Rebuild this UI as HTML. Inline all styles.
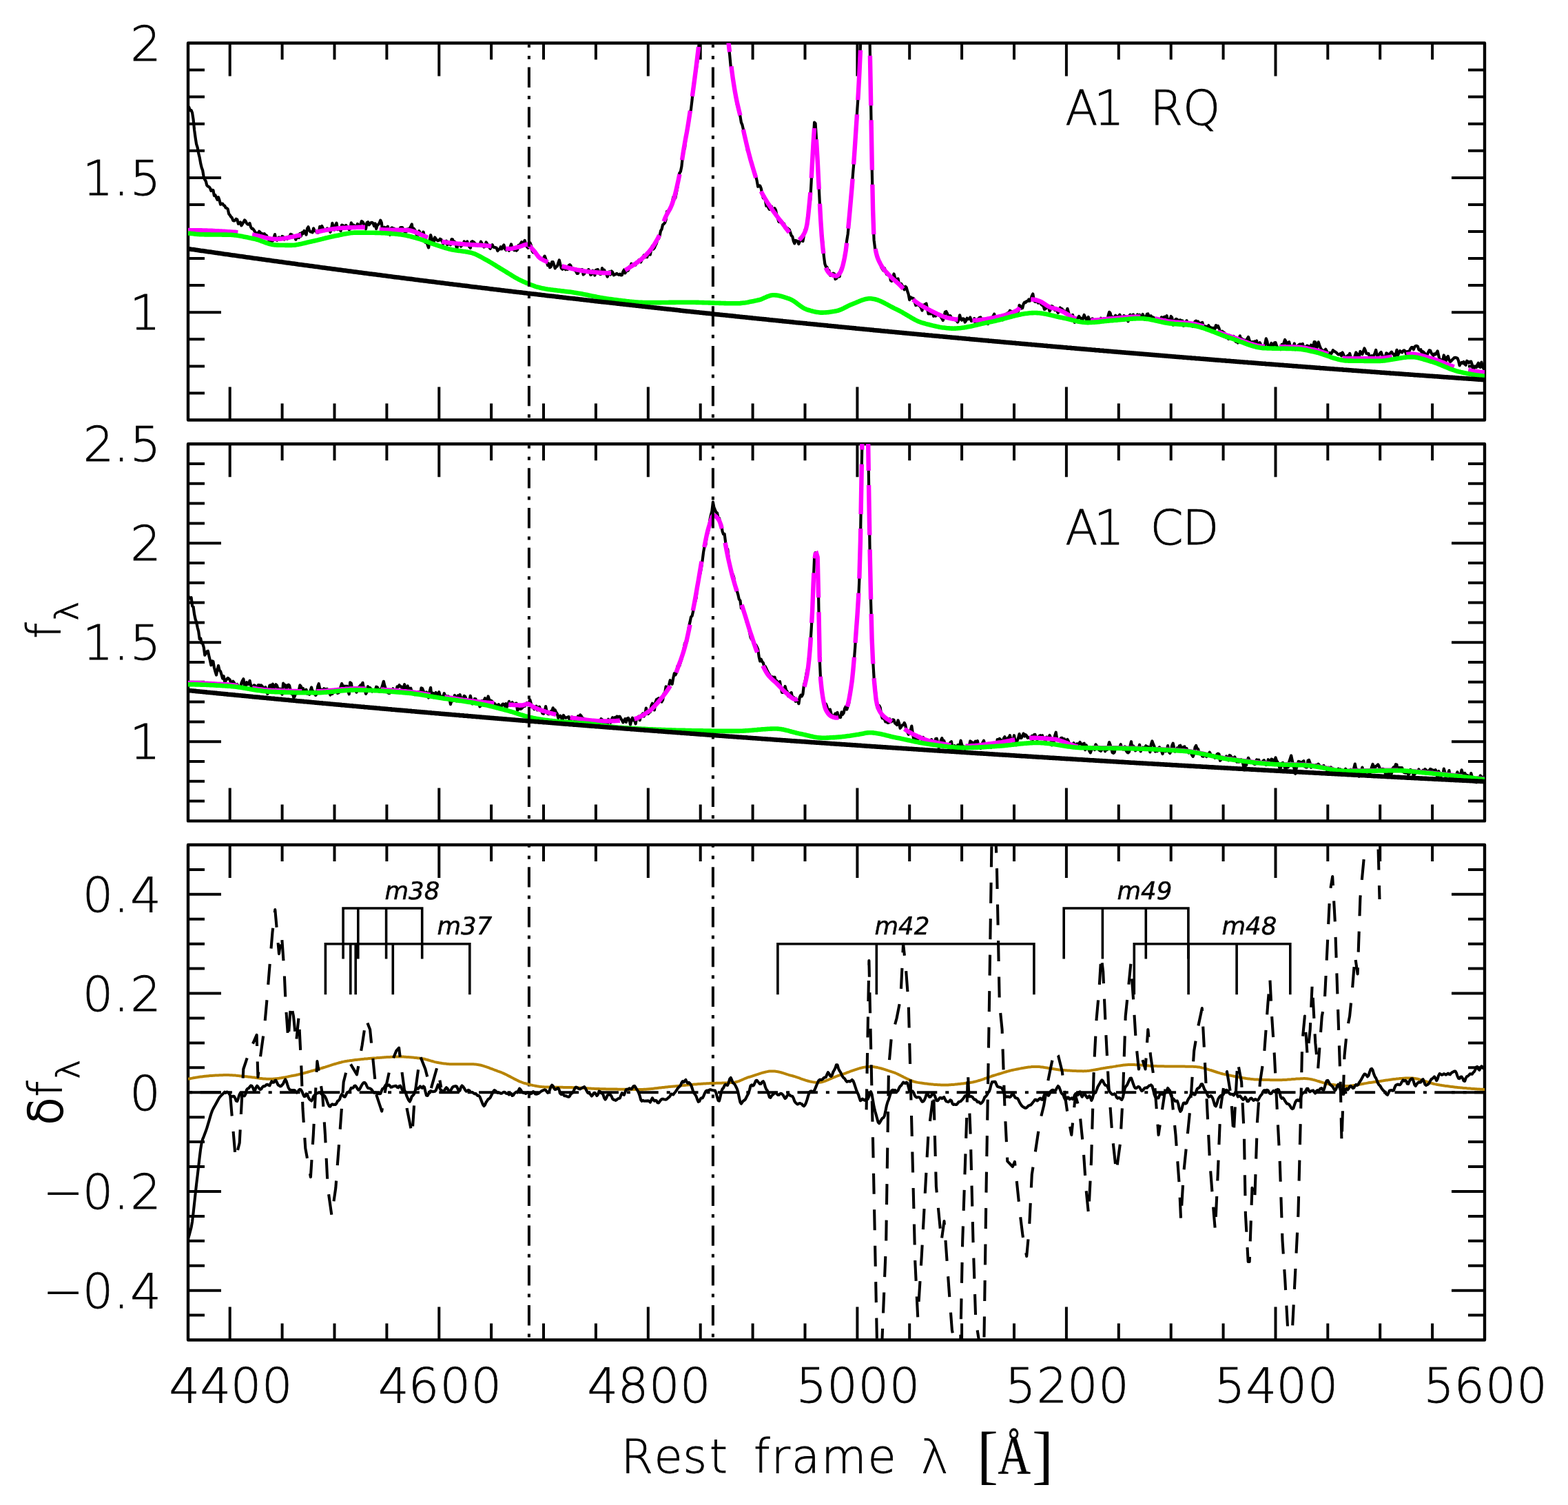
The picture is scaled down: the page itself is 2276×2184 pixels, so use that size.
<!DOCTYPE html>
<html><head><meta charset="utf-8"><title>Spectra</title><style>html,body{margin:0;padding:0;background:#fff;}svg{display:block;}</style></head><body>
<svg width="2276" height="2184" viewBox="0 0 2276 2184">
<rect width="2276" height="2184" fill="#fff"/>
<defs>
<clipPath id="c1"><rect x="273.0" y="62.5" width="1882.0" height="547.0"/></clipPath>
<clipPath id="c2"><rect x="273.0" y="644.2" width="1882.0" height="547.2"/></clipPath>
<clipPath id="c3"><rect x="273.0" y="1226.0" width="1882.0" height="718.5"/></clipPath>
</defs>
<rect x="273.0" y="62.5" width="1882.0" height="547.0" fill="none" stroke="#000" stroke-width="4.4" stroke-linejoin="round"/>
<path d="M333.7,62.5V110.5M333.7,609.5V561.5M409.6,62.5V86.5M409.6,609.5V585.5M485.5,62.5V86.5M485.5,609.5V585.5M561.4,62.5V86.5M561.4,609.5V585.5M637.3,62.5V110.5M637.3,609.5V561.5M713.1,62.5V86.5M713.1,609.5V585.5M789.0,62.5V86.5M789.0,609.5V585.5M864.9,62.5V86.5M864.9,609.5V585.5M940.8,62.5V110.5M940.8,609.5V561.5M1016.7,62.5V86.5M1016.7,609.5V585.5M1092.6,62.5V86.5M1092.6,609.5V585.5M1168.5,62.5V86.5M1168.5,609.5V585.5M1244.4,62.5V110.5M1244.4,609.5V561.5M1320.2,62.5V86.5M1320.2,609.5V585.5M1396.1,62.5V86.5M1396.1,609.5V585.5M1472.0,62.5V86.5M1472.0,609.5V585.5M1547.9,62.5V110.5M1547.9,609.5V561.5M1623.8,62.5V86.5M1623.8,609.5V585.5M1699.7,62.5V86.5M1699.7,609.5V585.5M1775.6,62.5V86.5M1775.6,609.5V585.5M1851.5,62.5V110.5M1851.5,609.5V561.5M1927.3,62.5V86.5M1927.3,609.5V585.5M2003.2,62.5V86.5M2003.2,609.5V585.5M2079.1,62.5V86.5M2079.1,609.5V585.5M273.0,570.4H297.0M2155.0,570.4H2131.0M273.0,531.4H297.0M2155.0,531.4H2131.0M273.0,492.3H297.0M2155.0,492.3H2131.0M273.0,453.2H321.0M2155.0,453.2H2107.0M273.0,414.1H297.0M2155.0,414.1H2131.0M273.0,375.1H297.0M2155.0,375.1H2131.0M273.0,336.0H297.0M2155.0,336.0H2131.0M273.0,296.9H297.0M2155.0,296.9H2131.0M273.0,257.9H321.0M2155.0,257.9H2107.0M273.0,218.8H297.0M2155.0,218.8H2131.0M273.0,179.7H297.0M2155.0,179.7H2131.0M273.0,140.6H297.0M2155.0,140.6H2131.0M273.0,101.6H297.0M2155.0,101.6H2131.0" stroke="#000" stroke-width="4" fill="none"/>
<rect x="273.0" y="644.2" width="1882.0" height="547.2" fill="none" stroke="#000" stroke-width="4.4" stroke-linejoin="round"/>
<path d="M333.7,644.2V692.2M333.7,1191.4V1143.4M409.6,644.2V668.2M409.6,1191.4V1167.4M485.5,644.2V668.2M485.5,1191.4V1167.4M561.4,644.2V668.2M561.4,1191.4V1167.4M637.3,644.2V692.2M637.3,1191.4V1143.4M713.1,644.2V668.2M713.1,1191.4V1167.4M789.0,644.2V668.2M789.0,1191.4V1167.4M864.9,644.2V668.2M864.9,1191.4V1167.4M940.8,644.2V692.2M940.8,1191.4V1143.4M1016.7,644.2V668.2M1016.7,1191.4V1167.4M1092.6,644.2V668.2M1092.6,1191.4V1167.4M1168.5,644.2V668.2M1168.5,1191.4V1167.4M1244.4,644.2V692.2M1244.4,1191.4V1143.4M1320.2,644.2V668.2M1320.2,1191.4V1167.4M1396.1,644.2V668.2M1396.1,1191.4V1167.4M1472.0,644.2V668.2M1472.0,1191.4V1167.4M1547.9,644.2V692.2M1547.9,1191.4V1143.4M1623.8,644.2V668.2M1623.8,1191.4V1167.4M1699.7,644.2V668.2M1699.7,1191.4V1167.4M1775.6,644.2V668.2M1775.6,1191.4V1167.4M1851.5,644.2V692.2M1851.5,1191.4V1143.4M1927.3,644.2V668.2M1927.3,1191.4V1167.4M2003.2,644.2V668.2M2003.2,1191.4V1167.4M2079.1,644.2V668.2M2079.1,1191.4V1167.4M273.0,1162.6H297.0M2155.0,1162.6H2131.0M273.0,1133.8H297.0M2155.0,1133.8H2131.0M273.0,1105.0H297.0M2155.0,1105.0H2131.0M273.0,1076.2H321.0M2155.0,1076.2H2107.0M273.0,1047.4H297.0M2155.0,1047.4H2131.0M273.0,1018.6H297.0M2155.0,1018.6H2131.0M273.0,989.8H297.0M2155.0,989.8H2131.0M273.0,961.0H297.0M2155.0,961.0H2131.0M273.0,932.2H321.0M2155.0,932.2H2107.0M273.0,903.4H297.0M2155.0,903.4H2131.0M273.0,874.6H297.0M2155.0,874.6H2131.0M273.0,845.8H297.0M2155.0,845.8H2131.0M273.0,817.0H297.0M2155.0,817.0H2131.0M273.0,788.2H321.0M2155.0,788.2H2107.0M273.0,759.4H297.0M2155.0,759.4H2131.0M273.0,730.6H297.0M2155.0,730.6H2131.0M273.0,701.8H297.0M2155.0,701.8H2131.0M273.0,673.0H297.0M2155.0,673.0H2131.0" stroke="#000" stroke-width="4" fill="none"/>
<rect x="273.0" y="1226.0" width="1882.0" height="718.5" fill="none" stroke="#000" stroke-width="4.4" stroke-linejoin="round"/>
<path d="M333.7,1226.0V1274.0M333.7,1944.5V1896.5M409.6,1226.0V1250.0M409.6,1944.5V1920.5M485.5,1226.0V1250.0M485.5,1944.5V1920.5M561.4,1226.0V1250.0M561.4,1944.5V1920.5M637.3,1226.0V1274.0M637.3,1944.5V1896.5M713.1,1226.0V1250.0M713.1,1944.5V1920.5M789.0,1226.0V1250.0M789.0,1944.5V1920.5M864.9,1226.0V1250.0M864.9,1944.5V1920.5M940.8,1226.0V1274.0M940.8,1944.5V1896.5M1016.7,1226.0V1250.0M1016.7,1944.5V1920.5M1092.6,1226.0V1250.0M1092.6,1944.5V1920.5M1168.5,1226.0V1250.0M1168.5,1944.5V1920.5M1244.4,1226.0V1274.0M1244.4,1944.5V1896.5M1320.2,1226.0V1250.0M1320.2,1944.5V1920.5M1396.1,1226.0V1250.0M1396.1,1944.5V1920.5M1472.0,1226.0V1250.0M1472.0,1944.5V1920.5M1547.9,1226.0V1274.0M1547.9,1944.5V1896.5M1623.8,1226.0V1250.0M1623.8,1944.5V1920.5M1699.7,1226.0V1250.0M1699.7,1944.5V1920.5M1775.6,1226.0V1250.0M1775.6,1944.5V1920.5M1851.5,1226.0V1274.0M1851.5,1944.5V1896.5M1927.3,1226.0V1250.0M1927.3,1944.5V1920.5M2003.2,1226.0V1250.0M2003.2,1944.5V1920.5M2079.1,1226.0V1250.0M2079.1,1944.5V1920.5M273.0,1908.6H297.0M2155.0,1908.6H2131.0M273.0,1872.7H321.0M2155.0,1872.7H2107.0M273.0,1836.7H297.0M2155.0,1836.7H2131.0M273.0,1800.8H297.0M2155.0,1800.8H2131.0M273.0,1764.9H297.0M2155.0,1764.9H2131.0M273.0,1729.0H321.0M2155.0,1729.0H2107.0M273.0,1693.0H297.0M2155.0,1693.0H2131.0M273.0,1657.1H297.0M2155.0,1657.1H2131.0M273.0,1621.2H297.0M2155.0,1621.2H2131.0M273.0,1585.2H321.0M2155.0,1585.2H2107.0M273.0,1549.3H297.0M2155.0,1549.3H2131.0M273.0,1513.4H297.0M2155.0,1513.4H2131.0M273.0,1477.5H297.0M2155.0,1477.5H2131.0M273.0,1441.5H321.0M2155.0,1441.5H2107.0M273.0,1405.6H297.0M2155.0,1405.6H2131.0M273.0,1369.7H297.0M2155.0,1369.7H2131.0M273.0,1333.8H297.0M2155.0,1333.8H2131.0M273.0,1297.8H321.0M2155.0,1297.8H2107.0M273.0,1261.9H297.0M2155.0,1261.9H2131.0" stroke="#000" stroke-width="4" fill="none"/>
<g clip-path="url(#c1)">
<path d="M273.0,154.1 L274.5,156.1 L276.0,160.2 L277.6,160.0 L279.1,163.7 L280.6,173.3 L282.1,188.5 L283.6,199.6 L285.1,209.2 L286.7,214.2 L288.2,222.5 L289.7,228.5 L291.2,237.0 L292.7,243.3 L294.2,247.3 L295.8,257.1 L297.3,260.7 L298.8,263.0 L300.3,268.9 L301.8,270.5 L303.4,271.1 L304.9,273.1 L306.4,276.9 L307.9,275.7 L309.4,276.0 L310.9,283.9 L312.5,283.2 L314.0,286.8 L315.5,289.8 L317.0,286.2 L318.5,290.4 L320.1,296.7 L321.6,295.7 L323.1,295.5 L324.6,298.0 L326.1,298.5 L327.6,301.5 L329.2,302.1 L330.7,303.6 L332.2,310.3 L333.7,312.1 L335.2,314.6 L336.7,315.9 L338.3,320.0 L339.8,320.5 L341.3,319.7 L342.8,317.7 L344.3,318.6 L345.9,324.8 L347.4,324.4 L348.9,322.4 L350.4,327.3 L351.9,325.0 L353.4,322.4 L355.0,319.4 L356.5,320.8 L358.0,324.1 L359.5,325.6 L361.0,325.6 L362.5,324.1 L364.1,329.6 L365.6,331.9 L367.1,331.9 L368.6,334.0 L370.1,336.3 L371.7,339.2 L373.2,338.3 L374.7,338.5 L376.2,335.8 L377.7,337.1 L379.2,339.3 L380.8,339.2 L382.3,341.0 L383.8,339.2 L385.3,341.1 L386.8,341.7 L388.3,345.2 L389.9,347.1 L391.4,352.7 L392.9,354.3 L394.4,349.8 L395.9,349.5 L397.5,345.1 L399.0,340.1 L400.5,347.9 L402.0,348.8 L403.5,345.7 L405.0,344.5 L406.6,346.1 L408.1,345.8 L409.6,342.9 L411.1,343.6 L412.6,347.5 L414.1,345.3 L415.7,344.7 L417.2,346.6 L418.7,343.8 L420.2,344.5 L421.7,339.8 L423.3,340.5 L424.8,341.5 L426.3,343.0 L427.8,343.1 L429.3,347.7 L430.8,344.8 L432.4,340.8 L433.9,345.0 L435.4,338.9 L436.9,342.7 L438.4,337.3 L440.0,338.9 L441.5,334.9 L443.0,336.9 L444.5,340.6 L446.0,331.6 L447.5,329.3 L449.1,334.5 L450.6,336.3 L452.1,336.5 L453.6,337.3 L455.1,331.3 L456.6,334.9 L458.2,335.0 L459.7,337.1 L461.2,337.6 L462.7,337.3 L464.2,328.8 L465.8,330.5 L467.3,328.0 L468.8,331.3 L470.3,334.6 L471.8,333.8 L473.3,333.5 L474.9,331.5 L476.4,332.2 L477.9,333.1 L479.4,336.7 L480.9,332.6 L482.4,323.9 L484.0,331.3 L485.5,333.6 L487.0,326.9 L488.5,323.7 L490.0,333.2 L491.6,331.2 L493.1,332.8 L494.6,335.2 L496.1,326.6 L497.6,327.0 L499.1,328.1 L500.7,330.2 L502.2,326.9 L503.7,329.4 L505.2,329.6 L506.7,333.3 L508.2,332.1 L509.8,323.3 L511.3,327.5 L512.8,326.3 L514.3,327.2 L515.8,329.3 L517.4,328.7 L518.9,324.9 L520.4,327.5 L521.9,327.6 L523.4,325.5 L524.9,320.9 L526.5,322.1 L528.0,324.9 L529.5,330.1 L531.0,332.2 L532.5,323.3 L534.1,322.1 L535.6,326.3 L537.1,324.6 L538.6,323.1 L540.1,322.8 L541.6,324.1 L543.2,328.1 L544.7,324.4 L546.2,332.0 L547.7,326.6 L549.2,325.8 L550.7,323.7 L552.3,319.6 L553.8,323.1 L555.3,335.2 L556.8,337.7 L558.3,329.7 L559.9,333.8 L561.4,330.6 L562.9,328.6 L564.4,338.7 L565.9,340.8 L567.4,331.6 L569.0,330.3 L570.5,331.5 L572.0,331.5 L573.5,335.7 L575.0,338.0 L576.5,333.9 L578.1,336.6 L579.6,338.0 L581.1,330.3 L582.6,330.0 L584.1,330.1 L585.7,335.3 L587.2,335.9 L588.7,337.0 L590.2,335.9 L591.7,332.4 L593.2,334.4 L594.8,330.9 L596.3,328.5 L597.8,325.4 L599.3,336.2 L600.8,331.8 L602.4,334.2 L603.9,337.1 L605.4,342.8 L606.9,339.6 L608.4,335.2 L609.9,338.0 L611.5,339.4 L613.0,340.1 L614.5,336.6 L616.0,342.9 L617.5,352.0 L619.0,350.1 L620.6,355.4 L622.1,359.4 L623.6,348.9 L625.1,341.1 L626.6,345.9 L628.2,352.0 L629.7,350.9 L631.2,344.5 L632.7,346.7 L634.2,348.5 L635.7,349.3 L637.3,348.8 L638.8,346.7 L640.3,347.6 L641.8,350.3 L643.3,353.9 L644.8,351.0 L646.4,352.4 L647.9,349.7 L649.4,355.2 L650.9,353.6 L652.4,353.5 L654.0,355.3 L655.5,347.2 L657.0,347.3 L658.5,352.7 L660.0,350.8 L661.5,353.6 L663.1,361.1 L664.6,354.9 L666.1,353.7 L667.6,354.5 L669.1,357.5 L670.6,355.9 L672.2,354.1 L673.7,350.5 L675.2,352.5 L676.7,353.2 L678.2,350.4 L679.8,355.7 L681.3,358.0 L682.8,359.8 L684.3,350.9 L685.8,350.2 L687.3,351.1 L688.9,352.5 L690.4,354.4 L691.9,355.0 L693.4,356.4 L694.9,356.5 L696.5,354.6 L698.0,350.7 L699.5,353.1 L701.0,356.3 L702.5,358.5 L704.0,357.5 L705.6,351.5 L707.1,353.7 L708.6,356.4 L710.1,358.8 L711.6,360.8 L713.1,357.7 L714.7,355.2 L716.2,358.5 L717.7,359.2 L719.2,359.1 L720.7,359.7 L722.3,364.0 L723.8,361.8 L725.3,361.7 L726.8,358.3 L728.3,361.3 L729.8,357.9 L731.4,355.5 L732.9,360.9 L734.4,362.8 L735.9,360.8 L737.4,361.6 L738.9,363.7 L740.5,358.7 L742.0,354.4 L743.5,360.0 L745.0,361.9 L746.5,363.2 L748.1,360.4 L749.6,363.7 L751.1,362.2 L752.6,355.9 L754.1,358.9 L755.6,353.6 L757.2,351.2 L758.7,354.0 L760.2,352.4 L761.7,348.9 L763.2,354.5 L764.7,357.8 L766.3,359.8 L767.8,355.9 L769.3,352.1 L770.8,355.8 L772.3,363.8 L773.9,366.4 L775.4,366.3 L776.9,365.9 L778.4,368.5 L779.9,369.6 L781.4,371.4 L783.0,374.6 L784.5,375.3 L786.0,375.4 L787.5,376.5 L789.0,374.6 L790.6,371.6 L792.1,375.6 L793.6,380.3 L795.1,385.2 L796.6,382.4 L798.1,388.2 L799.7,387.1 L801.2,380.2 L802.7,380.1 L804.2,384.5 L805.7,389.4 L807.2,387.1 L808.8,386.4 L810.3,381.6 L811.8,377.5 L813.3,383.8 L814.8,389.2 L816.4,390.7 L817.9,388.1 L819.4,388.7 L820.9,391.3 L822.4,389.4 L823.9,391.0 L825.5,385.3 L827.0,384.1 L828.5,385.6 L830.0,390.1 L831.5,389.1 L833.0,390.9 L834.6,392.5 L836.1,393.6 L837.6,397.0 L839.1,396.8 L840.6,391.0 L842.2,392.3 L843.7,391.4 L845.2,391.1 L846.7,398.5 L848.2,397.1 L849.7,393.5 L851.3,392.8 L852.8,394.1 L854.3,391.1 L855.8,393.9 L857.3,398.9 L858.8,397.9 L860.4,392.7 L861.9,394.4 L863.4,399.6 L864.9,392.0 L866.4,391.4 L868.0,391.1 L869.5,396.0 L871.0,397.8 L872.5,397.6 L874.0,389.0 L875.5,393.3 L877.1,391.7 L878.6,396.8 L880.1,397.4 L881.6,401.6 L883.1,397.9 L884.6,394.4 L886.2,398.5 L887.7,393.5 L889.2,395.0 L890.7,399.4 L892.2,398.7 L893.8,397.8 L895.3,396.8 L896.8,398.2 L898.3,398.9 L899.8,397.8 L901.3,399.4 L902.9,399.2 L904.4,394.2 L905.9,391.5 L907.4,396.3 L908.9,392.9 L910.5,393.1 L912.0,392.3 L913.5,386.8 L915.0,387.2 L916.5,382.7 L918.0,386.4 L919.6,384.0 L921.1,384.5 L922.6,384.6 L924.1,380.3 L925.6,379.9 L927.1,377.5 L928.7,378.5 L930.2,380.3 L931.7,376.6 L933.2,373.3 L934.7,370.4 L936.3,373.4 L937.8,371.9 L939.3,373.1 L940.8,366.7 L942.3,369.1 L943.8,369.5 L945.4,361.8 L946.9,356.8 L948.4,361.5 L949.9,359.6 L951.4,356.0 L952.9,353.2 L954.5,346.9 L956.0,346.4 L957.5,342.6 L959.0,335.2 L960.5,332.7 L962.1,326.1 L963.6,325.0 L965.1,323.2 L966.6,319.1 L968.1,306.8 L969.6,307.6 L971.2,305.0 L972.7,302.5 L974.2,298.9 L975.7,294.0 L977.2,286.1 L978.8,289.2 L980.3,287.1 L981.8,279.8 L983.3,272.2 L984.8,258.9 L986.3,251.2 L987.9,248.9 L989.4,241.5 L990.9,227.6 L992.4,215.2 L993.9,215.7 L995.4,201.3 L997.0,193.7 L998.5,181.1 L1000.0,176.0 L1001.5,166.1 L1003.0,158.5 L1004.6,145.1 L1006.1,126.7 L1007.6,116.2 L1009.1,109.4 L1010.6,101.0 L1012.1,91.1 L1013.7,73.8 L1015.2,56.8 L1016.7,38.5 L1018.2,18.9 L1019.7,0.1 L1021.2,-22.7 L1022.8,-42.2 L1024.3,-60.2 L1025.8,-72.1 L1027.3,-76.3 L1028.8,-83.2 L1030.4,-93.4 L1031.9,-99.7 L1033.4,-105.3 L1034.9,-110.4 L1036.4,-110.5 L1037.9,-112.5 L1039.5,-106.6 L1041.0,-99.1 L1042.5,-87.8 L1044.0,-74.6 L1045.5,-62.5 L1047.0,-52.8 L1048.6,-39.8 L1050.1,-25.4 L1051.6,-5.9 L1053.1,16.7 L1054.6,33.3 L1056.2,53.6 L1057.7,67.1 L1059.2,80.2 L1060.7,96.5 L1062.2,103.1 L1063.7,112.7 L1065.3,124.1 L1066.8,134.4 L1068.3,143.1 L1069.8,151.7 L1071.3,156.7 L1072.8,162.9 L1074.4,168.5 L1075.9,177.6 L1077.4,181.1 L1078.9,187.6 L1080.4,195.7 L1082.0,203.0 L1083.5,208.4 L1085.0,219.1 L1086.5,220.3 L1088.0,225.1 L1089.5,230.7 L1091.1,236.5 L1092.6,244.6 L1094.1,248.5 L1095.6,250.5 L1097.1,255.5 L1098.7,262.4 L1100.2,270.8 L1101.7,269.2 L1103.2,269.5 L1104.7,273.3 L1106.2,280.3 L1107.8,287.4 L1109.3,284.6 L1110.8,290.5 L1112.3,299.0 L1113.8,295.5 L1115.3,301.3 L1116.9,303.9 L1118.4,302.5 L1119.9,299.6 L1121.4,304.9 L1122.9,305.2 L1124.5,302.3 L1126.0,305.0 L1127.5,312.6 L1129.0,317.1 L1130.5,322.0 L1132.0,322.1 L1133.6,320.2 L1135.1,321.6 L1136.6,323.9 L1138.1,324.8 L1139.6,331.1 L1141.1,331.7 L1142.7,330.8 L1144.2,332.3 L1145.7,333.3 L1147.2,337.5 L1148.7,341.7 L1150.3,343.4 L1151.8,350.0 L1153.3,353.3 L1154.8,348.9 L1156.3,349.6 L1157.8,350.1 L1159.4,354.1 L1160.9,350.3 L1162.4,348.7 L1163.9,349.0 L1165.4,350.0 L1167.0,341.6 L1168.5,333.4 L1170.0,330.7 L1171.5,326.6 L1173.0,313.7 L1174.5,299.0 L1176.1,290.6 L1177.6,264.6 L1179.1,231.7 L1180.6,203.2 L1182.1,177.7 L1183.6,179.3 L1185.2,204.9 L1186.7,231.5 L1188.2,261.1 L1189.7,292.1 L1191.2,318.6 L1192.8,338.4 L1194.3,352.3 L1195.8,371.3 L1197.3,382.8 L1198.8,387.1 L1200.3,387.5 L1201.9,392.3 L1203.4,392.4 L1204.9,399.7 L1206.4,400.0 L1207.9,399.3 L1209.4,396.6 L1211.0,397.4 L1212.5,405.0 L1214.0,404.2 L1215.5,400.2 L1217.0,401.7 L1218.6,401.3 L1220.1,392.2 L1221.6,388.7 L1223.1,384.9 L1224.6,380.6 L1226.1,370.4 L1227.7,362.9 L1229.2,348.8 L1230.7,339.5 L1232.2,324.2 L1233.7,305.3 L1235.2,289.3 L1236.8,267.7 L1238.3,249.2 L1239.8,231.5 L1241.3,207.6 L1242.8,184.0 L1244.4,157.6 L1245.9,136.1 L1247.4,107.1 L1248.9,68.2 L1250.4,17.4 L1251.9,-52.3 L1253.5,-118.5 L1255.0,-166.7 L1256.5,-172.0 L1258.0,-133.4 L1259.5,-73.3 L1261.1,-7.3 L1262.6,61.7 L1264.1,150.2 L1265.6,239.0 L1267.1,309.8 L1268.6,348.2 L1270.2,360.9 L1271.7,367.5 L1273.2,371.2 L1274.7,374.5 L1276.2,379.7 L1277.7,381.9 L1279.3,388.0 L1280.8,390.4 L1282.3,392.6 L1283.8,389.1 L1285.3,393.4 L1286.9,397.9 L1288.4,398.7 L1289.9,399.0 L1291.4,399.4 L1292.9,406.9 L1294.4,407.9 L1296.0,404.5 L1297.5,397.5 L1299.0,402.3 L1300.5,407.5 L1302.0,406.1 L1303.5,404.4 L1305.1,412.0 L1306.6,414.5 L1308.1,411.8 L1309.6,414.4 L1311.1,417.0 L1312.7,420.4 L1314.2,415.7 L1315.7,417.2 L1317.2,422.7 L1318.7,427.1 L1320.2,435.1 L1321.8,431.1 L1323.3,432.7 L1324.8,432.6 L1326.3,433.4 L1327.8,438.6 L1329.3,443.2 L1330.9,439.8 L1332.4,442.4 L1333.9,443.2 L1335.4,444.5 L1336.9,446.4 L1338.5,450.5 L1340.0,442.7 L1341.5,443.1 L1343.0,441.4 L1344.5,440.4 L1346.0,448.0 L1347.6,455.4 L1349.1,455.0 L1350.6,455.5 L1352.1,453.8 L1353.6,453.8 L1355.2,458.8 L1356.7,455.2 L1358.2,458.6 L1359.7,455.4 L1361.2,456.2 L1362.7,457.6 L1364.3,458.1 L1365.8,460.1 L1367.3,462.2 L1368.8,464.9 L1370.3,459.6 L1371.8,452.9 L1373.4,452.0 L1374.9,454.8 L1376.4,458.6 L1377.9,462.1 L1379.4,458.1 L1381.0,461.4 L1382.5,463.1 L1384.0,463.8 L1385.5,463.4 L1387.0,464.7 L1388.5,465.0 L1390.1,467.5 L1391.6,464.1 L1393.1,457.3 L1394.6,462.8 L1396.1,464.6 L1397.6,462.3 L1399.2,462.7 L1400.7,467.6 L1402.2,465.4 L1403.7,461.8 L1405.2,463.1 L1406.8,463.0 L1408.3,460.5 L1409.8,465.8 L1411.3,465.6 L1412.8,465.4 L1414.3,462.2 L1415.9,470.3 L1417.4,468.7 L1418.9,466.3 L1420.4,462.3 L1421.9,460.9 L1423.4,460.5 L1425.0,467.2 L1426.5,462.9 L1428.0,464.4 L1429.5,465.2 L1431.0,462.6 L1432.6,466.9 L1434.1,470.1 L1435.6,466.2 L1437.1,467.5 L1438.6,464.6 L1440.1,460.5 L1441.7,458.6 L1443.2,455.7 L1444.7,461.1 L1446.2,465.7 L1447.7,464.2 L1449.2,464.0 L1450.8,463.4 L1452.3,459.0 L1453.8,461.8 L1455.3,464.4 L1456.8,457.3 L1458.4,457.0 L1459.9,455.9 L1461.4,455.5 L1462.9,454.0 L1464.4,454.0 L1465.9,450.8 L1467.5,451.8 L1469.0,452.0 L1470.5,452.7 L1472.0,456.8 L1473.5,453.6 L1475.1,451.7 L1476.6,450.7 L1478.1,451.7 L1479.6,442.9 L1481.1,444.2 L1482.6,447.6 L1484.2,447.0 L1485.7,441.0 L1487.2,438.7 L1488.7,439.1 L1490.2,437.0 L1491.7,437.2 L1493.3,434.5 L1494.8,436.7 L1496.3,434.4 L1497.8,429.4 L1499.3,426.5 L1500.9,436.2 L1502.4,437.9 L1503.9,437.8 L1505.4,435.0 L1506.9,439.7 L1508.4,439.2 L1510.0,438.6 L1511.5,441.9 L1513.0,443.1 L1514.5,443.8 L1516.0,449.0 L1517.5,448.4 L1519.1,445.3 L1520.6,444.0 L1522.1,446.7 L1523.6,451.6 L1525.1,448.4 L1526.7,444.1 L1528.2,444.8 L1529.7,447.9 L1531.2,450.1 L1532.7,447.3 L1534.2,451.0 L1535.8,454.0 L1537.3,452.2 L1538.8,446.5 L1540.3,448.5 L1541.8,448.4 L1543.4,452.5 L1544.9,451.2 L1546.4,455.4 L1547.9,454.1 L1549.4,447.8 L1550.9,453.1 L1552.5,459.0 L1554.0,459.3 L1555.5,457.9 L1557.0,456.9 L1558.5,463.1 L1560.0,467.8 L1561.6,464.4 L1563.1,462.7 L1564.6,461.6 L1566.1,458.9 L1567.6,461.1 L1569.2,462.1 L1570.7,466.5 L1572.2,461.1 L1573.7,457.0 L1575.2,460.6 L1576.7,463.4 L1578.3,462.9 L1579.8,460.0 L1581.3,466.6 L1582.8,465.6 L1584.3,463.0 L1585.8,462.4 L1587.4,465.3 L1588.9,464.2 L1590.4,465.0 L1591.9,464.3 L1593.4,465.4 L1595.0,467.8 L1596.5,464.2 L1598.0,461.8 L1599.5,466.1 L1601.0,464.5 L1602.5,462.2 L1604.1,465.8 L1605.6,464.0 L1607.1,465.1 L1608.6,458.1 L1610.1,452.8 L1611.6,454.4 L1613.2,460.7 L1614.7,459.8 L1616.2,460.9 L1617.7,460.3 L1619.2,457.8 L1620.8,463.7 L1622.3,459.2 L1623.8,459.6 L1625.3,456.7 L1626.8,459.9 L1628.3,462.6 L1629.9,459.8 L1631.4,458.0 L1632.9,459.4 L1634.4,459.1 L1635.9,463.0 L1637.5,466.4 L1639.0,458.2 L1640.5,456.7 L1642.0,458.5 L1643.5,458.3 L1645.0,456.4 L1646.6,460.4 L1648.1,461.9 L1649.6,459.3 L1651.1,456.5 L1652.6,461.5 L1654.1,456.8 L1655.7,460.8 L1657.2,461.9 L1658.7,456.0 L1660.2,459.4 L1661.7,463.6 L1663.3,460.7 L1664.8,455.9 L1666.3,455.5 L1667.8,460.0 L1669.3,458.6 L1670.8,458.4 L1672.4,461.9 L1673.9,460.4 L1675.4,461.6 L1676.9,463.7 L1678.4,463.9 L1679.9,462.5 L1681.5,462.9 L1683.0,465.0 L1684.5,464.2 L1686.0,460.3 L1687.5,461.7 L1689.1,460.3 L1690.6,459.6 L1692.1,460.2 L1693.6,458.1 L1695.1,465.5 L1696.6,463.8 L1698.2,464.6 L1699.7,459.0 L1701.2,460.8 L1702.7,471.6 L1704.2,470.2 L1705.7,464.4 L1707.3,462.9 L1708.8,463.6 L1710.3,465.9 L1711.8,464.8 L1713.3,464.4 L1714.9,465.8 L1716.4,465.5 L1717.9,472.8 L1719.4,467.7 L1720.9,469.2 L1722.4,465.3 L1724.0,468.1 L1725.5,470.2 L1727.0,468.0 L1728.5,471.2 L1730.0,472.8 L1731.6,473.9 L1733.1,469.4 L1734.6,466.5 L1736.1,465.6 L1737.6,468.3 L1739.1,466.6 L1740.7,469.4 L1742.2,470.4 L1743.7,468.5 L1745.2,468.0 L1746.7,472.3 L1748.2,473.5 L1749.8,473.5 L1751.3,474.0 L1752.8,475.9 L1754.3,472.3 L1755.8,475.1 L1757.4,475.1 L1758.9,478.1 L1760.4,475.9 L1761.9,476.1 L1763.4,477.3 L1764.9,472.1 L1766.5,474.9 L1768.0,473.0 L1769.5,476.3 L1771.0,482.3 L1772.5,482.7 L1774.0,480.8 L1775.6,481.9 L1777.1,483.0 L1778.6,485.8 L1780.1,490.1 L1781.6,488.4 L1783.2,491.9 L1784.7,486.7 L1786.2,488.6 L1787.7,489.4 L1789.2,488.0 L1790.7,487.9 L1792.3,493.6 L1793.8,495.9 L1795.3,495.3 L1796.8,497.6 L1798.3,493.5 L1799.8,487.3 L1801.4,492.8 L1802.9,491.6 L1804.4,495.9 L1805.9,493.3 L1807.4,494.3 L1809.0,494.0 L1810.5,491.4 L1812.0,489.0 L1813.5,493.5 L1815.0,496.3 L1816.5,499.0 L1818.1,496.1 L1819.6,497.1 L1821.1,495.4 L1822.6,496.3 L1824.1,494.6 L1825.7,503.9 L1827.2,500.9 L1828.7,497.1 L1830.2,500.6 L1831.7,502.7 L1833.2,502.4 L1834.8,504.3 L1836.3,498.7 L1837.8,491.4 L1839.3,495.4 L1840.8,503.3 L1842.3,504.0 L1843.9,501.3 L1845.4,498.0 L1846.9,502.5 L1848.4,502.2 L1849.9,497.3 L1851.5,497.1 L1853.0,501.5 L1854.5,505.1 L1856.0,506.4 L1857.5,505.3 L1859.0,507.1 L1860.6,500.0 L1862.1,501.1 L1863.6,497.5 L1865.1,492.9 L1866.6,495.8 L1868.1,502.0 L1869.7,497.2 L1871.2,496.3 L1872.7,502.1 L1874.2,503.6 L1875.7,502.3 L1877.3,504.0 L1878.8,498.5 L1880.3,507.3 L1881.8,505.6 L1883.3,502.0 L1884.8,500.9 L1886.4,499.7 L1887.9,499.5 L1889.4,500.1 L1890.9,499.0 L1892.4,506.7 L1893.9,503.4 L1895.5,503.6 L1897.0,501.7 L1898.5,501.9 L1900.0,505.4 L1901.5,504.7 L1903.1,500.6 L1904.6,502.0 L1906.1,503.7 L1907.6,496.1 L1909.1,496.3 L1910.6,506.8 L1912.2,502.9 L1913.7,496.4 L1915.2,500.9 L1916.7,504.7 L1918.2,507.3 L1919.8,508.8 L1921.3,508.8 L1922.8,509.1 L1924.3,506.7 L1925.8,509.8 L1927.3,511.9 L1928.9,513.9 L1930.4,512.0 L1931.9,513.7 L1933.4,511.6 L1934.9,508.2 L1936.4,509.7 L1938.0,510.4 L1939.5,511.4 L1941.0,513.0 L1942.5,514.3 L1944.0,514.5 L1945.6,513.0 L1947.1,516.4 L1948.6,511.5 L1950.1,514.5 L1951.6,517.9 L1953.1,517.9 L1954.7,517.8 L1956.2,516.0 L1957.7,516.6 L1959.2,513.0 L1960.7,518.7 L1962.2,523.6 L1963.8,520.9 L1965.3,522.2 L1966.8,516.1 L1968.3,511.5 L1969.8,513.4 L1971.4,519.4 L1972.9,517.2 L1974.4,510.0 L1975.9,512.7 L1977.4,514.0 L1978.9,509.8 L1980.5,505.5 L1982.0,508.9 L1983.5,513.2 L1985.0,513.3 L1986.5,513.2 L1988.0,517.2 L1989.6,518.6 L1991.1,516.3 L1992.6,517.8 L1994.1,515.6 L1995.6,512.7 L1997.2,508.0 L1998.7,515.6 L2000.2,515.8 L2001.7,514.8 L2003.2,512.4 L2004.7,511.1 L2006.3,515.6 L2007.8,518.2 L2009.3,520.3 L2010.8,517.3 L2012.3,512.4 L2013.9,513.3 L2015.4,516.2 L2016.9,514.4 L2018.4,512.0 L2019.9,510.7 L2021.4,513.2 L2023.0,513.9 L2024.5,517.6 L2026.0,514.3 L2027.5,507.8 L2029.0,515.7 L2030.5,512.1 L2032.1,509.2 L2033.6,510.6 L2035.1,511.5 L2036.6,509.2 L2038.1,508.3 L2039.7,509.7 L2041.2,513.8 L2042.7,510.1 L2044.2,510.6 L2045.7,509.4 L2047.2,506.3 L2048.8,504.2 L2050.3,504.1 L2051.8,507.2 L2053.3,503.7 L2054.8,502.0 L2056.3,501.9 L2057.9,502.6 L2059.4,507.5 L2060.9,508.3 L2062.4,507.3 L2063.9,512.5 L2065.5,510.2 L2067.0,511.6 L2068.5,513.2 L2070.0,517.1 L2071.5,515.2 L2073.0,511.5 L2074.6,508.4 L2076.1,508.5 L2077.6,512.3 L2079.1,514.3 L2080.6,515.9 L2082.1,513.5 L2083.7,514.4 L2085.2,511.8 L2086.7,509.5 L2088.2,515.9 L2089.7,521.9 L2091.3,522.1 L2092.8,523.8 L2094.3,522.1 L2095.8,515.5 L2097.3,518.9 L2098.8,524.0 L2100.4,518.7 L2101.9,517.0 L2103.4,522.3 L2104.9,524.9 L2106.4,524.1 L2107.9,522.1 L2109.5,520.6 L2111.0,519.0 L2112.5,518.9 L2114.0,519.3 L2115.5,519.7 L2117.1,523.7 L2118.6,530.4 L2120.1,527.6 L2121.6,526.0 L2123.1,527.1 L2124.6,524.9 L2126.2,528.6 L2127.7,529.7 L2129.2,523.7 L2130.7,524.8 L2132.2,526.5 L2133.8,524.8 L2135.3,524.7 L2136.8,529.2 L2138.3,537.3 L2139.8,534.0 L2141.3,532.5 L2142.9,533.2 L2144.4,529.4 L2145.9,526.8 L2147.4,531.9 L2148.9,532.9 L2150.4,525.6 L2152.0,531.6 L2153.5,534.9 L2155.0,530.9" stroke="#000" stroke-width="4.2" fill="none" stroke-linejoin="round"/>
<path d="M273.0,334.0 L274.5,334.0 L276.0,334.1 L277.6,334.1 L279.1,334.1 L280.6,334.1 L282.1,334.1 L283.6,334.1 L285.1,334.1 L286.7,334.2 L288.2,334.2 L289.7,334.2 L291.2,334.3 L292.7,334.3 L294.2,334.4 L295.8,334.4 L297.3,334.4 L298.8,334.5 L300.3,334.5 L301.8,334.6 L303.4,334.7 L304.9,334.7 L306.4,334.8 L307.9,334.8 L309.4,334.9 L310.9,335.0 L312.5,335.1 L314.0,335.1 L315.5,335.2 L317.0,335.3 L318.5,335.4 L320.1,335.5 L321.6,335.5 L323.1,335.6 L324.6,335.7 L326.1,335.8 L327.6,335.9 L329.2,336.0 L330.7,336.1 L332.2,336.2 L333.7,336.3 L335.2,336.4 L336.7,336.5 L338.3,336.6 L339.8,336.7 L341.3,336.8 L342.8,336.9 L344.3,337.1 L345.9,337.2 L347.4,337.3 L348.9,337.5 L350.4,337.7 L351.9,337.9 L353.4,338.1 L355.0,338.4 L356.5,338.7 L358.0,339.0 L359.5,339.2 L361.0,339.5 L362.5,339.8 L364.1,340.1 L365.6,340.4 L367.1,340.7 L368.6,341.0 L370.1,341.3 L371.7,341.6 L373.2,341.9 L374.7,342.3 L376.2,342.7 L377.7,343.0 L379.2,343.4 L380.8,343.8 L382.3,344.2 L383.8,344.5 L385.3,344.9 L386.8,345.2 L388.3,345.6 L389.9,345.8 L391.4,346.1 L392.9,346.4 L394.4,346.6 L395.9,346.7 L397.5,346.8 L399.0,346.9 L400.5,346.9 L402.0,346.9 L403.5,346.9 L405.0,346.8 L406.6,346.7 L408.1,346.5 L409.6,346.3 L411.1,346.1 L412.6,345.9 L414.1,345.7 L415.7,345.4 L417.2,345.1 L418.7,344.8 L420.2,344.5 L421.7,344.2 L423.3,343.9 L424.8,343.6 L426.3,343.2 L427.8,342.9 L429.3,342.6 L430.8,342.2 L432.4,341.9 L433.9,341.6 L435.4,341.3 L436.9,341.0 L438.4,340.7 L440.0,340.4 L441.5,340.1 L443.0,339.8 L444.5,339.5 L446.0,339.2 L447.5,338.8 L449.1,338.5 L450.6,338.2 L452.1,337.9 L453.6,337.6 L455.1,337.2 L456.6,337.0 L458.2,336.7 L459.7,336.4 L461.2,336.1 L462.7,335.9 L464.2,335.6 L465.8,335.3 L467.3,335.0 L468.8,334.7 L470.3,334.5 L471.8,334.2 L473.3,333.9 L474.9,333.6 L476.4,333.4 L477.9,333.1 L479.4,332.9 L480.9,332.6 L482.4,332.4 L484.0,332.2 L485.5,332.0 L487.0,331.8 L488.5,331.6 L490.0,331.4 L491.6,331.3 L493.1,331.1 L494.6,331.0 L496.1,330.9 L497.6,330.8 L499.1,330.7 L500.7,330.7 L502.2,330.6 L503.7,330.5 L505.2,330.4 L506.7,330.3 L508.2,330.3 L509.8,330.2 L511.3,330.1 L512.8,330.1 L514.3,330.0 L515.8,330.0 L517.4,329.9 L518.9,329.9 L520.4,329.8 L521.9,329.8 L523.4,329.8 L524.9,329.8 L526.5,329.8 L528.0,329.7 L529.5,329.8 L531.0,329.9 L532.5,330.0 L534.1,330.2 L535.6,330.4 L537.1,330.7 L538.6,330.9 L540.1,331.2 L541.6,331.5 L543.2,331.8 L544.7,332.1 L546.2,332.4 L547.7,332.6 L549.2,332.9 L550.7,333.0 L552.3,333.2 L553.8,333.3 L555.3,333.3 L556.8,333.4 L558.3,333.4 L559.9,333.4 L561.4,333.5 L562.9,333.5 L564.4,333.5 L565.9,333.6 L567.4,333.6 L569.0,333.6 L570.5,333.6 L572.0,333.6 L573.5,333.7 L575.0,333.7 L576.5,333.7 L578.1,333.7 L579.6,333.7 L581.1,333.8 L582.6,333.8 L584.1,333.8 L585.7,333.9 L587.2,333.9 L588.7,333.9 L590.2,334.0 L591.7,334.0 L593.2,334.2 L594.8,334.4 L596.3,334.7 L597.8,335.0 L599.3,335.5 L600.8,336.0 L602.4,336.6 L603.9,337.2 L605.4,337.8 L606.9,338.5 L608.4,339.2 L609.9,339.9 L611.5,340.6 L613.0,341.3 L614.5,342.0 L616.0,342.7 L617.5,343.3 L619.0,343.9 L620.6,344.5 L622.1,345.0 L623.6,345.5 L625.1,345.9 L626.6,346.4 L628.2,346.9 L629.7,347.4 L631.2,347.9 L632.7,348.3 L634.2,348.8 L635.7,349.2 L637.3,349.6 L638.8,350.0 L640.3,350.4 L641.8,350.7 L643.3,351.0 L644.8,351.2 L646.4,351.5 L647.9,351.7 L649.4,351.9 L650.9,352.1 L652.4,352.3 L654.0,352.5 L655.5,352.7 L657.0,352.8 L658.5,353.0 L660.0,353.1 L661.5,353.3 L663.1,353.4 L664.6,353.6 L666.1,353.7 L667.6,353.8 L669.1,354.0 L670.6,354.1 L672.2,354.2 L673.7,354.4 L675.2,354.5 L676.7,354.6 L678.2,354.7 L679.8,354.8 L681.3,354.9 L682.8,355.0 L684.3,355.1 L685.8,355.2 L687.3,355.3 L688.9,355.4 L690.4,355.5 L691.9,355.5 L693.4,355.6 L694.9,355.7 L696.5,355.8 L698.0,355.9 L699.5,356.0 L701.0,356.1 L702.5,356.2 L704.0,356.3 L705.6,356.4 L707.1,356.6 L708.6,356.7 L710.1,356.9 L711.6,357.1 L713.1,357.3 L714.7,357.5 L716.2,357.8 L717.7,358.0 L719.2,358.3 L720.7,358.6 L722.3,358.9 L723.8,359.2 L725.3,359.5 L726.8,359.8 L728.3,360.0 L729.8,360.3 L731.4,360.5 L732.9,360.6 L734.4,360.8 L735.9,360.9 L737.4,361.0 L738.9,361.0 L740.5,361.0 L742.0,360.8 L743.5,360.6 L745.0,360.3 L746.5,360.0 L748.1,359.6 L749.6,359.2 L751.1,358.7 L752.6,358.3 L754.1,357.9 L755.6,357.5 L757.2,357.0 L758.7,356.4 L760.2,355.8 L761.7,355.3 L763.2,354.9 L764.7,354.8 L766.3,355.1 L767.8,356.1 L769.3,357.5 L770.8,359.2 L772.3,360.9 L773.9,362.6 L775.4,364.3 L776.9,366.2 L778.4,368.3 L779.9,370.4 L781.4,372.3 L783.0,373.9 L784.5,375.1 L786.0,376.0 L787.5,376.8 L789.0,377.6 L790.6,378.3 L792.1,379.0 L793.6,379.6 L795.1,380.2 L796.6,380.8 L798.1,381.3 L799.7,381.8 L801.2,382.3 L802.7,382.8 L804.2,383.2 L805.7,383.6 L807.2,384.0 L808.8,384.4 L810.3,384.8 L811.8,385.2 L813.3,385.6 L814.8,386.0 L816.4,386.4 L817.9,386.8 L819.4,387.2 L820.9,387.6 L822.4,388.0 L823.9,388.4 L825.5,388.8 L827.0,389.1 L828.5,389.5 L830.0,389.9 L831.5,390.2 L833.0,390.6 L834.6,390.9 L836.1,391.2 L837.6,391.6 L839.1,391.9 L840.6,392.2 L842.2,392.5 L843.7,392.7 L845.2,393.0 L846.7,393.2 L848.2,393.5 L849.7,393.7 L851.3,393.9 L852.8,394.1 L854.3,394.2 L855.8,394.4 L857.3,394.5 L858.8,394.7 L860.4,394.8 L861.9,395.0 L863.4,395.1 L864.9,395.2 L866.4,395.4 L868.0,395.5 L869.5,395.6 L871.0,395.7 L872.5,395.8 L874.0,395.9 L875.5,396.0 L877.1,396.0 L878.6,396.1 L880.1,396.1 L881.6,396.2 L883.1,396.2 L884.6,396.2 L886.2,396.1 L887.7,396.1 L889.2,396.1 L890.7,396.0 L892.2,396.0 L893.8,395.9 L895.3,395.9 L896.8,395.8 L898.3,395.6 L899.8,395.4 L901.3,394.9 L902.9,394.4 L904.4,393.7 L905.9,393.0 L907.4,392.1 L908.9,391.3 L910.5,390.3 L912.0,389.3 L913.5,388.4 L915.0,387.4 L916.5,386.4 L918.0,385.4 L919.6,384.5 L921.1,383.5 L922.6,382.5 L924.1,381.4 L925.6,380.3 L927.1,379.2 L928.7,378.0 L930.2,376.8 L931.7,375.5 L933.2,374.1 L934.7,372.7 L936.3,371.3 L937.8,369.8 L939.3,368.2 L940.8,366.5 L942.3,364.8 L943.8,363.0 L945.4,361.0 L946.9,359.0 L948.4,356.8 L949.9,354.4 L951.4,352.0 L952.9,349.3 L954.5,346.5 L956.0,343.6 L957.5,340.2 L959.0,335.9 L960.5,331.1 L962.1,326.1 L963.6,321.4 L965.1,317.2 L966.6,313.9 L968.1,310.9 L969.6,308.2 L971.2,305.5 L972.7,302.7 L974.2,299.5 L975.7,295.8 L977.2,291.3 L978.8,286.3 L980.3,280.6 L981.8,274.4 L983.3,267.8 L984.8,260.8 L986.3,253.6 L987.9,245.4 L989.4,236.2 L990.9,226.5 L992.4,217.1 L993.9,208.3 L995.4,199.9 L997.0,191.5 L998.5,182.7 L1000.0,173.2 L1001.5,163.2 L1003.0,152.8 L1004.6,142.0 L1006.1,130.9 L1007.6,119.5 L1009.1,108.1 L1010.6,96.4 L1012.1,84.2 L1013.7,71.0 L1015.2,56.3 L1016.7,38.2 L1018.2,17.7 L1019.7,-3.5 L1021.2,-23.8 L1022.8,-41.4 L1024.3,-54.7 L1025.8,-65.4 L1027.3,-75.8 L1028.8,-85.7 L1030.4,-94.7 L1031.9,-102.3 L1033.4,-108.2 L1034.9,-112.0 L1036.4,-113.3 L1037.9,-111.4 L1039.5,-106.3 L1041.0,-98.5 L1042.5,-88.8 L1044.0,-77.8 L1045.5,-66.2 L1047.0,-54.7 L1048.6,-41.5 L1050.1,-25.2 L1051.6,-6.8 L1053.1,12.5 L1054.6,31.4 L1056.2,48.9 L1057.7,63.9 L1059.2,77.2 L1060.7,89.9 L1062.2,101.9 L1063.7,113.1 L1065.3,123.4 L1066.8,132.7 L1068.3,140.8 L1069.8,148.1 L1071.3,154.7 L1072.8,161.0 L1074.4,167.4 L1075.9,174.1 L1077.4,181.0 L1078.9,188.1 L1080.4,195.1 L1082.0,201.9 L1083.5,208.5 L1085.0,214.7 L1086.5,220.7 L1088.0,226.5 L1089.5,232.1 L1091.1,237.5 L1092.6,242.6 L1094.1,247.7 L1095.6,252.7 L1097.1,257.5 L1098.7,262.2 L1100.2,266.6 L1101.7,270.7 L1103.2,274.3 L1104.7,277.6 L1106.2,280.6 L1107.8,283.5 L1109.3,286.2 L1110.8,288.7 L1112.3,291.2 L1113.8,293.6 L1115.3,295.9 L1116.9,298.2 L1118.4,300.5 L1119.9,302.8 L1121.4,305.0 L1122.9,307.1 L1124.5,309.2 L1126.0,311.3 L1127.5,313.3 L1129.0,315.3 L1130.5,317.3 L1132.0,319.3 L1133.6,321.3 L1135.1,323.3 L1136.6,325.3 L1138.1,327.4 L1139.6,329.4 L1141.1,331.5 L1142.7,333.5 L1144.2,335.5 L1145.7,337.5 L1147.2,339.4 L1148.7,341.3 L1150.3,343.5 L1151.8,345.8 L1153.3,347.9 L1154.8,349.4 L1156.3,350.1 L1157.8,349.7 L1159.4,348.7 L1160.9,347.3 L1162.4,345.8 L1163.9,344.1 L1165.4,342.0 L1167.0,339.5 L1168.5,336.2 L1170.0,332.1 L1171.5,325.1 L1173.0,313.8 L1174.5,299.2 L1176.1,282.4 L1177.6,262.5 L1179.1,233.8 L1180.6,207.1 L1182.1,184.4 L1183.6,184.4 L1185.2,207.1 L1186.7,233.3 L1188.2,263.4 L1189.7,291.0 L1191.2,318.8 L1192.8,342.8 L1194.3,359.0 L1195.8,372.3 L1197.3,382.7 L1198.8,388.7 L1200.3,391.9 L1201.9,394.3 L1203.4,396.3 L1204.9,397.6 L1206.4,398.5 L1207.9,399.1 L1209.4,399.7 L1211.0,400.1 L1212.5,400.4 L1214.0,400.5 L1215.5,400.0 L1217.0,398.7 L1218.6,396.8 L1220.1,394.6 L1221.6,391.4 L1223.1,386.5 L1224.6,380.3 L1226.1,373.1 L1227.7,363.7 L1229.2,351.4 L1230.7,336.8 L1232.2,321.0 L1233.7,304.7 L1235.2,287.8 L1236.8,269.5 L1238.3,249.8 L1239.8,228.9 L1241.3,206.8 L1242.8,183.6 L1244.4,159.7 L1245.9,134.5 L1247.4,106.2 L1248.9,73.5 L1250.4,26.9 L1251.9,-44.2 L1253.5,-116.5 L1255.0,-164.7 L1256.5,-167.2 L1258.0,-133.3 L1259.5,-76.4 L1261.1,-7.4 L1262.6,62.5 L1264.1,146.7 L1265.6,232.1 L1267.1,304.6 L1268.6,348.5 L1270.2,358.9 L1271.7,366.6 L1273.2,372.2 L1274.7,376.3 L1276.2,379.5 L1277.7,382.5 L1279.3,385.3 L1280.8,387.8 L1282.3,389.9 L1283.8,391.9 L1285.3,393.6 L1286.9,395.3 L1288.4,396.9 L1289.9,398.5 L1291.4,400.1 L1292.9,401.7 L1294.4,403.1 L1296.0,404.5 L1297.5,405.9 L1299.0,407.2 L1300.5,408.5 L1302.0,409.9 L1303.5,411.2 L1305.1,412.7 L1306.6,414.1 L1308.1,415.7 L1309.6,417.4 L1311.1,419.1 L1312.7,420.9 L1314.2,422.7 L1315.7,424.5 L1317.2,426.3 L1318.7,428.1 L1320.2,429.8 L1321.8,431.4 L1323.3,433.0 L1324.8,434.4 L1326.3,435.6 L1327.8,436.8 L1329.3,437.9 L1330.9,439.0 L1332.4,440.1 L1333.9,441.1 L1335.4,442.1 L1336.9,443.0 L1338.5,444.0 L1340.0,444.9 L1341.5,445.7 L1343.0,446.6 L1344.5,447.4 L1346.0,448.2 L1347.6,449.0 L1349.1,449.8 L1350.6,450.6 L1352.1,451.3 L1353.6,452.1 L1355.2,452.8 L1356.7,453.6 L1358.2,454.3 L1359.7,455.1 L1361.2,455.8 L1362.7,456.5 L1364.3,457.2 L1365.8,457.9 L1367.3,458.5 L1368.8,459.1 L1370.3,459.7 L1371.8,460.2 L1373.4,460.6 L1374.9,461.0 L1376.4,461.4 L1377.9,461.7 L1379.4,462.0 L1381.0,462.3 L1382.5,462.6 L1384.0,462.9 L1385.5,463.1 L1387.0,463.3 L1388.5,463.5 L1390.1,463.7 L1391.6,463.9 L1393.1,464.0 L1394.6,464.2 L1396.1,464.3 L1397.6,464.4 L1399.2,464.5 L1400.7,464.6 L1402.2,464.7 L1403.7,464.7 L1405.2,464.8 L1406.8,464.9 L1408.3,464.9 L1409.8,464.9 L1411.3,464.9 L1412.8,464.9 L1414.3,464.9 L1415.9,464.8 L1417.4,464.7 L1418.9,464.6 L1420.4,464.5 L1421.9,464.3 L1423.4,464.2 L1425.0,464.0 L1426.5,463.8 L1428.0,463.5 L1429.5,463.3 L1431.0,463.1 L1432.6,462.8 L1434.1,462.5 L1435.6,462.3 L1437.1,462.0 L1438.6,461.7 L1440.1,461.4 L1441.7,461.1 L1443.2,460.8 L1444.7,460.5 L1446.2,460.2 L1447.7,459.9 L1449.2,459.5 L1450.8,459.2 L1452.3,458.9 L1453.8,458.6 L1455.3,458.2 L1456.8,457.8 L1458.4,457.4 L1459.9,457.0 L1461.4,456.6 L1462.9,456.1 L1464.4,455.6 L1465.9,455.0 L1467.5,454.5 L1469.0,453.8 L1470.5,453.2 L1472.0,452.5 L1473.5,451.7 L1475.1,450.9 L1476.6,450.1 L1478.1,448.8 L1479.6,447.0 L1481.1,444.8 L1482.6,442.6 L1484.2,440.4 L1485.7,438.7 L1487.2,437.6 L1488.7,436.9 L1490.2,436.2 L1491.7,435.7 L1493.3,435.2 L1494.8,434.8 L1496.3,434.5 L1497.8,434.5 L1499.3,434.5 L1500.9,434.7 L1502.4,435.0 L1503.9,435.4 L1505.4,435.9 L1506.9,436.3 L1508.4,436.8 L1510.0,437.4 L1511.5,438.1 L1513.0,439.0 L1514.5,439.9 L1516.0,440.9 L1517.5,441.9 L1519.1,443.0 L1520.6,443.9 L1522.1,444.8 L1523.6,445.6 L1525.1,446.2 L1526.7,446.7 L1528.2,447.1 L1529.7,447.5 L1531.2,447.8 L1532.7,448.1 L1534.2,448.7 L1535.8,449.3 L1537.3,449.9 L1538.8,450.6 L1540.3,451.2 L1541.8,451.9 L1543.4,452.6 L1544.9,453.3 L1546.4,454.2 L1547.9,455.1 L1549.4,456.1 L1550.9,457.0 L1552.5,458.0 L1554.0,458.9 L1555.5,459.7 L1557.0,460.5 L1558.5,461.2 L1560.0,461.7 L1561.6,462.2 L1563.1,462.6 L1564.6,463.0 L1566.1,463.3 L1567.6,463.7 L1569.2,464.1 L1570.7,464.4 L1572.2,464.6 L1573.7,464.8 L1575.2,464.9 L1576.7,465.0 L1578.3,465.0 L1579.8,465.0 L1581.3,465.0 L1582.8,464.9 L1584.3,464.9 L1585.8,464.8 L1587.4,464.7 L1588.9,464.6 L1590.4,464.5 L1591.9,464.4 L1593.4,464.2 L1595.0,464.1 L1596.5,463.9 L1598.0,463.8 L1599.5,463.6 L1601.0,463.5 L1602.5,463.3 L1604.1,463.1 L1605.6,463.0 L1607.1,462.8 L1608.6,462.7 L1610.1,462.5 L1611.6,462.4 L1613.2,462.2 L1614.7,462.1 L1616.2,462.0 L1617.7,461.9 L1619.2,461.8 L1620.8,461.6 L1622.3,461.5 L1623.8,461.4 L1625.3,461.2 L1626.8,461.1 L1628.3,461.0 L1629.9,460.8 L1631.4,460.7 L1632.9,460.6 L1634.4,460.4 L1635.9,460.3 L1637.5,460.2 L1639.0,460.1 L1640.5,459.9 L1642.0,459.8 L1643.5,459.7 L1645.0,459.7 L1646.6,459.6 L1648.1,459.5 L1649.6,459.5 L1651.1,459.4 L1652.6,459.4 L1654.1,459.4 L1655.7,459.4 L1657.2,459.4 L1658.7,459.4 L1660.2,459.5 L1661.7,459.7 L1663.3,459.8 L1664.8,460.0 L1666.3,460.3 L1667.8,460.5 L1669.3,460.8 L1670.8,461.1 L1672.4,461.4 L1673.9,461.7 L1675.4,462.0 L1676.9,462.4 L1678.4,462.7 L1679.9,463.1 L1681.5,463.4 L1683.0,463.8 L1684.5,464.1 L1686.0,464.5 L1687.5,464.8 L1689.1,465.1 L1690.6,465.4 L1692.1,465.7 L1693.6,466.0 L1695.1,466.3 L1696.6,466.5 L1698.2,466.7 L1699.7,466.9 L1701.2,467.0 L1702.7,467.2 L1704.2,467.3 L1705.7,467.5 L1707.3,467.6 L1708.8,467.7 L1710.3,467.8 L1711.8,467.9 L1713.3,468.0 L1714.9,468.1 L1716.4,468.2 L1717.9,468.3 L1719.4,468.4 L1720.9,468.5 L1722.4,468.7 L1724.0,468.8 L1725.5,469.0 L1727.0,469.1 L1728.5,469.3 L1730.0,469.5 L1731.6,469.8 L1733.1,470.0 L1734.6,470.3 L1736.1,470.6 L1737.6,471.0 L1739.1,471.4 L1740.7,471.8 L1742.2,472.2 L1743.7,472.7 L1745.2,473.1 L1746.7,473.6 L1748.2,474.1 L1749.8,474.6 L1751.3,475.2 L1752.8,475.7 L1754.3,476.3 L1755.8,476.8 L1757.4,477.4 L1758.9,478.0 L1760.4,478.6 L1761.9,479.2 L1763.4,479.8 L1764.9,480.4 L1766.5,481.0 L1768.0,481.6 L1769.5,482.2 L1771.0,482.8 L1772.5,483.3 L1774.0,483.9 L1775.6,484.5 L1777.1,485.1 L1778.6,485.6 L1780.1,486.2 L1781.6,486.7 L1783.2,487.2 L1784.7,487.7 L1786.2,488.2 L1787.7,488.7 L1789.2,489.2 L1790.7,489.7 L1792.3,490.3 L1793.8,490.8 L1795.3,491.4 L1796.8,491.9 L1798.3,492.5 L1799.8,493.1 L1801.4,493.7 L1802.9,494.3 L1804.4,494.8 L1805.9,495.4 L1807.4,496.0 L1809.0,496.6 L1810.5,497.1 L1812.0,497.7 L1813.5,498.2 L1815.0,498.7 L1816.5,499.2 L1818.1,499.6 L1819.6,500.1 L1821.1,500.5 L1822.6,500.9 L1824.1,501.3 L1825.7,501.6 L1827.2,501.9 L1828.7,502.2 L1830.2,502.4 L1831.7,502.6 L1833.2,502.7 L1834.8,502.8 L1836.3,502.9 L1837.8,502.9 L1839.3,503.0 L1840.8,503.0 L1842.3,503.1 L1843.9,503.1 L1845.4,503.2 L1846.9,503.2 L1848.4,503.2 L1849.9,503.3 L1851.5,503.3 L1853.0,503.3 L1854.5,503.3 L1856.0,503.3 L1857.5,503.3 L1859.0,503.3 L1860.6,503.3 L1862.1,503.3 L1863.6,503.3 L1865.1,503.4 L1866.6,503.4 L1868.1,503.4 L1869.7,503.4 L1871.2,503.4 L1872.7,503.4 L1874.2,503.4 L1875.7,503.5 L1877.3,503.5 L1878.8,503.5 L1880.3,503.6 L1881.8,503.6 L1883.3,503.7 L1884.8,503.8 L1886.4,503.9 L1887.9,504.0 L1889.4,504.2 L1890.9,504.4 L1892.4,504.7 L1893.9,504.9 L1895.5,505.2 L1897.0,505.5 L1898.5,505.8 L1900.0,506.1 L1901.5,506.5 L1903.1,506.8 L1904.6,507.1 L1906.1,507.4 L1907.6,507.7 L1909.1,508.0 L1910.6,508.4 L1912.2,508.8 L1913.7,509.2 L1915.2,509.6 L1916.7,510.0 L1918.2,510.5 L1919.8,511.0 L1921.3,511.5 L1922.8,512.0 L1924.3,512.5 L1925.8,513.0 L1927.3,513.5 L1928.9,514.1 L1930.4,514.6 L1931.9,515.1 L1933.4,515.6 L1934.9,516.1 L1936.4,516.5 L1938.0,517.0 L1939.5,517.4 L1941.0,517.8 L1942.5,518.2 L1944.0,518.6 L1945.6,518.9 L1947.1,519.2 L1948.6,519.5 L1950.1,519.7 L1951.6,519.9 L1953.1,520.0 L1954.7,520.1 L1956.2,520.1 L1957.7,520.1 L1959.2,520.1 L1960.7,520.1 L1962.2,520.2 L1963.8,520.2 L1965.3,520.2 L1966.8,520.2 L1968.3,520.2 L1969.8,520.2 L1971.4,520.2 L1972.9,520.2 L1974.4,520.2 L1975.9,520.2 L1977.4,520.2 L1978.9,520.2 L1980.5,520.2 L1982.0,520.2 L1983.5,520.2 L1985.0,520.2 L1986.5,520.2 L1988.0,520.2 L1989.6,520.1 L1991.1,520.1 L1992.6,520.1 L1994.1,520.1 L1995.6,520.1 L1997.2,520.1 L1998.7,520.1 L2000.2,520.1 L2001.7,520.0 L2003.2,520.0 L2004.7,519.9 L2006.3,519.7 L2007.8,519.6 L2009.3,519.4 L2010.8,519.2 L2012.3,519.0 L2013.9,518.8 L2015.4,518.5 L2016.9,518.3 L2018.4,518.0 L2019.9,517.7 L2021.4,517.5 L2023.0,517.2 L2024.5,516.9 L2026.0,516.6 L2027.5,516.3 L2029.0,516.0 L2030.5,515.7 L2032.1,515.5 L2033.6,515.2 L2035.1,515.0 L2036.6,514.7 L2038.1,514.5 L2039.7,514.3 L2041.2,514.2 L2042.7,514.0 L2044.2,513.9 L2045.7,513.8 L2047.2,513.7 L2048.8,513.7 L2050.3,513.7 L2051.8,513.8 L2053.3,513.9 L2054.8,514.1 L2056.3,514.3 L2057.9,514.6 L2059.4,514.9 L2060.9,515.3 L2062.4,515.7 L2063.9,516.1 L2065.5,516.5 L2067.0,516.9 L2068.5,517.4 L2070.0,517.8 L2071.5,518.3 L2073.0,518.7 L2074.6,519.2 L2076.1,519.6 L2077.6,520.0 L2079.1,520.5 L2080.6,520.9 L2082.1,521.4 L2083.7,521.9 L2085.2,522.5 L2086.7,523.0 L2088.2,523.6 L2089.7,524.2 L2091.3,524.8 L2092.8,525.4 L2094.3,526.0 L2095.8,526.7 L2097.3,527.3 L2098.8,527.9 L2100.4,528.5 L2101.9,529.1 L2103.4,529.7 L2104.9,530.3 L2106.4,530.9 L2107.9,531.4 L2109.5,531.9 L2111.0,532.4 L2112.5,532.9 L2114.0,533.3 L2115.5,533.7 L2117.1,534.1 L2118.6,534.4 L2120.1,534.8 L2121.6,535.1 L2123.1,535.4 L2124.6,535.8 L2126.2,536.1 L2127.7,536.4 L2129.2,536.7 L2130.7,537.0 L2132.2,537.3 L2133.8,537.5 L2135.3,537.8 L2136.8,538.1 L2138.3,538.3 L2139.8,538.6 L2141.3,538.8 L2142.9,539.0 L2144.4,539.2 L2145.9,539.4 L2147.4,539.6 L2148.9,539.8 L2150.4,540.0 L2152.0,540.1 L2153.5,540.2 L2155.0,540.3" stroke="#ff00ff" stroke-width="6.4" fill="none" stroke-dasharray="72.5 21"/>
<path d="M273.0,338.3 L274.5,338.5 L276.0,338.7 L277.6,338.9 L279.1,339.1 L280.6,339.3 L282.1,339.4 L283.6,339.6 L285.1,339.7 L286.7,339.9 L288.2,340.0 L289.7,340.1 L291.2,340.2 L292.7,340.3 L294.2,340.3 L295.8,340.3 L297.3,340.4 L298.8,340.4 L300.3,340.4 L301.8,340.4 L303.4,340.4 L304.9,340.4 L306.4,340.5 L307.9,340.5 L309.4,340.5 L310.9,340.5 L312.5,340.5 L314.0,340.5 L315.5,340.5 L317.0,340.5 L318.5,340.5 L320.1,340.5 L321.6,340.5 L323.1,340.6 L324.6,340.6 L326.1,340.6 L327.6,340.6 L329.2,340.6 L330.7,340.7 L332.2,340.7 L333.7,340.7 L335.2,340.8 L336.7,340.9 L338.3,341.0 L339.8,341.2 L341.3,341.4 L342.8,341.5 L344.3,341.8 L345.9,342.0 L347.4,342.2 L348.9,342.5 L350.4,342.8 L351.9,343.1 L353.4,343.4 L355.0,343.7 L356.5,344.0 L358.0,344.3 L359.5,344.6 L361.0,344.9 L362.5,345.3 L364.1,345.6 L365.6,345.9 L367.1,346.2 L368.6,346.5 L370.1,346.9 L371.7,347.3 L373.2,347.7 L374.7,348.2 L376.2,348.7 L377.7,349.2 L379.2,349.8 L380.8,350.3 L382.3,350.9 L383.8,351.5 L385.3,352.0 L386.8,352.5 L388.3,353.1 L389.9,353.5 L391.4,354.0 L392.9,354.4 L394.4,354.7 L395.9,355.0 L397.5,355.3 L399.0,355.4 L400.5,355.5 L402.0,355.6 L403.5,355.6 L405.0,355.7 L406.6,355.7 L408.1,355.8 L409.6,355.8 L411.1,355.8 L412.6,355.8 L414.1,355.9 L415.7,355.9 L417.2,355.9 L418.7,355.9 L420.2,355.9 L421.7,355.9 L423.3,355.9 L424.8,355.8 L426.3,355.7 L427.8,355.6 L429.3,355.4 L430.8,355.1 L432.4,354.9 L433.9,354.6 L435.4,354.3 L436.9,354.0 L438.4,353.6 L440.0,353.3 L441.5,352.9 L443.0,352.6 L444.5,352.2 L446.0,351.8 L447.5,351.4 L449.1,351.1 L450.6,350.7 L452.1,350.4 L453.6,350.1 L455.1,349.7 L456.6,349.4 L458.2,349.1 L459.7,348.7 L461.2,348.4 L462.7,348.0 L464.2,347.6 L465.8,347.2 L467.3,346.9 L468.8,346.5 L470.3,346.1 L471.8,345.7 L473.3,345.3 L474.9,345.0 L476.4,344.6 L477.9,344.3 L479.4,343.9 L480.9,343.6 L482.4,343.2 L484.0,342.9 L485.5,342.6 L487.0,342.3 L488.5,342.0 L490.0,341.7 L491.6,341.4 L493.1,341.1 L494.6,340.8 L496.1,340.4 L497.6,340.1 L499.1,339.8 L500.7,339.5 L502.2,339.2 L503.7,338.9 L505.2,338.7 L506.7,338.4 L508.2,338.2 L509.8,338.0 L511.3,337.9 L512.8,337.7 L514.3,337.6 L515.8,337.6 L517.4,337.6 L518.9,337.6 L520.4,337.6 L521.9,337.6 L523.4,337.6 L524.9,337.6 L526.5,337.6 L528.0,337.6 L529.5,337.6 L531.0,337.6 L532.5,337.7 L534.1,337.7 L535.6,337.7 L537.1,337.7 L538.6,337.8 L540.1,337.8 L541.6,337.8 L543.2,337.8 L544.7,337.9 L546.2,337.9 L547.7,337.9 L549.2,338.0 L550.7,338.0 L552.3,338.0 L553.8,338.1 L555.3,338.2 L556.8,338.2 L558.3,338.3 L559.9,338.4 L561.4,338.5 L562.9,338.6 L564.4,338.7 L565.9,338.8 L567.4,338.9 L569.0,339.1 L570.5,339.2 L572.0,339.3 L573.5,339.5 L575.0,339.6 L576.5,339.8 L578.1,340.0 L579.6,340.1 L581.1,340.3 L582.6,340.5 L584.1,340.7 L585.7,341.0 L587.2,341.2 L588.7,341.5 L590.2,341.8 L591.7,342.2 L593.2,342.5 L594.8,342.9 L596.3,343.3 L597.8,343.7 L599.3,344.1 L600.8,344.5 L602.4,344.9 L603.9,345.4 L605.4,345.8 L606.9,346.2 L608.4,346.7 L609.9,347.1 L611.5,347.6 L613.0,348.2 L614.5,348.7 L616.0,349.3 L617.5,349.8 L619.0,350.4 L620.6,351.0 L622.1,351.5 L623.6,352.1 L625.1,352.7 L626.6,353.3 L628.2,353.8 L629.7,354.4 L631.2,354.9 L632.7,355.4 L634.2,355.9 L635.7,356.4 L637.3,356.9 L638.8,357.4 L640.3,357.9 L641.8,358.4 L643.3,358.9 L644.8,359.3 L646.4,359.8 L647.9,360.2 L649.4,360.7 L650.9,361.1 L652.4,361.5 L654.0,361.8 L655.5,362.2 L657.0,362.5 L658.5,362.8 L660.0,363.0 L661.5,363.3 L663.1,363.5 L664.6,363.7 L666.1,363.9 L667.6,364.1 L669.1,364.3 L670.6,364.5 L672.2,364.7 L673.7,364.9 L675.2,365.1 L676.7,365.4 L678.2,365.6 L679.8,365.9 L681.3,366.2 L682.8,366.5 L684.3,366.9 L685.8,367.3 L687.3,367.8 L688.9,368.4 L690.4,369.0 L691.9,369.7 L693.4,370.4 L694.9,371.2 L696.5,372.0 L698.0,372.8 L699.5,373.7 L701.0,374.5 L702.5,375.4 L704.0,376.2 L705.6,377.0 L707.1,377.8 L708.6,378.7 L710.1,379.6 L711.6,380.5 L713.1,381.4 L714.7,382.3 L716.2,383.2 L717.7,384.2 L719.2,385.1 L720.7,386.1 L722.3,387.0 L723.8,387.9 L725.3,388.9 L726.8,389.8 L728.3,390.7 L729.8,391.6 L731.4,392.5 L732.9,393.5 L734.4,394.4 L735.9,395.4 L737.4,396.3 L738.9,397.3 L740.5,398.2 L742.0,399.1 L743.5,400.1 L745.0,401.0 L746.5,401.9 L748.1,402.8 L749.6,403.6 L751.1,404.5 L752.6,405.3 L754.1,406.1 L755.6,406.8 L757.2,407.5 L758.7,408.2 L760.2,408.9 L761.7,409.5 L763.2,410.2 L764.7,410.9 L766.3,411.5 L767.8,412.1 L769.3,412.8 L770.8,413.4 L772.3,413.9 L773.9,414.5 L775.4,415.0 L776.9,415.6 L778.4,416.1 L779.9,416.5 L781.4,416.9 L783.0,417.3 L784.5,417.7 L786.0,418.1 L787.5,418.4 L789.0,418.6 L790.6,418.9 L792.1,419.2 L793.6,419.4 L795.1,419.7 L796.6,419.9 L798.1,420.1 L799.7,420.4 L801.2,420.6 L802.7,420.8 L804.2,421.0 L805.7,421.1 L807.2,421.3 L808.8,421.5 L810.3,421.7 L811.8,421.8 L813.3,422.0 L814.8,422.2 L816.4,422.4 L817.9,422.5 L819.4,422.7 L820.9,422.9 L822.4,423.1 L823.9,423.2 L825.5,423.4 L827.0,423.6 L828.5,423.8 L830.0,424.0 L831.5,424.2 L833.0,424.5 L834.6,424.7 L836.1,424.9 L837.6,425.2 L839.1,425.5 L840.6,425.7 L842.2,426.0 L843.7,426.3 L845.2,426.6 L846.7,426.9 L848.2,427.2 L849.7,427.5 L851.3,427.8 L852.8,428.1 L854.3,428.4 L855.8,428.7 L857.3,429.1 L858.8,429.4 L860.4,429.7 L861.9,430.0 L863.4,430.3 L864.9,430.6 L866.4,430.9 L868.0,431.2 L869.5,431.5 L871.0,431.8 L872.5,432.0 L874.0,432.3 L875.5,432.6 L877.1,432.8 L878.6,433.0 L880.1,433.3 L881.6,433.5 L883.1,433.7 L884.6,433.9 L886.2,434.1 L887.7,434.3 L889.2,434.5 L890.7,434.7 L892.2,434.9 L893.8,435.1 L895.3,435.3 L896.8,435.5 L898.3,435.7 L899.8,435.9 L901.3,436.0 L902.9,436.2 L904.4,436.4 L905.9,436.6 L907.4,436.8 L908.9,437.0 L910.5,437.2 L912.0,437.3 L913.5,437.5 L915.0,437.7 L916.5,437.8 L918.0,438.0 L919.6,438.1 L921.1,438.2 L922.6,438.4 L924.1,438.5 L925.6,438.6 L927.1,438.7 L928.7,438.8 L930.2,438.9 L931.7,438.9 L933.2,439.0 L934.7,439.1 L936.3,439.1 L937.8,439.1 L939.3,439.1 L940.8,439.1 L942.3,439.1 L943.8,439.1 L945.4,439.1 L946.9,439.1 L948.4,439.1 L949.9,439.1 L951.4,439.1 L952.9,439.1 L954.5,439.1 L956.0,439.1 L957.5,439.1 L959.0,439.1 L960.5,439.0 L962.1,439.0 L963.6,439.0 L965.1,439.0 L966.6,439.0 L968.1,439.0 L969.6,439.0 L971.2,438.9 L972.7,438.9 L974.2,438.9 L975.7,438.9 L977.2,438.9 L978.8,438.9 L980.3,438.9 L981.8,438.8 L983.3,438.8 L984.8,438.8 L986.3,438.8 L987.9,438.8 L989.4,438.8 L990.9,438.8 L992.4,438.8 L993.9,438.8 L995.4,438.8 L997.0,438.8 L998.5,438.8 L1000.0,438.8 L1001.5,438.8 L1003.0,438.8 L1004.6,438.8 L1006.1,438.8 L1007.6,438.8 L1009.1,438.8 L1010.6,438.9 L1012.1,438.9 L1013.7,438.9 L1015.2,439.0 L1016.7,439.0 L1018.2,439.0 L1019.7,439.1 L1021.2,439.1 L1022.8,439.2 L1024.3,439.2 L1025.8,439.3 L1027.3,439.3 L1028.8,439.4 L1030.4,439.4 L1031.9,439.5 L1033.4,439.5 L1034.9,439.6 L1036.4,439.6 L1037.9,439.7 L1039.5,439.7 L1041.0,439.8 L1042.5,439.8 L1044.0,439.9 L1045.5,439.9 L1047.0,440.0 L1048.6,440.0 L1050.1,440.0 L1051.6,440.1 L1053.1,440.1 L1054.6,440.2 L1056.2,440.2 L1057.7,440.2 L1059.2,440.2 L1060.7,440.3 L1062.2,440.3 L1063.7,440.3 L1065.3,440.3 L1066.8,440.3 L1068.3,440.3 L1069.8,440.3 L1071.3,440.3 L1072.8,440.2 L1074.4,440.1 L1075.9,439.9 L1077.4,439.8 L1078.9,439.6 L1080.4,439.4 L1082.0,439.2 L1083.5,438.9 L1085.0,438.7 L1086.5,438.4 L1088.0,438.1 L1089.5,437.8 L1091.1,437.5 L1092.6,437.2 L1094.1,436.9 L1095.6,436.6 L1097.1,436.3 L1098.7,435.9 L1100.2,435.6 L1101.7,435.3 L1103.2,434.8 L1104.7,434.3 L1106.2,433.7 L1107.8,433.0 L1109.3,432.3 L1110.8,431.7 L1112.3,431.0 L1113.8,430.4 L1115.3,429.8 L1116.9,429.3 L1118.4,428.8 L1119.9,428.5 L1121.4,428.3 L1122.9,428.2 L1124.5,428.2 L1126.0,428.4 L1127.5,428.5 L1129.0,428.8 L1130.5,429.1 L1132.0,429.4 L1133.6,429.8 L1135.1,430.2 L1136.6,430.6 L1138.1,431.1 L1139.6,431.6 L1141.1,432.1 L1142.7,432.6 L1144.2,433.2 L1145.7,433.7 L1147.2,434.3 L1148.7,435.0 L1150.3,435.8 L1151.8,436.8 L1153.3,437.8 L1154.8,438.8 L1156.3,439.9 L1157.8,441.1 L1159.4,442.2 L1160.9,443.3 L1162.4,444.4 L1163.9,445.5 L1165.4,446.4 L1167.0,447.3 L1168.5,448.1 L1170.0,448.8 L1171.5,449.3 L1173.0,449.8 L1174.5,450.2 L1176.1,450.7 L1177.6,451.1 L1179.1,451.5 L1180.6,451.9 L1182.1,452.2 L1183.6,452.6 L1185.2,452.9 L1186.7,453.1 L1188.2,453.3 L1189.7,453.5 L1191.2,453.6 L1192.8,453.6 L1194.3,453.6 L1195.8,453.5 L1197.3,453.5 L1198.8,453.4 L1200.3,453.2 L1201.9,453.1 L1203.4,452.9 L1204.9,452.7 L1206.4,452.5 L1207.9,452.3 L1209.4,452.0 L1211.0,451.8 L1212.5,451.5 L1214.0,451.3 L1215.5,450.9 L1217.0,450.5 L1218.6,450.0 L1220.1,449.4 L1221.6,448.8 L1223.1,448.1 L1224.6,447.3 L1226.1,446.5 L1227.7,445.8 L1229.2,445.0 L1230.7,444.2 L1232.2,443.4 L1233.7,442.7 L1235.2,442.1 L1236.8,441.5 L1238.3,440.9 L1239.8,440.3 L1241.3,439.7 L1242.8,439.0 L1244.4,438.4 L1245.9,437.8 L1247.4,437.1 L1248.9,436.5 L1250.4,435.9 L1251.9,435.4 L1253.5,434.9 L1255.0,434.4 L1256.5,434.0 L1258.0,433.7 L1259.5,433.5 L1261.1,433.3 L1262.6,433.3 L1264.1,433.3 L1265.6,433.5 L1267.1,433.7 L1268.6,433.9 L1270.2,434.3 L1271.7,434.7 L1273.2,435.2 L1274.7,435.7 L1276.2,436.3 L1277.7,436.9 L1279.3,437.6 L1280.8,438.3 L1282.3,439.1 L1283.8,439.8 L1285.3,440.6 L1286.9,441.4 L1288.4,442.2 L1289.9,443.0 L1291.4,443.9 L1292.9,444.7 L1294.4,445.5 L1296.0,446.3 L1297.5,447.1 L1299.0,447.9 L1300.5,448.6 L1302.0,449.3 L1303.5,450.0 L1305.1,450.8 L1306.6,451.6 L1308.1,452.4 L1309.6,453.2 L1311.1,454.1 L1312.7,455.0 L1314.2,455.9 L1315.7,456.8 L1317.2,457.7 L1318.7,458.6 L1320.2,459.5 L1321.8,460.4 L1323.3,461.3 L1324.8,462.2 L1326.3,463.0 L1327.8,463.8 L1329.3,464.6 L1330.9,465.4 L1332.4,466.1 L1333.9,466.7 L1335.4,467.3 L1336.9,467.9 L1338.5,468.4 L1340.0,468.8 L1341.5,469.2 L1343.0,469.7 L1344.5,470.1 L1346.0,470.5 L1347.6,470.8 L1349.1,471.2 L1350.6,471.6 L1352.1,472.0 L1353.6,472.4 L1355.2,472.7 L1356.7,473.1 L1358.2,473.4 L1359.7,473.8 L1361.2,474.1 L1362.7,474.4 L1364.3,474.7 L1365.8,474.9 L1367.3,475.2 L1368.8,475.4 L1370.3,475.6 L1371.8,475.8 L1373.4,476.0 L1374.9,476.2 L1376.4,476.3 L1377.9,476.4 L1379.4,476.5 L1381.0,476.6 L1382.5,476.6 L1384.0,476.7 L1385.5,476.6 L1387.0,476.6 L1388.5,476.5 L1390.1,476.4 L1391.6,476.3 L1393.1,476.2 L1394.6,476.0 L1396.1,475.8 L1397.6,475.6 L1399.2,475.4 L1400.7,475.1 L1402.2,474.9 L1403.7,474.6 L1405.2,474.3 L1406.8,474.0 L1408.3,473.7 L1409.8,473.4 L1411.3,473.1 L1412.8,472.7 L1414.3,472.4 L1415.9,472.0 L1417.4,471.7 L1418.9,471.3 L1420.4,471.0 L1421.9,470.6 L1423.4,470.2 L1425.0,469.9 L1426.5,469.5 L1428.0,469.2 L1429.5,468.9 L1431.0,468.5 L1432.6,468.2 L1434.1,467.9 L1435.6,467.6 L1437.1,467.3 L1438.6,467.0 L1440.1,466.7 L1441.7,466.4 L1443.2,466.0 L1444.7,465.7 L1446.2,465.3 L1447.7,464.9 L1449.2,464.6 L1450.8,464.2 L1452.3,463.8 L1453.8,463.4 L1455.3,463.0 L1456.8,462.6 L1458.4,462.1 L1459.9,461.7 L1461.4,461.3 L1462.9,460.9 L1464.4,460.5 L1465.9,460.1 L1467.5,459.7 L1469.0,459.3 L1470.5,458.9 L1472.0,458.5 L1473.5,458.1 L1475.1,457.8 L1476.6,457.4 L1478.1,457.1 L1479.6,456.7 L1481.1,456.4 L1482.6,456.1 L1484.2,455.8 L1485.7,455.6 L1487.2,455.3 L1488.7,455.1 L1490.2,454.9 L1491.7,454.7 L1493.3,454.5 L1494.8,454.3 L1496.3,454.2 L1497.8,454.1 L1499.3,454.1 L1500.9,454.0 L1502.4,454.0 L1503.9,454.0 L1505.4,454.1 L1506.9,454.2 L1508.4,454.3 L1510.0,454.5 L1511.5,454.6 L1513.0,454.9 L1514.5,455.1 L1516.0,455.4 L1517.5,455.6 L1519.1,455.9 L1520.6,456.3 L1522.1,456.6 L1523.6,456.9 L1525.1,457.3 L1526.7,457.6 L1528.2,458.0 L1529.7,458.4 L1531.2,458.7 L1532.7,459.1 L1534.2,459.5 L1535.8,459.8 L1537.3,460.2 L1538.8,460.5 L1540.3,460.8 L1541.8,461.1 L1543.4,461.4 L1544.9,461.7 L1546.4,462.0 L1547.9,462.4 L1549.4,462.7 L1550.9,463.1 L1552.5,463.5 L1554.0,463.8 L1555.5,464.2 L1557.0,464.6 L1558.5,465.0 L1560.0,465.4 L1561.6,465.7 L1563.1,466.1 L1564.6,466.4 L1566.1,466.7 L1567.6,467.0 L1569.2,467.3 L1570.7,467.5 L1572.2,467.7 L1573.7,467.8 L1575.2,468.0 L1576.7,468.0 L1578.3,468.1 L1579.8,468.1 L1581.3,468.0 L1582.8,468.0 L1584.3,467.9 L1585.8,467.8 L1587.4,467.7 L1588.9,467.6 L1590.4,467.5 L1591.9,467.4 L1593.4,467.2 L1595.0,467.1 L1596.5,466.9 L1598.0,466.8 L1599.5,466.6 L1601.0,466.4 L1602.5,466.3 L1604.1,466.1 L1605.6,465.9 L1607.1,465.8 L1608.6,465.6 L1610.1,465.5 L1611.6,465.3 L1613.2,465.2 L1614.7,465.1 L1616.2,464.9 L1617.7,464.8 L1619.2,464.7 L1620.8,464.6 L1622.3,464.4 L1623.8,464.3 L1625.3,464.2 L1626.8,464.0 L1628.3,463.9 L1629.9,463.7 L1631.4,463.6 L1632.9,463.5 L1634.4,463.3 L1635.9,463.2 L1637.5,463.1 L1639.0,462.9 L1640.5,462.8 L1642.0,462.7 L1643.5,462.6 L1645.0,462.5 L1646.6,462.4 L1648.1,462.4 L1649.6,462.3 L1651.1,462.3 L1652.6,462.2 L1654.1,462.2 L1655.7,462.2 L1657.2,462.2 L1658.7,462.3 L1660.2,462.4 L1661.7,462.5 L1663.3,462.7 L1664.8,462.9 L1666.3,463.1 L1667.8,463.3 L1669.3,463.6 L1670.8,463.9 L1672.4,464.2 L1673.9,464.5 L1675.4,464.8 L1676.9,465.2 L1678.4,465.5 L1679.9,465.8 L1681.5,466.2 L1683.0,466.5 L1684.5,466.9 L1686.0,467.2 L1687.5,467.6 L1689.1,467.9 L1690.6,468.2 L1692.1,468.5 L1693.6,468.8 L1695.1,469.0 L1696.6,469.2 L1698.2,469.4 L1699.7,469.6 L1701.2,469.8 L1702.7,469.9 L1704.2,470.1 L1705.7,470.2 L1707.3,470.3 L1708.8,470.4 L1710.3,470.5 L1711.8,470.6 L1713.3,470.7 L1714.9,470.8 L1716.4,470.9 L1717.9,471.0 L1719.4,471.1 L1720.9,471.2 L1722.4,471.3 L1724.0,471.5 L1725.5,471.6 L1727.0,471.8 L1728.5,472.0 L1730.0,472.2 L1731.6,472.4 L1733.1,472.7 L1734.6,473.0 L1736.1,473.3 L1737.6,473.6 L1739.1,474.0 L1740.7,474.4 L1742.2,474.8 L1743.7,475.3 L1745.2,475.7 L1746.7,476.2 L1748.2,476.7 L1749.8,477.2 L1751.3,477.8 L1752.8,478.3 L1754.3,478.9 L1755.8,479.4 L1757.4,480.0 L1758.9,480.6 L1760.4,481.2 L1761.9,481.7 L1763.4,482.3 L1764.9,482.9 L1766.5,483.5 L1768.0,484.1 L1769.5,484.7 L1771.0,485.3 L1772.5,485.9 L1774.0,486.5 L1775.6,487.0 L1777.1,487.6 L1778.6,488.2 L1780.1,488.7 L1781.6,489.2 L1783.2,489.7 L1784.7,490.2 L1786.2,490.7 L1787.7,491.2 L1789.2,491.7 L1790.7,492.2 L1792.3,492.8 L1793.8,493.3 L1795.3,493.9 L1796.8,494.4 L1798.3,495.0 L1799.8,495.6 L1801.4,496.2 L1802.9,496.7 L1804.4,497.3 L1805.9,497.9 L1807.4,498.5 L1809.0,499.0 L1810.5,499.6 L1812.0,500.1 L1813.5,500.6 L1815.0,501.1 L1816.5,501.6 L1818.1,502.1 L1819.6,502.5 L1821.1,502.9 L1822.6,503.3 L1824.1,503.7 L1825.7,504.0 L1827.2,504.3 L1828.7,504.6 L1830.2,504.8 L1831.7,505.0 L1833.2,505.1 L1834.8,505.2 L1836.3,505.2 L1837.8,505.3 L1839.3,505.4 L1840.8,505.4 L1842.3,505.5 L1843.9,505.5 L1845.4,505.5 L1846.9,505.6 L1848.4,505.6 L1849.9,505.6 L1851.5,505.6 L1853.0,505.7 L1854.5,505.7 L1856.0,505.7 L1857.5,505.7 L1859.0,505.8 L1860.6,505.8 L1862.1,505.8 L1863.6,505.8 L1865.1,505.8 L1866.6,505.9 L1868.1,505.9 L1869.7,505.9 L1871.2,506.0 L1872.7,506.0 L1874.2,506.0 L1875.7,506.1 L1877.3,506.1 L1878.8,506.2 L1880.3,506.2 L1881.8,506.3 L1883.3,506.4 L1884.8,506.4 L1886.4,506.6 L1887.9,506.7 L1889.4,506.9 L1890.9,507.2 L1892.4,507.4 L1893.9,507.7 L1895.5,508.0 L1897.0,508.3 L1898.5,508.6 L1900.0,509.0 L1901.5,509.3 L1903.1,509.7 L1904.6,510.0 L1906.1,510.3 L1907.6,510.6 L1909.1,511.0 L1910.6,511.3 L1912.2,511.7 L1913.7,512.2 L1915.2,512.6 L1916.7,513.1 L1918.2,513.5 L1919.8,514.0 L1921.3,514.6 L1922.8,515.1 L1924.3,515.6 L1925.8,516.1 L1927.3,516.7 L1928.9,517.2 L1930.4,517.7 L1931.9,518.3 L1933.4,518.8 L1934.9,519.3 L1936.4,519.8 L1938.0,520.2 L1939.5,520.7 L1941.0,521.1 L1942.5,521.5 L1944.0,521.9 L1945.6,522.2 L1947.1,522.5 L1948.6,522.8 L1950.1,523.0 L1951.6,523.2 L1953.1,523.4 L1954.7,523.5 L1956.2,523.5 L1957.7,523.6 L1959.2,523.6 L1960.7,523.6 L1962.2,523.6 L1963.8,523.7 L1965.3,523.7 L1966.8,523.7 L1968.3,523.7 L1969.8,523.7 L1971.4,523.8 L1972.9,523.8 L1974.4,523.8 L1975.9,523.8 L1977.4,523.8 L1978.9,523.8 L1980.5,523.9 L1982.0,523.9 L1983.5,523.9 L1985.0,523.9 L1986.5,523.9 L1988.0,523.9 L1989.6,523.9 L1991.1,523.9 L1992.6,523.9 L1994.1,523.9 L1995.6,523.9 L1997.2,523.9 L1998.7,523.9 L2000.2,523.9 L2001.7,523.9 L2003.2,523.9 L2004.7,523.8 L2006.3,523.7 L2007.8,523.5 L2009.3,523.4 L2010.8,523.2 L2012.3,523.0 L2013.9,522.8 L2015.4,522.6 L2016.9,522.3 L2018.4,522.1 L2019.9,521.8 L2021.4,521.5 L2023.0,521.3 L2024.5,521.0 L2026.0,520.7 L2027.5,520.5 L2029.0,520.2 L2030.5,519.9 L2032.1,519.7 L2033.6,519.4 L2035.1,519.2 L2036.6,519.0 L2038.1,518.8 L2039.7,518.6 L2041.2,518.5 L2042.7,518.3 L2044.2,518.2 L2045.7,518.1 L2047.2,518.1 L2048.8,518.1 L2050.3,518.1 L2051.8,518.2 L2053.3,518.3 L2054.8,518.6 L2056.3,518.8 L2057.9,519.1 L2059.4,519.4 L2060.9,519.8 L2062.4,520.2 L2063.9,520.6 L2065.5,521.0 L2067.0,521.5 L2068.5,522.0 L2070.0,522.4 L2071.5,522.9 L2073.0,523.4 L2074.6,523.8 L2076.1,524.3 L2077.6,524.7 L2079.1,525.2 L2080.6,525.6 L2082.1,526.1 L2083.7,526.7 L2085.2,527.2 L2086.7,527.8 L2088.2,528.4 L2089.7,529.0 L2091.3,529.6 L2092.8,530.2 L2094.3,530.9 L2095.8,531.5 L2097.3,532.2 L2098.8,532.8 L2100.4,533.4 L2101.9,534.0 L2103.4,534.7 L2104.9,535.3 L2106.4,535.8 L2107.9,536.4 L2109.5,536.9 L2111.0,537.4 L2112.5,537.9 L2114.0,538.4 L2115.5,538.8 L2117.1,539.2 L2118.6,539.5 L2120.1,539.9 L2121.6,540.2 L2123.1,540.6 L2124.6,540.9 L2126.2,541.2 L2127.7,541.6 L2129.2,541.9 L2130.7,542.2 L2132.2,542.5 L2133.8,542.8 L2135.3,543.1 L2136.8,543.4 L2138.3,543.6 L2139.8,543.9 L2141.3,544.1 L2142.9,544.4 L2144.4,544.6 L2145.9,544.8 L2147.4,545.0 L2148.9,545.2 L2150.4,545.4 L2152.0,545.5 L2153.5,545.7 L2155.0,545.8" stroke="#00ff00" stroke-width="6.6" fill="none"/>
<path d="M273.0,361.0 L274.5,361.2 L276.0,361.4 L277.6,361.7 L279.1,361.9 L280.6,362.1 L282.1,362.3 L283.6,362.6 L285.1,362.8 L286.7,363.0 L288.2,363.2 L289.7,363.4 L291.2,363.7 L292.7,363.9 L294.2,364.1 L295.8,364.3 L297.3,364.5 L298.8,364.7 L300.3,365.0 L301.8,365.2 L303.4,365.4 L304.9,365.6 L306.4,365.8 L307.9,366.1 L309.4,366.3 L310.9,366.5 L312.5,366.7 L314.0,366.9 L315.5,367.1 L317.0,367.4 L318.5,367.6 L320.1,367.8 L321.6,368.0 L323.1,368.2 L324.6,368.5 L326.1,368.7 L327.6,368.9 L329.2,369.1 L330.7,369.3 L332.2,369.5 L333.7,369.7 L335.2,370.0 L336.7,370.2 L338.3,370.4 L339.8,370.6 L341.3,370.8 L342.8,371.0 L344.3,371.3 L345.9,371.5 L347.4,371.7 L348.9,371.9 L350.4,372.1 L351.9,372.3 L353.4,372.5 L355.0,372.7 L356.5,373.0 L358.0,373.2 L359.5,373.4 L361.0,373.6 L362.5,373.8 L364.1,374.0 L365.6,374.2 L367.1,374.5 L368.6,374.7 L370.1,374.9 L371.7,375.1 L373.2,375.3 L374.7,375.5 L376.2,375.7 L377.7,375.9 L379.2,376.1 L380.8,376.4 L382.3,376.6 L383.8,376.8 L385.3,377.0 L386.8,377.2 L388.3,377.4 L389.9,377.6 L391.4,377.8 L392.9,378.0 L394.4,378.3 L395.9,378.5 L397.5,378.7 L399.0,378.9 L400.5,379.1 L402.0,379.3 L403.5,379.5 L405.0,379.7 L406.6,379.9 L408.1,380.1 L409.6,380.3 L411.1,380.6 L412.6,380.8 L414.1,381.0 L415.7,381.2 L417.2,381.4 L418.7,381.6 L420.2,381.8 L421.7,382.0 L423.3,382.2 L424.8,382.4 L426.3,382.6 L427.8,382.8 L429.3,383.0 L430.8,383.2 L432.4,383.5 L433.9,383.7 L435.4,383.9 L436.9,384.1 L438.4,384.3 L440.0,384.5 L441.5,384.7 L443.0,384.9 L444.5,385.1 L446.0,385.3 L447.5,385.5 L449.1,385.7 L450.6,385.9 L452.1,386.1 L453.6,386.3 L455.1,386.5 L456.6,386.7 L458.2,386.9 L459.7,387.1 L461.2,387.3 L462.7,387.5 L464.2,387.8 L465.8,388.0 L467.3,388.2 L468.8,388.4 L470.3,388.6 L471.8,388.8 L473.3,389.0 L474.9,389.2 L476.4,389.4 L477.9,389.6 L479.4,389.8 L480.9,390.0 L482.4,390.2 L484.0,390.4 L485.5,390.6 L487.0,390.8 L488.5,391.0 L490.0,391.2 L491.6,391.4 L493.1,391.6 L494.6,391.8 L496.1,392.0 L497.6,392.2 L499.1,392.4 L500.7,392.6 L502.2,392.8 L503.7,393.0 L505.2,393.2 L506.7,393.4 L508.2,393.6 L509.8,393.8 L511.3,394.0 L512.8,394.2 L514.3,394.4 L515.8,394.6 L517.4,394.8 L518.9,395.0 L520.4,395.2 L521.9,395.4 L523.4,395.6 L524.9,395.8 L526.5,396.0 L528.0,396.2 L529.5,396.4 L531.0,396.6 L532.5,396.8 L534.1,397.0 L535.6,397.2 L537.1,397.4 L538.6,397.6 L540.1,397.8 L541.6,398.0 L543.2,398.1 L544.7,398.3 L546.2,398.5 L547.7,398.7 L549.2,398.9 L550.7,399.1 L552.3,399.3 L553.8,399.5 L555.3,399.7 L556.8,399.9 L558.3,400.1 L559.9,400.3 L561.4,400.5 L562.9,400.7 L564.4,400.9 L565.9,401.1 L567.4,401.3 L569.0,401.5 L570.5,401.7 L572.0,401.9 L573.5,402.1 L575.0,402.2 L576.5,402.4 L578.1,402.6 L579.6,402.8 L581.1,403.0 L582.6,403.2 L584.1,403.4 L585.7,403.6 L587.2,403.8 L588.7,404.0 L590.2,404.2 L591.7,404.4 L593.2,404.6 L594.8,404.8 L596.3,404.9 L597.8,405.1 L599.3,405.3 L600.8,405.5 L602.4,405.7 L603.9,405.9 L605.4,406.1 L606.9,406.3 L608.4,406.5 L609.9,406.7 L611.5,406.9 L613.0,407.0 L614.5,407.2 L616.0,407.4 L617.5,407.6 L619.0,407.8 L620.6,408.0 L622.1,408.2 L623.6,408.4 L625.1,408.6 L626.6,408.8 L628.2,408.9 L629.7,409.1 L631.2,409.3 L632.7,409.5 L634.2,409.7 L635.7,409.9 L637.3,410.1 L638.8,410.3 L640.3,410.5 L641.8,410.6 L643.3,410.8 L644.8,411.0 L646.4,411.2 L647.9,411.4 L649.4,411.6 L650.9,411.8 L652.4,412.0 L654.0,412.2 L655.5,412.3 L657.0,412.5 L658.5,412.7 L660.0,412.9 L661.5,413.1 L663.1,413.3 L664.6,413.5 L666.1,413.6 L667.6,413.8 L669.1,414.0 L670.6,414.2 L672.2,414.4 L673.7,414.6 L675.2,414.8 L676.7,414.9 L678.2,415.1 L679.8,415.3 L681.3,415.5 L682.8,415.7 L684.3,415.9 L685.8,416.1 L687.3,416.2 L688.9,416.4 L690.4,416.6 L691.9,416.8 L693.4,417.0 L694.9,417.2 L696.5,417.3 L698.0,417.5 L699.5,417.7 L701.0,417.9 L702.5,418.1 L704.0,418.3 L705.6,418.4 L707.1,418.6 L708.6,418.8 L710.1,419.0 L711.6,419.2 L713.1,419.4 L714.7,419.5 L716.2,419.7 L717.7,419.9 L719.2,420.1 L720.7,420.3 L722.3,420.5 L723.8,420.6 L725.3,420.8 L726.8,421.0 L728.3,421.2 L729.8,421.4 L731.4,421.5 L732.9,421.7 L734.4,421.9 L735.9,422.1 L737.4,422.3 L738.9,422.5 L740.5,422.6 L742.0,422.8 L743.5,423.0 L745.0,423.2 L746.5,423.4 L748.1,423.5 L749.6,423.7 L751.1,423.9 L752.6,424.1 L754.1,424.3 L755.6,424.4 L757.2,424.6 L758.7,424.8 L760.2,425.0 L761.7,425.1 L763.2,425.3 L764.7,425.5 L766.3,425.7 L767.8,425.9 L769.3,426.0 L770.8,426.2 L772.3,426.4 L773.9,426.6 L775.4,426.8 L776.9,426.9 L778.4,427.1 L779.9,427.3 L781.4,427.5 L783.0,427.6 L784.5,427.8 L786.0,428.0 L787.5,428.2 L789.0,428.3 L790.6,428.5 L792.1,428.7 L793.6,428.9 L795.1,429.1 L796.6,429.2 L798.1,429.4 L799.7,429.6 L801.2,429.8 L802.7,429.9 L804.2,430.1 L805.7,430.3 L807.2,430.5 L808.8,430.6 L810.3,430.8 L811.8,431.0 L813.3,431.2 L814.8,431.3 L816.4,431.5 L817.9,431.7 L819.4,431.9 L820.9,432.0 L822.4,432.2 L823.9,432.4 L825.5,432.6 L827.0,432.7 L828.5,432.9 L830.0,433.1 L831.5,433.3 L833.0,433.4 L834.6,433.6 L836.1,433.8 L837.6,433.9 L839.1,434.1 L840.6,434.3 L842.2,434.5 L843.7,434.6 L845.2,434.8 L846.7,435.0 L848.2,435.2 L849.7,435.3 L851.3,435.5 L852.8,435.7 L854.3,435.8 L855.8,436.0 L857.3,436.2 L858.8,436.4 L860.4,436.5 L861.9,436.7 L863.4,436.9 L864.9,437.1 L866.4,437.2 L868.0,437.4 L869.5,437.6 L871.0,437.7 L872.5,437.9 L874.0,438.1 L875.5,438.2 L877.1,438.4 L878.6,438.6 L880.1,438.8 L881.6,438.9 L883.1,439.1 L884.6,439.3 L886.2,439.4 L887.7,439.6 L889.2,439.8 L890.7,439.9 L892.2,440.1 L893.8,440.3 L895.3,440.5 L896.8,440.6 L898.3,440.8 L899.8,441.0 L901.3,441.1 L902.9,441.3 L904.4,441.5 L905.9,441.6 L907.4,441.8 L908.9,442.0 L910.5,442.1 L912.0,442.3 L913.5,442.5 L915.0,442.6 L916.5,442.8 L918.0,443.0 L919.6,443.1 L921.1,443.3 L922.6,443.5 L924.1,443.7 L925.6,443.8 L927.1,444.0 L928.7,444.2 L930.2,444.3 L931.7,444.5 L933.2,444.7 L934.7,444.8 L936.3,445.0 L937.8,445.2 L939.3,445.3 L940.8,445.5 L942.3,445.6 L943.8,445.8 L945.4,446.0 L946.9,446.1 L948.4,446.3 L949.9,446.5 L951.4,446.6 L952.9,446.8 L954.5,447.0 L956.0,447.1 L957.5,447.3 L959.0,447.5 L960.5,447.6 L962.1,447.8 L963.6,448.0 L965.1,448.1 L966.6,448.3 L968.1,448.5 L969.6,448.6 L971.2,448.8 L972.7,448.9 L974.2,449.1 L975.7,449.3 L977.2,449.4 L978.8,449.6 L980.3,449.8 L981.8,449.9 L983.3,450.1 L984.8,450.3 L986.3,450.4 L987.9,450.6 L989.4,450.7 L990.9,450.9 L992.4,451.1 L993.9,451.2 L995.4,451.4 L997.0,451.6 L998.5,451.7 L1000.0,451.9 L1001.5,452.0 L1003.0,452.2 L1004.6,452.4 L1006.1,452.5 L1007.6,452.7 L1009.1,452.9 L1010.6,453.0 L1012.1,453.2 L1013.7,453.3 L1015.2,453.5 L1016.7,453.7 L1018.2,453.8 L1019.7,454.0 L1021.2,454.1 L1022.8,454.3 L1024.3,454.5 L1025.8,454.6 L1027.3,454.8 L1028.8,454.9 L1030.4,455.1 L1031.9,455.3 L1033.4,455.4 L1034.9,455.6 L1036.4,455.7 L1037.9,455.9 L1039.5,456.1 L1041.0,456.2 L1042.5,456.4 L1044.0,456.5 L1045.5,456.7 L1047.0,456.9 L1048.6,457.0 L1050.1,457.2 L1051.6,457.3 L1053.1,457.5 L1054.6,457.6 L1056.2,457.8 L1057.7,458.0 L1059.2,458.1 L1060.7,458.3 L1062.2,458.4 L1063.7,458.6 L1065.3,458.8 L1066.8,458.9 L1068.3,459.1 L1069.8,459.2 L1071.3,459.4 L1072.8,459.5 L1074.4,459.7 L1075.9,459.9 L1077.4,460.0 L1078.9,460.2 L1080.4,460.3 L1082.0,460.5 L1083.5,460.6 L1085.0,460.8 L1086.5,461.0 L1088.0,461.1 L1089.5,461.3 L1091.1,461.4 L1092.6,461.6 L1094.1,461.7 L1095.6,461.9 L1097.1,462.0 L1098.7,462.2 L1100.2,462.4 L1101.7,462.5 L1103.2,462.7 L1104.7,462.8 L1106.2,463.0 L1107.8,463.1 L1109.3,463.3 L1110.8,463.4 L1112.3,463.6 L1113.8,463.8 L1115.3,463.9 L1116.9,464.1 L1118.4,464.2 L1119.9,464.4 L1121.4,464.5 L1122.9,464.7 L1124.5,464.8 L1126.0,465.0 L1127.5,465.1 L1129.0,465.3 L1130.5,465.5 L1132.0,465.6 L1133.6,465.8 L1135.1,465.9 L1136.6,466.1 L1138.1,466.2 L1139.6,466.4 L1141.1,466.5 L1142.7,466.7 L1144.2,466.8 L1145.7,467.0 L1147.2,467.1 L1148.7,467.3 L1150.3,467.4 L1151.8,467.6 L1153.3,467.7 L1154.8,467.9 L1156.3,468.1 L1157.8,468.2 L1159.4,468.4 L1160.9,468.5 L1162.4,468.7 L1163.9,468.8 L1165.4,469.0 L1167.0,469.1 L1168.5,469.3 L1170.0,469.4 L1171.5,469.6 L1173.0,469.7 L1174.5,469.9 L1176.1,470.0 L1177.6,470.2 L1179.1,470.3 L1180.6,470.5 L1182.1,470.6 L1183.6,470.8 L1185.2,470.9 L1186.7,471.1 L1188.2,471.2 L1189.7,471.4 L1191.2,471.5 L1192.8,471.7 L1194.3,471.8 L1195.8,472.0 L1197.3,472.1 L1198.8,472.3 L1200.3,472.4 L1201.9,472.6 L1203.4,472.7 L1204.9,472.9 L1206.4,473.0 L1207.9,473.2 L1209.4,473.3 L1211.0,473.5 L1212.5,473.6 L1214.0,473.8 L1215.5,473.9 L1217.0,474.1 L1218.6,474.2 L1220.1,474.4 L1221.6,474.5 L1223.1,474.7 L1224.6,474.8 L1226.1,475.0 L1227.7,475.1 L1229.2,475.2 L1230.7,475.4 L1232.2,475.5 L1233.7,475.7 L1235.2,475.8 L1236.8,476.0 L1238.3,476.1 L1239.8,476.3 L1241.3,476.4 L1242.8,476.6 L1244.4,476.7 L1245.9,476.9 L1247.4,477.0 L1248.9,477.2 L1250.4,477.3 L1251.9,477.5 L1253.5,477.6 L1255.0,477.7 L1256.5,477.9 L1258.0,478.0 L1259.5,478.2 L1261.1,478.3 L1262.6,478.5 L1264.1,478.6 L1265.6,478.8 L1267.1,478.9 L1268.6,479.1 L1270.2,479.2 L1271.7,479.4 L1273.2,479.5 L1274.7,479.6 L1276.2,479.8 L1277.7,479.9 L1279.3,480.1 L1280.8,480.2 L1282.3,480.4 L1283.8,480.5 L1285.3,480.7 L1286.9,480.8 L1288.4,480.9 L1289.9,481.1 L1291.4,481.2 L1292.9,481.4 L1294.4,481.5 L1296.0,481.7 L1297.5,481.8 L1299.0,482.0 L1300.5,482.1 L1302.0,482.2 L1303.5,482.4 L1305.1,482.5 L1306.6,482.7 L1308.1,482.8 L1309.6,483.0 L1311.1,483.1 L1312.7,483.2 L1314.2,483.4 L1315.7,483.5 L1317.2,483.7 L1318.7,483.8 L1320.2,484.0 L1321.8,484.1 L1323.3,484.2 L1324.8,484.4 L1326.3,484.5 L1327.8,484.7 L1329.3,484.8 L1330.9,485.0 L1332.4,485.1 L1333.9,485.2 L1335.4,485.4 L1336.9,485.5 L1338.5,485.7 L1340.0,485.8 L1341.5,485.9 L1343.0,486.1 L1344.5,486.2 L1346.0,486.4 L1347.6,486.5 L1349.1,486.7 L1350.6,486.8 L1352.1,486.9 L1353.6,487.1 L1355.2,487.2 L1356.7,487.4 L1358.2,487.5 L1359.7,487.6 L1361.2,487.8 L1362.7,487.9 L1364.3,488.1 L1365.8,488.2 L1367.3,488.3 L1368.8,488.5 L1370.3,488.6 L1371.8,488.8 L1373.4,488.9 L1374.9,489.0 L1376.4,489.2 L1377.9,489.3 L1379.4,489.5 L1381.0,489.6 L1382.5,489.7 L1384.0,489.9 L1385.5,490.0 L1387.0,490.1 L1388.5,490.3 L1390.1,490.4 L1391.6,490.6 L1393.1,490.7 L1394.6,490.8 L1396.1,491.0 L1397.6,491.1 L1399.2,491.3 L1400.7,491.4 L1402.2,491.5 L1403.7,491.7 L1405.2,491.8 L1406.8,491.9 L1408.3,492.1 L1409.8,492.2 L1411.3,492.4 L1412.8,492.5 L1414.3,492.6 L1415.9,492.8 L1417.4,492.9 L1418.9,493.0 L1420.4,493.2 L1421.9,493.3 L1423.4,493.5 L1425.0,493.6 L1426.5,493.7 L1428.0,493.9 L1429.5,494.0 L1431.0,494.1 L1432.6,494.3 L1434.1,494.4 L1435.6,494.6 L1437.1,494.7 L1438.6,494.8 L1440.1,495.0 L1441.7,495.1 L1443.2,495.2 L1444.7,495.4 L1446.2,495.5 L1447.7,495.6 L1449.2,495.8 L1450.8,495.9 L1452.3,496.0 L1453.8,496.2 L1455.3,496.3 L1456.8,496.5 L1458.4,496.6 L1459.9,496.7 L1461.4,496.9 L1462.9,497.0 L1464.4,497.1 L1465.9,497.3 L1467.5,497.4 L1469.0,497.5 L1470.5,497.7 L1472.0,497.8 L1473.5,497.9 L1475.1,498.1 L1476.6,498.2 L1478.1,498.3 L1479.6,498.5 L1481.1,498.6 L1482.6,498.7 L1484.2,498.9 L1485.7,499.0 L1487.2,499.1 L1488.7,499.3 L1490.2,499.4 L1491.7,499.5 L1493.3,499.7 L1494.8,499.8 L1496.3,499.9 L1497.8,500.1 L1499.3,500.2 L1500.9,500.3 L1502.4,500.5 L1503.9,500.6 L1505.4,500.7 L1506.9,500.9 L1508.4,501.0 L1510.0,501.1 L1511.5,501.3 L1513.0,501.4 L1514.5,501.5 L1516.0,501.7 L1517.5,501.8 L1519.1,501.9 L1520.6,502.1 L1522.1,502.2 L1523.6,502.3 L1525.1,502.5 L1526.7,502.6 L1528.2,502.7 L1529.7,502.9 L1531.2,503.0 L1532.7,503.1 L1534.2,503.2 L1535.8,503.4 L1537.3,503.5 L1538.8,503.6 L1540.3,503.8 L1541.8,503.9 L1543.4,504.0 L1544.9,504.2 L1546.4,504.3 L1547.9,504.4 L1549.4,504.6 L1550.9,504.7 L1552.5,504.8 L1554.0,504.9 L1555.5,505.1 L1557.0,505.2 L1558.5,505.3 L1560.0,505.5 L1561.6,505.6 L1563.1,505.7 L1564.6,505.9 L1566.1,506.0 L1567.6,506.1 L1569.2,506.2 L1570.7,506.4 L1572.2,506.5 L1573.7,506.6 L1575.2,506.8 L1576.7,506.9 L1578.3,507.0 L1579.8,507.2 L1581.3,507.3 L1582.8,507.4 L1584.3,507.5 L1585.8,507.7 L1587.4,507.8 L1588.9,507.9 L1590.4,508.1 L1591.9,508.2 L1593.4,508.3 L1595.0,508.4 L1596.5,508.6 L1598.0,508.7 L1599.5,508.8 L1601.0,508.9 L1602.5,509.1 L1604.1,509.2 L1605.6,509.3 L1607.1,509.5 L1608.6,509.6 L1610.1,509.7 L1611.6,509.8 L1613.2,510.0 L1614.7,510.1 L1616.2,510.2 L1617.7,510.4 L1619.2,510.5 L1620.8,510.6 L1622.3,510.7 L1623.8,510.9 L1625.3,511.0 L1626.8,511.1 L1628.3,511.2 L1629.9,511.4 L1631.4,511.5 L1632.9,511.6 L1634.4,511.7 L1635.9,511.9 L1637.5,512.0 L1639.0,512.1 L1640.5,512.3 L1642.0,512.4 L1643.5,512.5 L1645.0,512.6 L1646.6,512.8 L1648.1,512.9 L1649.6,513.0 L1651.1,513.1 L1652.6,513.3 L1654.1,513.4 L1655.7,513.5 L1657.2,513.6 L1658.7,513.8 L1660.2,513.9 L1661.7,514.0 L1663.3,514.1 L1664.8,514.3 L1666.3,514.4 L1667.8,514.5 L1669.3,514.6 L1670.8,514.8 L1672.4,514.9 L1673.9,515.0 L1675.4,515.1 L1676.9,515.3 L1678.4,515.4 L1679.9,515.5 L1681.5,515.6 L1683.0,515.8 L1684.5,515.9 L1686.0,516.0 L1687.5,516.1 L1689.1,516.3 L1690.6,516.4 L1692.1,516.5 L1693.6,516.6 L1695.1,516.7 L1696.6,516.9 L1698.2,517.0 L1699.7,517.1 L1701.2,517.2 L1702.7,517.4 L1704.2,517.5 L1705.7,517.6 L1707.3,517.7 L1708.8,517.9 L1710.3,518.0 L1711.8,518.1 L1713.3,518.2 L1714.9,518.3 L1716.4,518.5 L1717.9,518.6 L1719.4,518.7 L1720.9,518.8 L1722.4,519.0 L1724.0,519.1 L1725.5,519.2 L1727.0,519.3 L1728.5,519.4 L1730.0,519.6 L1731.6,519.7 L1733.1,519.8 L1734.6,519.9 L1736.1,520.1 L1737.6,520.2 L1739.1,520.3 L1740.7,520.4 L1742.2,520.5 L1743.7,520.7 L1745.2,520.8 L1746.7,520.9 L1748.2,521.0 L1749.8,521.1 L1751.3,521.3 L1752.8,521.4 L1754.3,521.5 L1755.8,521.6 L1757.4,521.8 L1758.9,521.9 L1760.4,522.0 L1761.9,522.1 L1763.4,522.2 L1764.9,522.4 L1766.5,522.5 L1768.0,522.6 L1769.5,522.7 L1771.0,522.8 L1772.5,523.0 L1774.0,523.1 L1775.6,523.2 L1777.1,523.3 L1778.6,523.4 L1780.1,523.6 L1781.6,523.7 L1783.2,523.8 L1784.7,523.9 L1786.2,524.0 L1787.7,524.2 L1789.2,524.3 L1790.7,524.4 L1792.3,524.5 L1793.8,524.6 L1795.3,524.7 L1796.8,524.9 L1798.3,525.0 L1799.8,525.1 L1801.4,525.2 L1802.9,525.3 L1804.4,525.5 L1805.9,525.6 L1807.4,525.7 L1809.0,525.8 L1810.5,525.9 L1812.0,526.1 L1813.5,526.2 L1815.0,526.3 L1816.5,526.4 L1818.1,526.5 L1819.6,526.6 L1821.1,526.8 L1822.6,526.9 L1824.1,527.0 L1825.7,527.1 L1827.2,527.2 L1828.7,527.4 L1830.2,527.5 L1831.7,527.6 L1833.2,527.7 L1834.8,527.8 L1836.3,527.9 L1837.8,528.1 L1839.3,528.2 L1840.8,528.3 L1842.3,528.4 L1843.9,528.5 L1845.4,528.6 L1846.9,528.8 L1848.4,528.9 L1849.9,529.0 L1851.5,529.1 L1853.0,529.2 L1854.5,529.3 L1856.0,529.5 L1857.5,529.6 L1859.0,529.7 L1860.6,529.8 L1862.1,529.9 L1863.6,530.0 L1865.1,530.2 L1866.6,530.3 L1868.1,530.4 L1869.7,530.5 L1871.2,530.6 L1872.7,530.7 L1874.2,530.8 L1875.7,531.0 L1877.3,531.1 L1878.8,531.2 L1880.3,531.3 L1881.8,531.4 L1883.3,531.5 L1884.8,531.7 L1886.4,531.8 L1887.9,531.9 L1889.4,532.0 L1890.9,532.1 L1892.4,532.2 L1893.9,532.3 L1895.5,532.5 L1897.0,532.6 L1898.5,532.7 L1900.0,532.8 L1901.5,532.9 L1903.1,533.0 L1904.6,533.1 L1906.1,533.3 L1907.6,533.4 L1909.1,533.5 L1910.6,533.6 L1912.2,533.7 L1913.7,533.8 L1915.2,533.9 L1916.7,534.1 L1918.2,534.2 L1919.8,534.3 L1921.3,534.4 L1922.8,534.5 L1924.3,534.6 L1925.8,534.7 L1927.3,534.9 L1928.9,535.0 L1930.4,535.1 L1931.9,535.2 L1933.4,535.3 L1934.9,535.4 L1936.4,535.5 L1938.0,535.7 L1939.5,535.8 L1941.0,535.9 L1942.5,536.0 L1944.0,536.1 L1945.6,536.2 L1947.1,536.3 L1948.6,536.4 L1950.1,536.6 L1951.6,536.7 L1953.1,536.8 L1954.7,536.9 L1956.2,537.0 L1957.7,537.1 L1959.2,537.2 L1960.7,537.3 L1962.2,537.5 L1963.8,537.6 L1965.3,537.7 L1966.8,537.8 L1968.3,537.9 L1969.8,538.0 L1971.4,538.1 L1972.9,538.2 L1974.4,538.3 L1975.9,538.5 L1977.4,538.6 L1978.9,538.7 L1980.5,538.8 L1982.0,538.9 L1983.5,539.0 L1985.0,539.1 L1986.5,539.2 L1988.0,539.3 L1989.6,539.5 L1991.1,539.6 L1992.6,539.7 L1994.1,539.8 L1995.6,539.9 L1997.2,540.0 L1998.7,540.1 L2000.2,540.2 L2001.7,540.3 L2003.2,540.5 L2004.7,540.6 L2006.3,540.7 L2007.8,540.8 L2009.3,540.9 L2010.8,541.0 L2012.3,541.1 L2013.9,541.2 L2015.4,541.3 L2016.9,541.4 L2018.4,541.6 L2019.9,541.7 L2021.4,541.8 L2023.0,541.9 L2024.5,542.0 L2026.0,542.1 L2027.5,542.2 L2029.0,542.3 L2030.5,542.4 L2032.1,542.5 L2033.6,542.6 L2035.1,542.8 L2036.6,542.9 L2038.1,543.0 L2039.7,543.1 L2041.2,543.2 L2042.7,543.3 L2044.2,543.4 L2045.7,543.5 L2047.2,543.6 L2048.8,543.7 L2050.3,543.8 L2051.8,544.0 L2053.3,544.1 L2054.8,544.2 L2056.3,544.3 L2057.9,544.4 L2059.4,544.5 L2060.9,544.6 L2062.4,544.7 L2063.9,544.8 L2065.5,544.9 L2067.0,545.0 L2068.5,545.1 L2070.0,545.2 L2071.5,545.4 L2073.0,545.5 L2074.6,545.6 L2076.1,545.7 L2077.6,545.8 L2079.1,545.9 L2080.6,546.0 L2082.1,546.1 L2083.7,546.2 L2085.2,546.3 L2086.7,546.4 L2088.2,546.5 L2089.7,546.6 L2091.3,546.8 L2092.8,546.9 L2094.3,547.0 L2095.8,547.1 L2097.3,547.2 L2098.8,547.3 L2100.4,547.4 L2101.9,547.5 L2103.4,547.6 L2104.9,547.7 L2106.4,547.8 L2107.9,547.9 L2109.5,548.0 L2111.0,548.1 L2112.5,548.2 L2114.0,548.4 L2115.5,548.5 L2117.1,548.6 L2118.6,548.7 L2120.1,548.8 L2121.6,548.9 L2123.1,549.0 L2124.6,549.1 L2126.2,549.2 L2127.7,549.3 L2129.2,549.4 L2130.7,549.5 L2132.2,549.6 L2133.8,549.7 L2135.3,549.8 L2136.8,549.9 L2138.3,550.0 L2139.8,550.1 L2141.3,550.3 L2142.9,550.4 L2144.4,550.5 L2145.9,550.6 L2147.4,550.7 L2148.9,550.8 L2150.4,550.9 L2152.0,551.0 L2153.5,551.1 L2155.0,551.2" stroke="#000" stroke-width="6.6" fill="none"/>
</g>
<g clip-path="url(#c2)">
<path d="M273.0,864.3 L274.5,868.2 L276.0,868.0 L277.6,867.2 L279.1,879.3 L280.6,880.6 L282.1,891.5 L283.6,898.5 L285.1,902.9 L286.7,910.7 L288.2,916.2 L289.7,927.3 L291.2,926.4 L292.7,933.4 L294.2,934.0 L295.8,939.5 L297.3,950.7 L298.8,948.3 L300.3,945.5 L301.8,944.8 L303.4,952.1 L304.9,958.3 L306.4,965.3 L307.9,959.3 L309.4,959.9 L310.9,968.8 L312.5,974.6 L314.0,979.5 L315.5,971.7 L317.0,966.0 L318.5,972.5 L320.1,974.3 L321.6,979.1 L323.1,984.5 L324.6,981.1 L326.1,988.8 L327.6,988.1 L329.2,985.7 L330.7,983.9 L332.2,985.1 L333.7,986.5 L335.2,991.0 L336.7,992.5 L338.3,988.6 L339.8,990.7 L341.3,993.7 L342.8,993.9 L344.3,993.0 L345.9,997.6 L347.4,998.0 L348.9,997.6 L350.4,991.4 L351.9,987.8 L353.4,985.3 L355.0,996.2 L356.5,995.3 L358.0,990.1 L359.5,993.1 L361.0,993.0 L362.5,987.8 L364.1,994.4 L365.6,999.7 L367.1,999.9 L368.6,994.3 L370.1,994.7 L371.7,1000.8 L373.2,999.9 L374.7,994.2 L376.2,994.1 L377.7,997.6 L379.2,994.5 L380.8,996.0 L382.3,1003.5 L383.8,999.9 L385.3,997.1 L386.8,1001.7 L388.3,1006.9 L389.9,1000.8 L391.4,994.8 L392.9,994.3 L394.4,1003.2 L395.9,992.6 L397.5,1000.2 L399.0,995.8 L400.5,993.3 L402.0,994.9 L403.5,999.5 L405.0,1003.5 L406.6,999.6 L408.1,1004.6 L409.6,1007.6 L411.1,991.7 L412.6,993.7 L414.1,994.0 L415.7,1001.0 L417.2,994.7 L418.7,993.6 L420.2,995.1 L421.7,1002.0 L423.3,1006.9 L424.8,1006.1 L426.3,1012.2 L427.8,1010.6 L429.3,1004.6 L430.8,1006.2 L432.4,1004.1 L433.9,1001.3 L435.4,994.4 L436.9,996.1 L438.4,1000.5 L440.0,998.9 L441.5,1004.7 L443.0,1003.8 L444.5,1000.8 L446.0,1006.7 L447.5,1006.1 L449.1,1007.7 L450.6,1002.0 L452.1,997.4 L453.6,1003.8 L455.1,1003.4 L456.6,1006.9 L458.2,1008.9 L459.7,1007.0 L461.2,996.3 L462.7,992.2 L464.2,999.3 L465.8,1004.0 L467.3,1000.8 L468.8,1002.2 L470.3,999.3 L471.8,1000.0 L473.3,1000.1 L474.9,999.9 L476.4,1003.7 L477.9,1005.2 L479.4,1008.5 L480.9,1005.8 L482.4,1006.9 L484.0,1003.7 L485.5,1004.4 L487.0,1000.8 L488.5,1000.1 L490.0,1005.9 L491.6,1005.3 L493.1,1003.6 L494.6,996.5 L496.1,992.1 L497.6,995.2 L499.1,998.7 L500.7,995.7 L502.2,1002.1 L503.7,995.7 L505.2,1002.6 L506.7,1007.3 L508.2,990.3 L509.8,991.6 L511.3,1000.9 L512.8,999.3 L514.3,999.3 L515.8,999.9 L517.4,1004.7 L518.9,1002.2 L520.4,997.5 L521.9,996.4 L523.4,994.1 L524.9,995.3 L526.5,990.8 L528.0,999.2 L529.5,1000.4 L531.0,1006.9 L532.5,1004.2 L534.1,996.2 L535.6,1000.9 L537.1,998.2 L538.6,1000.0 L540.1,1003.5 L541.6,1002.1 L543.2,1002.1 L544.7,1001.1 L546.2,996.7 L547.7,997.2 L549.2,1002.1 L550.7,1003.5 L552.3,999.9 L553.8,999.2 L555.3,994.1 L556.8,988.8 L558.3,994.9 L559.9,1000.0 L561.4,1002.1 L562.9,1004.9 L564.4,1005.9 L565.9,1005.8 L567.4,1003.8 L569.0,1002.4 L570.5,999.3 L572.0,1002.4 L573.5,1003.7 L575.0,1004.8 L576.5,996.4 L578.1,996.9 L579.6,994.2 L581.1,996.2 L582.6,996.3 L584.1,1001.2 L585.7,997.6 L587.2,993.2 L588.7,1003.7 L590.2,998.1 L591.7,995.4 L593.2,999.4 L594.8,999.0 L596.3,998.7 L597.8,1004.6 L599.3,1003.8 L600.8,1007.6 L602.4,1008.2 L603.9,1007.6 L605.4,1005.7 L606.9,1004.1 L608.4,1004.6 L609.9,1008.4 L611.5,998.4 L613.0,999.0 L614.5,1002.6 L616.0,1007.0 L617.5,1006.7 L619.0,1004.5 L620.6,1006.6 L622.1,1012.5 L623.6,1003.6 L625.1,997.9 L626.6,1011.3 L628.2,1005.9 L629.7,1006.3 L631.2,1007.5 L632.7,1005.0 L634.2,1012.2 L635.7,1008.6 L637.3,1004.2 L638.8,1009.6 L640.3,1011.8 L641.8,1010.7 L643.3,1010.7 L644.8,1006.2 L646.4,1012.2 L647.9,1010.0 L649.4,1014.8 L650.9,1010.5 L652.4,1014.2 L654.0,1022.1 L655.5,1015.9 L657.0,1017.2 L658.5,1014.2 L660.0,1008.9 L661.5,1017.2 L663.1,1017.3 L664.6,1009.3 L666.1,1010.9 L667.6,1008.1 L669.1,1012.7 L670.6,1017.8 L672.2,1014.9 L673.7,1009.8 L675.2,1010.7 L676.7,1014.7 L678.2,1015.7 L679.8,1016.9 L681.3,1016.7 L682.8,1009.7 L684.3,1015.8 L685.8,1021.4 L687.3,1019.1 L688.9,1014.2 L690.4,1014.3 L691.9,1018.0 L693.4,1020.3 L694.9,1019.9 L696.5,1025.4 L698.0,1023.8 L699.5,1016.9 L701.0,1019.1 L702.5,1016.4 L704.0,1013.2 L705.6,1015.2 L707.1,1016.3 L708.6,1010.5 L710.1,1015.1 L711.6,1019.4 L713.1,1016.8 L714.7,1018.3 L716.2,1022.6 L717.7,1020.7 L719.2,1022.6 L720.7,1028.0 L722.3,1023.2 L723.8,1022.2 L725.3,1024.1 L726.8,1027.7 L728.3,1023.8 L729.8,1021.5 L731.4,1021.9 L732.9,1024.9 L734.4,1021.3 L735.9,1025.8 L737.4,1022.5 L738.9,1017.8 L740.5,1023.9 L742.0,1023.7 L743.5,1019.1 L745.0,1023.1 L746.5,1023.7 L748.1,1021.1 L749.6,1020.6 L751.1,1030.9 L752.6,1029.0 L754.1,1028.5 L755.6,1028.8 L757.2,1028.0 L758.7,1026.5 L760.2,1022.9 L761.7,1024.9 L763.2,1021.4 L764.7,1020.1 L766.3,1023.1 L767.8,1019.9 L769.3,1015.5 L770.8,1021.0 L772.3,1026.5 L773.9,1026.9 L775.4,1029.2 L776.9,1025.7 L778.4,1024.6 L779.9,1030.4 L781.4,1029.1 L783.0,1025.7 L784.5,1030.4 L786.0,1031.0 L787.5,1035.2 L789.0,1035.7 L790.6,1032.5 L792.1,1025.1 L793.6,1032.7 L795.1,1035.9 L796.6,1036.3 L798.1,1034.5 L799.7,1032.0 L801.2,1031.7 L802.7,1027.3 L804.2,1031.7 L805.7,1030.3 L807.2,1033.6 L808.8,1035.7 L810.3,1042.1 L811.8,1039.4 L813.3,1038.6 L814.8,1041.2 L816.4,1045.9 L817.9,1038.0 L819.4,1040.3 L820.9,1041.7 L822.4,1041.4 L823.9,1040.8 L825.5,1040.2 L827.0,1045.7 L828.5,1045.1 L830.0,1040.7 L831.5,1040.8 L833.0,1043.3 L834.6,1044.9 L836.1,1045.6 L837.6,1042.1 L839.1,1039.1 L840.6,1044.0 L842.2,1037.4 L843.7,1039.0 L845.2,1043.4 L846.7,1042.3 L848.2,1049.9 L849.7,1052.7 L851.3,1050.7 L852.8,1047.2 L854.3,1046.4 L855.8,1046.7 L857.3,1046.8 L858.8,1052.2 L860.4,1046.5 L861.9,1050.6 L863.4,1049.4 L864.9,1048.6 L866.4,1051.4 L868.0,1052.6 L869.5,1050.7 L871.0,1046.2 L872.5,1043.2 L874.0,1044.2 L875.5,1049.8 L877.1,1050.6 L878.6,1049.7 L880.1,1047.0 L881.6,1051.9 L883.1,1043.7 L884.6,1047.3 L886.2,1048.8 L887.7,1044.3 L889.2,1041.3 L890.7,1042.5 L892.2,1041.3 L893.8,1042.9 L895.3,1039.7 L896.8,1039.8 L898.3,1043.2 L899.8,1039.8 L901.3,1043.1 L902.9,1045.3 L904.4,1048.4 L905.9,1045.9 L907.4,1043.1 L908.9,1047.9 L910.5,1042.7 L912.0,1042.0 L913.5,1044.6 L915.0,1051.6 L916.5,1045.4 L918.0,1041.8 L919.6,1045.3 L921.1,1045.3 L922.6,1050.4 L924.1,1042.1 L925.6,1042.3 L927.1,1039.6 L928.7,1045.2 L930.2,1038.4 L931.7,1037.7 L933.2,1035.4 L934.7,1039.5 L936.3,1036.4 L937.8,1027.5 L939.3,1035.0 L940.8,1035.9 L942.3,1033.9 L943.8,1033.1 L945.4,1023.9 L946.9,1020.8 L948.4,1028.6 L949.9,1030.4 L951.4,1019.1 L952.9,1015.2 L954.5,1014.3 L956.0,1013.3 L957.5,1018.0 L959.0,1016.5 L960.5,1018.5 L962.1,1015.7 L963.6,1006.5 L965.1,1005.8 L966.6,996.4 L968.1,1000.4 L969.6,1001.4 L971.2,993.5 L972.7,987.2 L974.2,989.8 L975.7,992.7 L977.2,984.1 L978.8,977.1 L980.3,979.4 L981.8,976.6 L983.3,967.1 L984.8,965.6 L986.3,966.2 L987.9,960.8 L989.4,956.3 L990.9,948.4 L992.4,942.4 L993.9,934.0 L995.4,931.1 L997.0,931.8 L998.5,919.5 L1000.0,909.3 L1001.5,902.8 L1003.0,895.4 L1004.6,893.7 L1006.1,887.3 L1007.6,874.8 L1009.1,873.3 L1010.6,867.8 L1012.1,849.9 L1013.7,844.2 L1015.2,836.4 L1016.7,830.9 L1018.2,822.5 L1019.7,812.4 L1021.2,800.6 L1022.8,791.9 L1024.3,790.7 L1025.8,776.5 L1027.3,774.1 L1028.8,767.6 L1030.4,754.2 L1031.9,747.4 L1033.4,741.7 L1034.9,728.7 L1036.4,736.3 L1037.9,739.9 L1039.5,743.3 L1041.0,744.5 L1042.5,751.7 L1044.0,752.1 L1045.5,759.4 L1047.0,760.8 L1048.6,771.3 L1050.1,775.2 L1051.6,774.8 L1053.1,786.6 L1054.6,795.1 L1056.2,797.1 L1057.7,810.1 L1059.2,821.3 L1060.7,824.8 L1062.2,834.4 L1063.7,833.5 L1065.3,838.2 L1066.8,849.9 L1068.3,855.9 L1069.8,857.8 L1071.3,862.9 L1072.8,869.6 L1074.4,871.5 L1075.9,882.5 L1077.4,883.4 L1078.9,886.3 L1080.4,890.1 L1082.0,894.1 L1083.5,902.5 L1085.0,902.9 L1086.5,909.5 L1088.0,917.3 L1089.5,924.8 L1091.1,928.0 L1092.6,928.0 L1094.1,935.0 L1095.6,936.0 L1097.1,935.8 L1098.7,938.7 L1100.2,942.4 L1101.7,953.2 L1103.2,959.4 L1104.7,956.6 L1106.2,960.0 L1107.8,961.9 L1109.3,967.3 L1110.8,967.2 L1112.3,970.2 L1113.8,973.5 L1115.3,976.5 L1116.9,979.0 L1118.4,981.4 L1119.9,982.4 L1121.4,982.4 L1122.9,986.6 L1124.5,982.7 L1126.0,987.8 L1127.5,987.9 L1129.0,992.5 L1130.5,993.5 L1132.0,989.1 L1133.6,998.1 L1135.1,1004.9 L1136.6,1004.9 L1138.1,1002.2 L1139.6,996.0 L1141.1,1001.5 L1142.7,1003.6 L1144.2,1010.2 L1145.7,1008.1 L1147.2,1006.0 L1148.7,1005.1 L1150.3,1013.1 L1151.8,1011.7 L1153.3,1013.4 L1154.8,1017.8 L1156.3,1015.4 L1157.8,1016.8 L1159.4,1021.2 L1160.9,1011.4 L1162.4,1008.7 L1163.9,1010.4 L1165.4,1007.3 L1167.0,993.4 L1168.5,989.0 L1170.0,980.6 L1171.5,972.4 L1173.0,968.3 L1174.5,952.8 L1176.1,936.9 L1177.6,914.2 L1179.1,887.1 L1180.6,846.0 L1182.1,809.5 L1183.6,802.2 L1185.2,803.4 L1186.7,808.6 L1188.2,870.6 L1189.7,955.3 L1191.2,988.3 L1192.8,1001.9 L1194.3,1013.3 L1195.8,1020.7 L1197.3,1026.0 L1198.8,1021.5 L1200.3,1025.2 L1201.9,1031.7 L1203.4,1034.2 L1204.9,1029.5 L1206.4,1035.6 L1207.9,1039.2 L1209.4,1038.8 L1211.0,1037.9 L1212.5,1035.5 L1214.0,1037.9 L1215.5,1034.0 L1217.0,1041.3 L1218.6,1039.3 L1220.1,1041.0 L1221.6,1033.3 L1223.1,1036.8 L1224.6,1034.8 L1226.1,1028.2 L1227.7,1025.3 L1229.2,1029.6 L1230.7,1025.4 L1232.2,1020.7 L1233.7,1008.2 L1235.2,998.6 L1236.8,988.9 L1238.3,975.6 L1239.8,957.7 L1241.3,938.0 L1242.8,911.7 L1244.4,888.7 L1245.9,874.6 L1247.4,839.3 L1248.9,785.9 L1250.4,697.3 L1251.9,614.6 L1253.5,529.9 L1255.0,465.3 L1256.5,442.4 L1258.0,500.8 L1259.5,596.6 L1261.1,704.5 L1262.6,798.8 L1264.1,874.5 L1265.6,925.5 L1267.1,958.4 L1268.6,983.4 L1270.2,996.8 L1271.7,1010.6 L1273.2,1026.0 L1274.7,1029.1 L1276.2,1023.9 L1277.7,1027.0 L1279.3,1037.6 L1280.8,1042.5 L1282.3,1042.4 L1283.8,1043.7 L1285.3,1047.4 L1286.9,1044.8 L1288.4,1049.0 L1289.9,1048.9 L1291.4,1043.4 L1292.9,1047.5 L1294.4,1046.9 L1296.0,1044.4 L1297.5,1044.8 L1299.0,1049.3 L1300.5,1050.5 L1302.0,1052.0 L1303.5,1045.3 L1305.1,1049.5 L1306.6,1056.8 L1308.1,1054.7 L1309.6,1052.3 L1311.1,1052.2 L1312.7,1048.9 L1314.2,1052.1 L1315.7,1060.0 L1317.2,1062.2 L1318.7,1065.7 L1320.2,1062.1 L1321.8,1059.6 L1323.3,1053.6 L1324.8,1063.6 L1326.3,1073.4 L1327.8,1070.3 L1329.3,1068.1 L1330.9,1072.8 L1332.4,1072.8 L1333.9,1070.7 L1335.4,1068.8 L1336.9,1071.4 L1338.5,1073.6 L1340.0,1070.0 L1341.5,1073.9 L1343.0,1076.3 L1344.5,1079.5 L1346.0,1077.4 L1347.6,1074.1 L1349.1,1080.1 L1350.6,1076.1 L1352.1,1073.2 L1353.6,1076.3 L1355.2,1076.5 L1356.7,1079.1 L1358.2,1072.0 L1359.7,1071.7 L1361.2,1077.1 L1362.7,1084.9 L1364.3,1082.6 L1365.8,1074.2 L1367.3,1071.2 L1368.8,1075.2 L1370.3,1074.9 L1371.8,1080.8 L1373.4,1081.0 L1374.9,1079.8 L1376.4,1080.1 L1377.9,1084.9 L1379.4,1077.5 L1381.0,1076.3 L1382.5,1085.4 L1384.0,1087.0 L1385.5,1082.1 L1387.0,1085.9 L1388.5,1090.3 L1390.1,1081.0 L1391.6,1081.1 L1393.1,1081.8 L1394.6,1074.7 L1396.1,1080.5 L1397.6,1084.8 L1399.2,1083.5 L1400.7,1086.7 L1402.2,1085.6 L1403.7,1082.0 L1405.2,1084.2 L1406.8,1082.7 L1408.3,1075.5 L1409.8,1076.5 L1411.3,1077.5 L1412.8,1078.5 L1414.3,1077.9 L1415.9,1075.6 L1417.4,1078.3 L1418.9,1075.1 L1420.4,1082.9 L1421.9,1083.8 L1423.4,1086.1 L1425.0,1082.4 L1426.5,1077.3 L1428.0,1074.8 L1429.5,1080.9 L1431.0,1080.5 L1432.6,1081.4 L1434.1,1083.3 L1435.6,1083.9 L1437.1,1081.2 L1438.6,1084.7 L1440.1,1079.5 L1441.7,1078.6 L1443.2,1081.3 L1444.7,1083.3 L1446.2,1081.9 L1447.7,1073.0 L1449.2,1079.0 L1450.8,1071.9 L1452.3,1073.5 L1453.8,1078.3 L1455.3,1079.8 L1456.8,1071.6 L1458.4,1069.3 L1459.9,1077.5 L1461.4,1076.1 L1462.9,1070.9 L1464.4,1070.5 L1465.9,1067.1 L1467.5,1073.7 L1469.0,1073.2 L1470.5,1075.5 L1472.0,1067.2 L1473.5,1075.5 L1475.1,1081.3 L1476.6,1074.8 L1478.1,1070.8 L1479.6,1065.1 L1481.1,1070.9 L1482.6,1071.0 L1484.2,1067.4 L1485.7,1064.5 L1487.2,1068.5 L1488.7,1066.3 L1490.2,1067.8 L1491.7,1070.8 L1493.3,1070.2 L1494.8,1070.8 L1496.3,1072.4 L1497.8,1067.8 L1499.3,1073.1 L1500.9,1066.3 L1502.4,1065.8 L1503.9,1070.4 L1505.4,1073.4 L1506.9,1071.5 L1508.4,1068.3 L1510.0,1067.1 L1511.5,1068.0 L1513.0,1067.3 L1514.5,1071.8 L1516.0,1072.0 L1517.5,1075.9 L1519.1,1069.6 L1520.6,1070.4 L1522.1,1071.7 L1523.6,1067.0 L1525.1,1070.6 L1526.7,1081.4 L1528.2,1075.6 L1529.7,1076.4 L1531.2,1067.3 L1532.7,1062.7 L1534.2,1072.3 L1535.8,1073.6 L1537.3,1074.2 L1538.8,1072.5 L1540.3,1070.8 L1541.8,1070.8 L1543.4,1076.8 L1544.9,1072.3 L1546.4,1078.6 L1547.9,1076.2 L1549.4,1072.9 L1550.9,1075.8 L1552.5,1082.6 L1554.0,1083.5 L1555.5,1082.6 L1557.0,1080.3 L1558.5,1078.2 L1560.0,1084.9 L1561.6,1081.0 L1563.1,1079.3 L1564.6,1079.8 L1566.1,1079.6 L1567.6,1077.0 L1569.2,1079.8 L1570.7,1079.9 L1572.2,1079.6 L1573.7,1078.7 L1575.2,1088.3 L1576.7,1081.4 L1578.3,1084.3 L1579.8,1086.4 L1581.3,1089.8 L1582.8,1092.4 L1584.3,1088.1 L1585.8,1086.8 L1587.4,1084.5 L1588.9,1088.0 L1590.4,1080.3 L1591.9,1082.4 L1593.4,1085.8 L1595.0,1088.0 L1596.5,1089.1 L1598.0,1089.9 L1599.5,1087.6 L1601.0,1085.2 L1602.5,1086.5 L1604.1,1090.2 L1605.6,1087.7 L1607.1,1088.0 L1608.6,1083.1 L1610.1,1077.1 L1611.6,1081.0 L1613.2,1086.7 L1614.7,1092.2 L1616.2,1092.9 L1617.7,1091.6 L1619.2,1084.3 L1620.8,1086.9 L1622.3,1085.8 L1623.8,1086.9 L1625.3,1083.8 L1626.8,1080.3 L1628.3,1086.4 L1629.9,1087.5 L1631.4,1087.4 L1632.9,1083.4 L1634.4,1089.0 L1635.9,1091.4 L1637.5,1092.4 L1639.0,1091.0 L1640.5,1082.3 L1642.0,1076.2 L1643.5,1085.6 L1645.0,1082.4 L1646.6,1084.5 L1648.1,1089.3 L1649.6,1087.6 L1651.1,1087.1 L1652.6,1086.4 L1654.1,1080.7 L1655.7,1090.4 L1657.2,1085.6 L1658.7,1084.6 L1660.2,1087.3 L1661.7,1084.9 L1663.3,1082.3 L1664.8,1084.1 L1666.3,1083.6 L1667.8,1084.8 L1669.3,1091.4 L1670.8,1080.4 L1672.4,1075.5 L1673.9,1079.6 L1675.4,1082.9 L1676.9,1090.6 L1678.4,1088.8 L1679.9,1090.1 L1681.5,1088.5 L1683.0,1084.3 L1684.5,1088.9 L1686.0,1089.7 L1687.5,1094.1 L1689.1,1089.2 L1690.6,1087.5 L1692.1,1090.2 L1693.6,1088.7 L1695.1,1082.1 L1696.6,1091.0 L1698.2,1093.1 L1699.7,1090.3 L1701.2,1082.0 L1702.7,1078.6 L1704.2,1085.3 L1705.7,1090.6 L1707.3,1089.3 L1708.8,1085.4 L1710.3,1089.2 L1711.8,1082.5 L1713.3,1081.8 L1714.9,1086.4 L1716.4,1085.5 L1717.9,1084.0 L1719.4,1083.4 L1720.9,1090.3 L1722.4,1086.1 L1724.0,1090.3 L1725.5,1092.5 L1727.0,1090.2 L1728.5,1091.5 L1730.0,1095.4 L1731.6,1097.9 L1733.1,1094.1 L1734.6,1084.6 L1736.1,1081.9 L1737.6,1086.1 L1739.1,1087.1 L1740.7,1092.8 L1742.2,1092.7 L1743.7,1092.6 L1745.2,1097.4 L1746.7,1097.7 L1748.2,1094.3 L1749.8,1095.9 L1751.3,1098.0 L1752.8,1094.2 L1754.3,1094.5 L1755.8,1091.6 L1757.4,1094.8 L1758.9,1096.8 L1760.4,1096.1 L1761.9,1097.6 L1763.4,1099.7 L1764.9,1098.5 L1766.5,1094.5 L1768.0,1093.6 L1769.5,1094.3 L1771.0,1103.8 L1772.5,1102.0 L1774.0,1100.7 L1775.6,1099.4 L1777.1,1101.5 L1778.6,1101.4 L1780.1,1097.5 L1781.6,1100.0 L1783.2,1103.4 L1784.7,1096.0 L1786.2,1096.6 L1787.7,1101.6 L1789.2,1099.5 L1790.7,1102.5 L1792.3,1098.5 L1793.8,1102.5 L1795.3,1105.7 L1796.8,1105.2 L1798.3,1105.6 L1799.8,1102.6 L1801.4,1102.2 L1802.9,1103.5 L1804.4,1108.7 L1805.9,1117.5 L1807.4,1108.5 L1809.0,1110.6 L1810.5,1104.0 L1812.0,1099.8 L1813.5,1102.8 L1815.0,1106.0 L1816.5,1106.0 L1818.1,1106.2 L1819.6,1107.9 L1821.1,1108.9 L1822.6,1108.4 L1824.1,1102.3 L1825.7,1104.0 L1827.2,1102.8 L1828.7,1106.2 L1830.2,1106.5 L1831.7,1106.7 L1833.2,1104.4 L1834.8,1103.2 L1836.3,1105.9 L1837.8,1110.0 L1839.3,1109.2 L1840.8,1102.2 L1842.3,1107.2 L1843.9,1107.5 L1845.4,1101.6 L1846.9,1102.0 L1848.4,1105.2 L1849.9,1106.7 L1851.5,1099.4 L1853.0,1104.0 L1854.5,1105.9 L1856.0,1109.7 L1857.5,1114.8 L1859.0,1114.2 L1860.6,1107.8 L1862.1,1106.9 L1863.6,1110.1 L1865.1,1114.4 L1866.6,1115.2 L1868.1,1112.5 L1869.7,1113.5 L1871.2,1105.6 L1872.7,1101.1 L1874.2,1096.5 L1875.7,1103.5 L1877.3,1111.0 L1878.8,1115.7 L1880.3,1122.9 L1881.8,1114.4 L1883.3,1109.3 L1884.8,1105.0 L1886.4,1105.4 L1887.9,1106.1 L1889.4,1107.2 L1890.9,1105.3 L1892.4,1104.3 L1893.9,1112.3 L1895.5,1113.3 L1897.0,1113.5 L1898.5,1103.8 L1900.0,1102.9 L1901.5,1107.1 L1903.1,1113.7 L1904.6,1111.0 L1906.1,1111.2 L1907.6,1110.8 L1909.1,1111.2 L1910.6,1109.9 L1912.2,1111.7 L1913.7,1108.8 L1915.2,1110.7 L1916.7,1113.3 L1918.2,1113.7 L1919.8,1113.9 L1921.3,1110.9 L1922.8,1113.5 L1924.3,1113.4 L1925.8,1116.7 L1927.3,1119.4 L1928.9,1113.7 L1930.4,1117.5 L1931.9,1113.4 L1933.4,1115.0 L1934.9,1122.4 L1936.4,1121.6 L1938.0,1119.9 L1939.5,1121.1 L1941.0,1121.2 L1942.5,1115.6 L1944.0,1117.1 L1945.6,1116.5 L1947.1,1118.5 L1948.6,1117.6 L1950.1,1120.3 L1951.6,1118.1 L1953.1,1115.8 L1954.7,1117.7 L1956.2,1120.6 L1957.7,1122.2 L1959.2,1118.0 L1960.7,1116.8 L1962.2,1119.3 L1963.8,1120.5 L1965.3,1114.4 L1966.8,1108.6 L1968.3,1116.4 L1969.8,1116.6 L1971.4,1118.5 L1972.9,1126.8 L1974.4,1120.3 L1975.9,1119.1 L1977.4,1113.6 L1978.9,1118.1 L1980.5,1121.0 L1982.0,1119.1 L1983.5,1117.8 L1985.0,1119.6 L1986.5,1119.6 L1988.0,1122.8 L1989.6,1118.9 L1991.1,1113.1 L1992.6,1109.0 L1994.1,1112.8 L1995.6,1114.7 L1997.2,1111.9 L1998.7,1111.1 L2000.2,1109.4 L2001.7,1112.0 L2003.2,1116.5 L2004.7,1116.3 L2006.3,1116.1 L2007.8,1115.8 L2009.3,1117.0 L2010.8,1121.8 L2012.3,1126.3 L2013.9,1123.4 L2015.4,1125.2 L2016.9,1118.8 L2018.4,1118.6 L2019.9,1122.6 L2021.4,1115.3 L2023.0,1113.2 L2024.5,1114.4 L2026.0,1109.2 L2027.5,1109.8 L2029.0,1118.8 L2030.5,1114.0 L2032.1,1114.2 L2033.6,1114.4 L2035.1,1114.1 L2036.6,1119.6 L2038.1,1121.0 L2039.7,1121.7 L2041.2,1121.2 L2042.7,1120.1 L2044.2,1124.2 L2045.7,1122.6 L2047.2,1117.0 L2048.8,1117.6 L2050.3,1118.8 L2051.8,1125.8 L2053.3,1123.8 L2054.8,1121.6 L2056.3,1119.9 L2057.9,1120.5 L2059.4,1116.5 L2060.9,1118.9 L2062.4,1119.6 L2063.9,1119.1 L2065.5,1117.8 L2067.0,1120.2 L2068.5,1116.1 L2070.0,1117.6 L2071.5,1119.5 L2073.0,1119.9 L2074.6,1117.9 L2076.1,1115.9 L2077.6,1116.4 L2079.1,1118.2 L2080.6,1117.7 L2082.1,1119.2 L2083.7,1117.1 L2085.2,1122.7 L2086.7,1128.4 L2088.2,1119.1 L2089.7,1121.8 L2091.3,1126.8 L2092.8,1125.2 L2094.3,1124.3 L2095.8,1115.6 L2097.3,1120.8 L2098.8,1128.0 L2100.4,1123.2 L2101.9,1122.8 L2103.4,1118.1 L2104.9,1128.1 L2106.4,1133.2 L2107.9,1126.4 L2109.5,1126.1 L2111.0,1128.4 L2112.5,1132.6 L2114.0,1123.8 L2115.5,1120.4 L2117.1,1129.7 L2118.6,1123.4 L2120.1,1124.5 L2121.6,1117.3 L2123.1,1122.4 L2124.6,1125.4 L2126.2,1122.0 L2127.7,1124.1 L2129.2,1127.8 L2130.7,1125.3 L2132.2,1129.9 L2133.8,1132.5 L2135.3,1122.0 L2136.8,1127.7 L2138.3,1130.1 L2139.8,1128.8 L2141.3,1134.9 L2142.9,1135.3 L2144.4,1132.2 L2145.9,1131.1 L2147.4,1128.2 L2148.9,1125.5 L2150.4,1129.7 L2152.0,1127.7 L2153.5,1128.2 L2155.0,1133.3" stroke="#000" stroke-width="4.2" fill="none" stroke-linejoin="round"/>
<path d="M273.0,991.0 L274.5,991.0 L276.0,991.0 L277.6,991.0 L279.1,991.0 L280.6,991.0 L282.1,991.1 L283.6,991.1 L285.1,991.1 L286.7,991.2 L288.2,991.2 L289.7,991.3 L291.2,991.3 L292.7,991.4 L294.2,991.5 L295.8,991.5 L297.3,991.6 L298.8,991.7 L300.3,991.7 L301.8,991.8 L303.4,991.9 L304.9,992.0 L306.4,992.0 L307.9,992.1 L309.4,992.2 L310.9,992.3 L312.5,992.4 L314.0,992.5 L315.5,992.6 L317.0,992.7 L318.5,992.8 L320.1,992.8 L321.6,992.9 L323.1,993.0 L324.6,993.1 L326.1,993.2 L327.6,993.3 L329.2,993.4 L330.7,993.5 L332.2,993.7 L333.7,993.8 L335.2,993.9 L336.7,994.1 L338.3,994.2 L339.8,994.4 L341.3,994.6 L342.8,994.8 L344.3,995.0 L345.9,995.2 L347.4,995.4 L348.9,995.7 L350.4,995.9 L351.9,996.2 L353.4,996.4 L355.0,996.6 L356.5,996.9 L358.0,997.2 L359.5,997.4 L361.0,997.7 L362.5,997.9 L364.1,998.2 L365.6,998.4 L367.1,998.7 L368.6,999.0 L370.1,999.2 L371.7,999.4 L373.2,999.7 L374.7,999.9 L376.2,1000.1 L377.7,1000.3 L379.2,1000.5 L380.8,1000.7 L382.3,1000.9 L383.8,1001.1 L385.3,1001.2 L386.8,1001.4 L388.3,1001.5 L389.9,1001.6 L391.4,1001.7 L392.9,1001.8 L394.4,1001.9 L395.9,1002.0 L397.5,1002.0 L399.0,1002.1 L400.5,1002.1 L402.0,1002.2 L403.5,1002.2 L405.0,1002.3 L406.6,1002.3 L408.1,1002.4 L409.6,1002.5 L411.1,1002.5 L412.6,1002.6 L414.1,1002.6 L415.7,1002.6 L417.2,1002.7 L418.7,1002.7 L420.2,1002.8 L421.7,1002.8 L423.3,1002.9 L424.8,1002.9 L426.3,1002.9 L427.8,1003.0 L429.3,1003.0 L430.8,1003.0 L432.4,1003.1 L433.9,1003.1 L435.4,1003.1 L436.9,1003.2 L438.4,1003.2 L440.0,1003.2 L441.5,1003.2 L443.0,1003.3 L444.5,1003.3 L446.0,1003.3 L447.5,1003.3 L449.1,1003.3 L450.6,1003.3 L452.1,1003.3 L453.6,1003.3 L455.1,1003.3 L456.6,1003.3 L458.2,1003.3 L459.7,1003.3 L461.2,1003.3 L462.7,1003.2 L464.2,1003.2 L465.8,1003.1 L467.3,1003.0 L468.8,1002.9 L470.3,1002.8 L471.8,1002.7 L473.3,1002.6 L474.9,1002.4 L476.4,1002.3 L477.9,1002.2 L479.4,1002.0 L480.9,1001.9 L482.4,1001.7 L484.0,1001.6 L485.5,1001.4 L487.0,1001.2 L488.5,1001.1 L490.0,1000.9 L491.6,1000.8 L493.1,1000.6 L494.6,1000.5 L496.1,1000.3 L497.6,1000.2 L499.1,1000.1 L500.7,1000.0 L502.2,999.8 L503.7,999.7 L505.2,999.6 L506.7,999.6 L508.2,999.5 L509.8,999.4 L511.3,999.4 L512.8,999.3 L514.3,999.3 L515.8,999.3 L517.4,999.3 L518.9,999.3 L520.4,999.3 L521.9,999.3 L523.4,999.4 L524.9,999.4 L526.5,999.4 L528.0,999.5 L529.5,999.5 L531.0,999.6 L532.5,999.6 L534.1,999.7 L535.6,999.7 L537.1,999.8 L538.6,999.8 L540.1,999.9 L541.6,1000.0 L543.2,1000.1 L544.7,1000.1 L546.2,1000.2 L547.7,1000.3 L549.2,1000.4 L550.7,1000.5 L552.3,1000.6 L553.8,1000.7 L555.3,1000.8 L556.8,1000.9 L558.3,1001.0 L559.9,1001.1 L561.4,1001.2 L562.9,1001.3 L564.4,1001.4 L565.9,1001.5 L567.4,1001.6 L569.0,1001.7 L570.5,1001.9 L572.0,1002.0 L573.5,1002.1 L575.0,1002.2 L576.5,1002.3 L578.1,1002.5 L579.6,1002.6 L581.1,1002.7 L582.6,1002.8 L584.1,1003.0 L585.7,1003.1 L587.2,1003.2 L588.7,1003.3 L590.2,1003.5 L591.7,1003.6 L593.2,1003.8 L594.8,1003.9 L596.3,1004.1 L597.8,1004.3 L599.3,1004.5 L600.8,1004.6 L602.4,1004.8 L603.9,1005.1 L605.4,1005.3 L606.9,1005.5 L608.4,1005.7 L609.9,1005.9 L611.5,1006.2 L613.0,1006.4 L614.5,1006.7 L616.0,1006.9 L617.5,1007.1 L619.0,1007.4 L620.6,1007.6 L622.1,1007.9 L623.6,1008.1 L625.1,1008.4 L626.6,1008.6 L628.2,1008.9 L629.7,1009.1 L631.2,1009.3 L632.7,1009.6 L634.2,1009.8 L635.7,1010.0 L637.3,1010.2 L638.8,1010.5 L640.3,1010.7 L641.8,1010.9 L643.3,1011.1 L644.8,1011.4 L646.4,1011.6 L647.9,1011.8 L649.4,1012.1 L650.9,1012.3 L652.4,1012.6 L654.0,1012.8 L655.5,1013.0 L657.0,1013.3 L658.5,1013.5 L660.0,1013.7 L661.5,1014.0 L663.1,1014.2 L664.6,1014.4 L666.1,1014.7 L667.6,1014.9 L669.1,1015.1 L670.6,1015.3 L672.2,1015.6 L673.7,1015.8 L675.2,1016.0 L676.7,1016.2 L678.2,1016.4 L679.8,1016.6 L681.3,1016.8 L682.8,1017.0 L684.3,1017.2 L685.8,1017.3 L687.3,1017.5 L688.9,1017.7 L690.4,1017.9 L691.9,1018.0 L693.4,1018.2 L694.9,1018.4 L696.5,1018.5 L698.0,1018.7 L699.5,1018.8 L701.0,1019.0 L702.5,1019.1 L704.0,1019.3 L705.6,1019.4 L707.1,1019.6 L708.6,1019.7 L710.1,1019.9 L711.6,1020.0 L713.1,1020.2 L714.7,1020.3 L716.2,1020.4 L717.7,1020.6 L719.2,1020.7 L720.7,1020.8 L722.3,1021.0 L723.8,1021.1 L725.3,1021.2 L726.8,1021.4 L728.3,1021.5 L729.8,1021.6 L731.4,1021.7 L732.9,1021.9 L734.4,1022.0 L735.9,1022.2 L737.4,1022.3 L738.9,1022.4 L740.5,1022.6 L742.0,1022.7 L743.5,1022.8 L745.0,1023.0 L746.5,1023.1 L748.1,1023.2 L749.6,1023.3 L751.1,1023.3 L752.6,1023.4 L754.1,1023.5 L755.6,1023.5 L757.2,1023.5 L758.7,1023.3 L760.2,1023.0 L761.7,1022.5 L763.2,1022.0 L764.7,1021.6 L766.3,1021.5 L767.8,1021.8 L769.3,1022.7 L770.8,1023.8 L772.3,1024.9 L773.9,1025.8 L775.4,1026.5 L776.9,1027.2 L778.4,1027.9 L779.9,1028.5 L781.4,1029.1 L783.0,1029.7 L784.5,1030.3 L786.0,1030.8 L787.5,1031.4 L789.0,1031.8 L790.6,1032.3 L792.1,1032.8 L793.6,1033.2 L795.1,1033.7 L796.6,1034.1 L798.1,1034.6 L799.7,1035.0 L801.2,1035.4 L802.7,1035.8 L804.2,1036.2 L805.7,1036.6 L807.2,1037.0 L808.8,1037.4 L810.3,1037.8 L811.8,1038.1 L813.3,1038.5 L814.8,1038.8 L816.4,1039.2 L817.9,1039.5 L819.4,1039.8 L820.9,1040.1 L822.4,1040.4 L823.9,1040.7 L825.5,1040.9 L827.0,1041.2 L828.5,1041.4 L830.0,1041.6 L831.5,1041.9 L833.0,1042.1 L834.6,1042.3 L836.1,1042.5 L837.6,1042.7 L839.1,1043.0 L840.6,1043.2 L842.2,1043.4 L843.7,1043.6 L845.2,1043.8 L846.7,1044.0 L848.2,1044.2 L849.7,1044.4 L851.3,1044.6 L852.8,1044.8 L854.3,1045.0 L855.8,1045.1 L857.3,1045.3 L858.8,1045.5 L860.4,1045.6 L861.9,1045.7 L863.4,1045.9 L864.9,1046.0 L866.4,1046.1 L868.0,1046.2 L869.5,1046.3 L871.0,1046.4 L872.5,1046.4 L874.0,1046.5 L875.5,1046.5 L877.1,1046.5 L878.6,1046.5 L880.1,1046.5 L881.6,1046.5 L883.1,1046.5 L884.6,1046.5 L886.2,1046.4 L887.7,1046.4 L889.2,1046.3 L890.7,1046.3 L892.2,1046.2 L893.8,1046.1 L895.3,1046.0 L896.8,1045.9 L898.3,1045.8 L899.8,1045.7 L901.3,1045.6 L902.9,1045.5 L904.4,1045.4 L905.9,1045.2 L907.4,1045.1 L908.9,1045.0 L910.5,1044.8 L912.0,1044.6 L913.5,1044.5 L915.0,1044.3 L916.5,1044.1 L918.0,1043.9 L919.6,1043.7 L921.1,1043.4 L922.6,1042.9 L924.1,1042.4 L925.6,1041.8 L927.1,1041.1 L928.7,1040.4 L930.2,1039.6 L931.7,1038.8 L933.2,1037.9 L934.7,1036.9 L936.3,1036.0 L937.8,1035.0 L939.3,1033.9 L940.8,1032.9 L942.3,1031.8 L943.8,1030.7 L945.4,1029.5 L946.9,1028.1 L948.4,1026.6 L949.9,1025.1 L951.4,1023.4 L952.9,1021.7 L954.5,1019.9 L956.0,1018.1 L957.5,1016.3 L959.0,1014.4 L960.5,1012.6 L962.1,1010.7 L963.6,1008.8 L965.1,1006.8 L966.6,1004.8 L968.1,1002.7 L969.6,1000.5 L971.2,998.1 L972.7,995.5 L974.2,992.7 L975.7,989.6 L977.2,986.2 L978.8,982.6 L980.3,978.8 L981.8,974.8 L983.3,970.8 L984.8,966.6 L986.3,962.5 L987.9,958.3 L989.4,954.0 L990.9,949.5 L992.4,944.7 L993.9,939.5 L995.4,934.0 L997.0,927.7 L998.5,921.0 L1000.0,914.0 L1001.5,906.8 L1003.0,899.7 L1004.6,892.3 L1006.1,884.7 L1007.6,876.9 L1009.1,868.9 L1010.6,860.4 L1012.1,851.6 L1013.7,842.7 L1015.2,833.9 L1016.7,824.9 L1018.2,815.9 L1019.7,807.2 L1021.2,799.1 L1022.8,791.4 L1024.3,783.8 L1025.8,776.7 L1027.3,770.4 L1028.8,765.0 L1030.4,759.8 L1031.9,754.7 L1033.4,750.6 L1034.9,748.2 L1036.4,748.0 L1037.9,748.6 L1039.5,749.7 L1041.0,751.3 L1042.5,753.1 L1044.0,755.4 L1045.5,759.2 L1047.0,764.2 L1048.6,769.7 L1050.1,775.5 L1051.6,782.3 L1053.1,790.2 L1054.6,798.4 L1056.2,806.4 L1057.7,813.4 L1059.2,819.9 L1060.7,826.3 L1062.2,832.4 L1063.7,838.2 L1065.3,843.7 L1066.8,848.9 L1068.3,853.8 L1069.8,858.4 L1071.3,862.8 L1072.8,867.1 L1074.4,871.4 L1075.9,875.7 L1077.4,880.1 L1078.9,884.8 L1080.4,889.5 L1082.0,894.5 L1083.5,899.4 L1085.0,904.4 L1086.5,909.3 L1088.0,914.1 L1089.5,918.7 L1091.1,923.3 L1092.6,927.9 L1094.1,932.4 L1095.6,936.9 L1097.1,941.3 L1098.7,945.4 L1100.2,949.4 L1101.7,953.2 L1103.2,956.7 L1104.7,960.2 L1106.2,963.7 L1107.8,967.0 L1109.3,970.1 L1110.8,973.0 L1112.3,975.6 L1113.8,977.9 L1115.3,980.0 L1116.9,981.8 L1118.4,983.4 L1119.9,985.0 L1121.4,986.4 L1122.9,987.8 L1124.5,989.1 L1126.0,990.5 L1127.5,991.9 L1129.0,993.4 L1130.5,995.0 L1132.0,996.6 L1133.6,998.2 L1135.1,999.9 L1136.6,1001.4 L1138.1,1002.9 L1139.6,1004.3 L1141.1,1005.6 L1142.7,1006.9 L1144.2,1008.3 L1145.7,1009.7 L1147.2,1011.0 L1148.7,1012.2 L1150.3,1013.3 L1151.8,1014.1 L1153.3,1014.7 L1154.8,1014.9 L1156.3,1014.7 L1157.8,1014.2 L1159.4,1013.5 L1160.9,1012.6 L1162.4,1011.4 L1163.9,1008.7 L1165.4,1003.9 L1167.0,998.4 L1168.5,992.8 L1170.0,986.4 L1171.5,978.6 L1173.0,969.0 L1174.5,955.7 L1176.1,937.2 L1177.6,914.2 L1179.1,887.3 L1180.6,847.5 L1182.1,814.2 L1183.6,804.1 L1185.2,803.3 L1186.7,808.4 L1188.2,871.4 L1189.7,952.4 L1191.2,986.1 L1192.8,1001.3 L1194.3,1011.6 L1195.8,1019.8 L1197.3,1026.0 L1198.8,1030.1 L1200.3,1032.9 L1201.9,1035.2 L1203.4,1037.0 L1204.9,1038.4 L1206.4,1039.3 L1207.9,1040.0 L1209.4,1040.7 L1211.0,1041.2 L1212.5,1041.5 L1214.0,1041.6 L1215.5,1041.5 L1217.0,1041.2 L1218.6,1040.8 L1220.1,1040.2 L1221.6,1039.3 L1223.1,1037.8 L1224.6,1035.8 L1226.1,1033.2 L1227.7,1030.3 L1229.2,1027.0 L1230.7,1022.4 L1232.2,1016.0 L1233.7,1007.9 L1235.2,998.6 L1236.8,987.5 L1238.3,972.9 L1239.8,955.5 L1241.3,936.0 L1242.8,914.9 L1244.4,893.6 L1245.9,869.3 L1247.4,837.4 L1248.9,785.3 L1250.4,698.4 L1251.9,612.0 L1253.5,528.2 L1255.0,462.6 L1256.5,444.6 L1258.0,502.3 L1259.5,597.0 L1261.1,706.1 L1262.6,797.4 L1264.1,869.7 L1265.6,927.1 L1267.1,960.4 L1268.6,984.6 L1270.2,1002.0 L1271.7,1015.5 L1273.2,1023.0 L1274.7,1027.3 L1276.2,1030.8 L1277.7,1033.5 L1279.3,1035.7 L1280.8,1037.5 L1282.3,1039.0 L1283.8,1040.4 L1285.3,1041.7 L1286.9,1042.8 L1288.4,1043.8 L1289.9,1044.7 L1291.4,1045.6 L1292.9,1046.4 L1294.4,1047.1 L1296.0,1047.9 L1297.5,1048.7 L1299.0,1049.4 L1300.5,1050.3 L1302.0,1051.1 L1303.5,1052.1 L1305.1,1053.0 L1306.6,1054.0 L1308.1,1055.0 L1309.6,1055.9 L1311.1,1056.9 L1312.7,1057.9 L1314.2,1058.9 L1315.7,1059.8 L1317.2,1060.8 L1318.7,1061.7 L1320.2,1062.6 L1321.8,1063.4 L1323.3,1064.3 L1324.8,1065.1 L1326.3,1065.8 L1327.8,1066.6 L1329.3,1067.3 L1330.9,1068.0 L1332.4,1068.8 L1333.9,1069.5 L1335.4,1070.2 L1336.9,1070.8 L1338.5,1071.5 L1340.0,1072.1 L1341.5,1072.7 L1343.0,1073.3 L1344.5,1073.9 L1346.0,1074.4 L1347.6,1074.8 L1349.1,1075.3 L1350.6,1075.6 L1352.1,1076.0 L1353.6,1076.3 L1355.2,1076.7 L1356.7,1077.0 L1358.2,1077.3 L1359.7,1077.7 L1361.2,1078.0 L1362.7,1078.3 L1364.3,1078.6 L1365.8,1078.9 L1367.3,1079.2 L1368.8,1079.5 L1370.3,1079.8 L1371.8,1080.1 L1373.4,1080.4 L1374.9,1080.6 L1376.4,1080.9 L1377.9,1081.1 L1379.4,1081.3 L1381.0,1081.5 L1382.5,1081.7 L1384.0,1081.9 L1385.5,1082.1 L1387.0,1082.2 L1388.5,1082.4 L1390.1,1082.5 L1391.6,1082.6 L1393.1,1082.7 L1394.6,1082.7 L1396.1,1082.8 L1397.6,1082.8 L1399.2,1082.8 L1400.7,1082.8 L1402.2,1082.8 L1403.7,1082.7 L1405.2,1082.7 L1406.8,1082.6 L1408.3,1082.5 L1409.8,1082.4 L1411.3,1082.3 L1412.8,1082.2 L1414.3,1082.1 L1415.9,1081.9 L1417.4,1081.8 L1418.9,1081.6 L1420.4,1081.5 L1421.9,1081.3 L1423.4,1081.1 L1425.0,1080.9 L1426.5,1080.7 L1428.0,1080.5 L1429.5,1080.3 L1431.0,1080.1 L1432.6,1079.9 L1434.1,1079.7 L1435.6,1079.5 L1437.1,1079.3 L1438.6,1079.1 L1440.1,1078.9 L1441.7,1078.7 L1443.2,1078.5 L1444.7,1078.3 L1446.2,1078.1 L1447.7,1077.9 L1449.2,1077.7 L1450.8,1077.5 L1452.3,1077.3 L1453.8,1077.1 L1455.3,1076.8 L1456.8,1076.5 L1458.4,1076.3 L1459.9,1076.0 L1461.4,1075.7 L1462.9,1075.4 L1464.4,1075.1 L1465.9,1074.8 L1467.5,1074.5 L1469.0,1074.2 L1470.5,1073.9 L1472.0,1073.6 L1473.5,1073.3 L1475.1,1073.0 L1476.6,1072.8 L1478.1,1072.5 L1479.6,1072.2 L1481.1,1072.0 L1482.6,1071.8 L1484.2,1071.6 L1485.7,1071.4 L1487.2,1071.2 L1488.7,1071.1 L1490.2,1071.0 L1491.7,1070.9 L1493.3,1070.8 L1494.8,1070.7 L1496.3,1070.7 L1497.8,1070.7 L1499.3,1070.7 L1500.9,1070.8 L1502.4,1070.8 L1503.9,1070.9 L1505.4,1070.9 L1506.9,1071.0 L1508.4,1071.0 L1510.0,1071.1 L1511.5,1071.2 L1513.0,1071.3 L1514.5,1071.4 L1516.0,1071.5 L1517.5,1071.6 L1519.1,1071.7 L1520.6,1071.8 L1522.1,1072.0 L1523.6,1072.1 L1525.1,1072.2 L1526.7,1072.4 L1528.2,1072.5 L1529.7,1072.6 L1531.2,1072.8 L1532.7,1072.9 L1534.2,1073.3 L1535.8,1073.8 L1537.3,1074.2 L1538.8,1074.7 L1540.3,1075.3 L1541.8,1075.8 L1543.4,1076.4 L1544.9,1076.9 L1546.4,1077.5 L1547.9,1078.1 L1549.4,1078.6 L1550.9,1079.2 L1552.5,1079.7 L1554.0,1080.3 L1555.5,1080.8 L1557.0,1081.3 L1558.5,1081.8 L1560.0,1082.2 L1561.6,1082.7 L1563.1,1083.1 L1564.6,1083.4 L1566.1,1083.8 L1567.6,1084.1 L1569.2,1084.4 L1570.7,1084.6 L1572.2,1084.6 L1573.7,1084.7 L1575.2,1084.7 L1576.7,1084.7 L1578.3,1084.8 L1579.8,1084.8 L1581.3,1084.8 L1582.8,1084.9 L1584.3,1084.9 L1585.8,1084.9 L1587.4,1084.9 L1588.9,1085.0 L1590.4,1085.0 L1591.9,1085.0 L1593.4,1085.0 L1595.0,1085.0 L1596.5,1085.1 L1598.0,1085.1 L1599.5,1085.1 L1601.0,1085.1 L1602.5,1085.1 L1604.1,1085.2 L1605.6,1085.2 L1607.1,1085.2 L1608.6,1085.2 L1610.1,1085.2 L1611.6,1085.2 L1613.2,1085.3 L1614.7,1085.3 L1616.2,1085.3 L1617.7,1085.3 L1619.2,1085.3 L1620.8,1085.3 L1622.3,1085.4 L1623.8,1085.4 L1625.3,1085.4 L1626.8,1085.4 L1628.3,1085.4 L1629.9,1085.5 L1631.4,1085.5 L1632.9,1085.5 L1634.4,1085.5 L1635.9,1085.6 L1637.5,1085.6 L1639.0,1085.6 L1640.5,1085.7 L1642.0,1085.7 L1643.5,1085.7 L1645.0,1085.8 L1646.6,1085.8 L1648.1,1085.9 L1649.6,1085.9 L1651.1,1085.9 L1652.6,1086.0 L1654.1,1086.0 L1655.7,1086.1 L1657.2,1086.1 L1658.7,1086.2 L1660.2,1086.2 L1661.7,1086.3 L1663.3,1086.3 L1664.8,1086.4 L1666.3,1086.4 L1667.8,1086.5 L1669.3,1086.6 L1670.8,1086.6 L1672.4,1086.7 L1673.9,1086.7 L1675.4,1086.8 L1676.9,1086.9 L1678.4,1087.0 L1679.9,1087.0 L1681.5,1087.1 L1683.0,1087.2 L1684.5,1087.2 L1686.0,1087.3 L1687.5,1087.4 L1689.1,1087.5 L1690.6,1087.6 L1692.1,1087.6 L1693.6,1087.7 L1695.1,1087.8 L1696.6,1087.9 L1698.2,1088.0 L1699.7,1088.1 L1701.2,1088.2 L1702.7,1088.3 L1704.2,1088.4 L1705.7,1088.5 L1707.3,1088.6 L1708.8,1088.7 L1710.3,1088.8 L1711.8,1088.9 L1713.3,1089.0 L1714.9,1089.1 L1716.4,1089.2 L1717.9,1089.3 L1719.4,1089.4 L1720.9,1089.6 L1722.4,1089.7 L1724.0,1089.9 L1725.5,1090.1 L1727.0,1090.2 L1728.5,1090.4 L1730.0,1090.7 L1731.6,1090.9 L1733.1,1091.1 L1734.6,1091.4 L1736.1,1091.6 L1737.6,1091.9 L1739.1,1092.2 L1740.7,1092.5 L1742.2,1092.8 L1743.7,1093.1 L1745.2,1093.4 L1746.7,1093.7 L1748.2,1094.0 L1749.8,1094.4 L1751.3,1094.7 L1752.8,1095.0 L1754.3,1095.4 L1755.8,1095.7 L1757.4,1096.0 L1758.9,1096.4 L1760.4,1096.7 L1761.9,1097.0 L1763.4,1097.4 L1764.9,1097.7 L1766.5,1098.0 L1768.0,1098.3 L1769.5,1098.6 L1771.0,1099.0 L1772.5,1099.3 L1774.0,1099.5 L1775.6,1099.8 L1777.1,1100.1 L1778.6,1100.4 L1780.1,1100.6 L1781.6,1100.9 L1783.2,1101.1 L1784.7,1101.3 L1786.2,1101.5 L1787.7,1101.7 L1789.2,1101.9 L1790.7,1102.2 L1792.3,1102.4 L1793.8,1102.6 L1795.3,1102.8 L1796.8,1103.0 L1798.3,1103.2 L1799.8,1103.4 L1801.4,1103.6 L1802.9,1103.8 L1804.4,1104.0 L1805.9,1104.2 L1807.4,1104.3 L1809.0,1104.5 L1810.5,1104.7 L1812.0,1104.9 L1813.5,1105.1 L1815.0,1105.3 L1816.5,1105.5 L1818.1,1105.6 L1819.6,1105.8 L1821.1,1106.0 L1822.6,1106.2 L1824.1,1106.3 L1825.7,1106.5 L1827.2,1106.7 L1828.7,1106.8 L1830.2,1107.0 L1831.7,1107.1 L1833.2,1107.3 L1834.8,1107.4 L1836.3,1107.5 L1837.8,1107.7 L1839.3,1107.8 L1840.8,1107.9 L1842.3,1108.0 L1843.9,1108.1 L1845.4,1108.2 L1846.9,1108.3 L1848.4,1108.4 L1849.9,1108.5 L1851.5,1108.6 L1853.0,1108.7 L1854.5,1108.7 L1856.0,1108.8 L1857.5,1108.9 L1859.0,1108.9 L1860.6,1109.0 L1862.1,1109.0 L1863.6,1109.1 L1865.1,1109.1 L1866.6,1109.1 L1868.1,1109.2 L1869.7,1109.2 L1871.2,1109.2 L1872.7,1109.3 L1874.2,1109.3 L1875.7,1109.3 L1877.3,1109.4 L1878.8,1109.4 L1880.3,1109.4 L1881.8,1109.5 L1883.3,1109.5 L1884.8,1109.6 L1886.4,1109.6 L1887.9,1109.7 L1889.4,1109.7 L1890.9,1109.8 L1892.4,1109.8 L1893.9,1109.9 L1895.5,1110.0 L1897.0,1110.1 L1898.5,1110.2 L1900.0,1110.4 L1901.5,1110.5 L1903.1,1110.7 L1904.6,1110.9 L1906.1,1111.1 L1907.6,1111.3 L1909.1,1111.6 L1910.6,1111.8 L1912.2,1112.1 L1913.7,1112.4 L1915.2,1112.7 L1916.7,1112.9 L1918.2,1113.2 L1919.8,1113.5 L1921.3,1113.8 L1922.8,1114.1 L1924.3,1114.4 L1925.8,1114.7 L1927.3,1115.0 L1928.9,1115.3 L1930.4,1115.6 L1931.9,1115.9 L1933.4,1116.2 L1934.9,1116.4 L1936.4,1116.7 L1938.0,1116.9 L1939.5,1117.2 L1941.0,1117.4 L1942.5,1117.6 L1944.0,1117.8 L1945.6,1117.9 L1947.1,1118.1 L1948.6,1118.2 L1950.1,1118.3 L1951.6,1118.4 L1953.1,1118.5 L1954.7,1118.5 L1956.2,1118.5 L1957.7,1118.5 L1959.2,1118.5 L1960.7,1118.5 L1962.2,1118.5 L1963.8,1118.5 L1965.3,1118.5 L1966.8,1118.5 L1968.3,1118.5 L1969.8,1118.5 L1971.4,1118.4 L1972.9,1118.4 L1974.4,1118.4 L1975.9,1118.4 L1977.4,1118.4 L1978.9,1118.3 L1980.5,1118.3 L1982.0,1118.3 L1983.5,1118.3 L1985.0,1118.2 L1986.5,1118.2 L1988.0,1118.2 L1989.6,1118.2 L1991.1,1118.1 L1992.6,1118.1 L1994.1,1118.1 L1995.6,1118.1 L1997.2,1118.0 L1998.7,1118.0 L2000.2,1118.0 L2001.7,1117.9 L2003.2,1117.9 L2004.7,1117.9 L2006.3,1117.9 L2007.8,1117.8 L2009.3,1117.8 L2010.8,1117.8 L2012.3,1117.8 L2013.9,1117.8 L2015.4,1117.8 L2016.9,1117.7 L2018.4,1117.7 L2019.9,1117.7 L2021.4,1117.7 L2023.0,1117.7 L2024.5,1117.7 L2026.0,1117.7 L2027.5,1117.7 L2029.0,1117.7 L2030.5,1117.7 L2032.1,1117.7 L2033.6,1117.7 L2035.1,1117.8 L2036.6,1117.9 L2038.1,1118.0 L2039.7,1118.0 L2041.2,1118.1 L2042.7,1118.3 L2044.2,1118.4 L2045.7,1118.5 L2047.2,1118.7 L2048.8,1118.8 L2050.3,1119.0 L2051.8,1119.1 L2053.3,1119.3 L2054.8,1119.4 L2056.3,1119.6 L2057.9,1119.8 L2059.4,1119.9 L2060.9,1120.1 L2062.4,1120.2 L2063.9,1120.4 L2065.5,1120.5 L2067.0,1120.7 L2068.5,1120.8 L2070.0,1121.0 L2071.5,1121.1 L2073.0,1121.3 L2074.6,1121.4 L2076.1,1121.6 L2077.6,1121.7 L2079.1,1121.8 L2080.6,1122.0 L2082.1,1122.1 L2083.7,1122.3 L2085.2,1122.4 L2086.7,1122.6 L2088.2,1122.7 L2089.7,1122.9 L2091.3,1123.1 L2092.8,1123.2 L2094.3,1123.4 L2095.8,1123.5 L2097.3,1123.7 L2098.8,1123.8 L2100.4,1124.0 L2101.9,1124.2 L2103.4,1124.3 L2104.9,1124.5 L2106.4,1124.7 L2107.9,1124.8 L2109.5,1125.0 L2111.0,1125.2 L2112.5,1125.3 L2114.0,1125.5 L2115.5,1125.7 L2117.1,1125.9 L2118.6,1126.0 L2120.1,1126.2 L2121.6,1126.4 L2123.1,1126.6 L2124.6,1126.8 L2126.2,1126.9 L2127.7,1127.1 L2129.2,1127.3 L2130.7,1127.5 L2132.2,1127.7 L2133.8,1127.9 L2135.3,1128.1 L2136.8,1128.2 L2138.3,1128.4 L2139.8,1128.6 L2141.3,1128.8 L2142.9,1129.0 L2144.4,1129.2 L2145.9,1129.4 L2147.4,1129.6 L2148.9,1129.8 L2150.4,1130.0 L2152.0,1130.2 L2153.5,1130.4 L2155.0,1130.6" stroke="#ff00ff" stroke-width="6.4" fill="none" stroke-dasharray="72.5 21"/>
<path d="M273.0,993.3 L274.5,993.3 L276.0,993.3 L277.6,993.3 L279.1,993.3 L280.6,993.3 L282.1,993.3 L283.6,993.4 L285.1,993.4 L286.7,993.4 L288.2,993.5 L289.7,993.5 L291.2,993.6 L292.7,993.6 L294.2,993.7 L295.8,993.7 L297.3,993.8 L298.8,993.8 L300.3,993.9 L301.8,994.0 L303.4,994.0 L304.9,994.1 L306.4,994.2 L307.9,994.3 L309.4,994.3 L310.9,994.4 L312.5,994.5 L314.0,994.6 L315.5,994.7 L317.0,994.8 L318.5,994.8 L320.1,994.9 L321.6,995.0 L323.1,995.1 L324.6,995.2 L326.1,995.3 L327.6,995.4 L329.2,995.5 L330.7,995.6 L332.2,995.7 L333.7,995.8 L335.2,995.9 L336.7,996.1 L338.3,996.2 L339.8,996.4 L341.3,996.6 L342.8,996.8 L344.3,997.0 L345.9,997.2 L347.4,997.4 L348.9,997.6 L350.4,997.9 L351.9,998.1 L353.4,998.4 L355.0,998.6 L356.5,998.9 L358.0,999.1 L359.5,999.4 L361.0,999.6 L362.5,999.9 L364.1,1000.2 L365.6,1000.4 L367.1,1000.7 L368.6,1000.9 L370.1,1001.2 L371.7,1001.4 L373.2,1001.7 L374.7,1001.9 L376.2,1002.1 L377.7,1002.3 L379.2,1002.5 L380.8,1002.7 L382.3,1002.9 L383.8,1003.1 L385.3,1003.3 L386.8,1003.4 L388.3,1003.5 L389.9,1003.7 L391.4,1003.8 L392.9,1003.8 L394.4,1003.9 L395.9,1004.0 L397.5,1004.0 L399.0,1004.1 L400.5,1004.1 L402.0,1004.2 L403.5,1004.3 L405.0,1004.3 L406.6,1004.4 L408.1,1004.4 L409.6,1004.5 L411.1,1004.5 L412.6,1004.6 L414.1,1004.6 L415.7,1004.7 L417.2,1004.7 L418.7,1004.8 L420.2,1004.8 L421.7,1004.8 L423.3,1004.9 L424.8,1004.9 L426.3,1005.0 L427.8,1005.0 L429.3,1005.0 L430.8,1005.1 L432.4,1005.1 L433.9,1005.1 L435.4,1005.2 L436.9,1005.2 L438.4,1005.2 L440.0,1005.2 L441.5,1005.2 L443.0,1005.3 L444.5,1005.3 L446.0,1005.3 L447.5,1005.3 L449.1,1005.3 L450.6,1005.3 L452.1,1005.3 L453.6,1005.3 L455.1,1005.4 L456.6,1005.4 L458.2,1005.3 L459.7,1005.3 L461.2,1005.3 L462.7,1005.2 L464.2,1005.2 L465.8,1005.1 L467.3,1005.0 L468.8,1004.9 L470.3,1004.8 L471.8,1004.7 L473.3,1004.6 L474.9,1004.4 L476.4,1004.3 L477.9,1004.2 L479.4,1004.0 L480.9,1003.9 L482.4,1003.7 L484.0,1003.6 L485.5,1003.4 L487.0,1003.3 L488.5,1003.1 L490.0,1003.0 L491.6,1002.8 L493.1,1002.7 L494.6,1002.5 L496.1,1002.4 L497.6,1002.2 L499.1,1002.1 L500.7,1002.0 L502.2,1001.9 L503.7,1001.8 L505.2,1001.7 L506.7,1001.6 L508.2,1001.5 L509.8,1001.4 L511.3,1001.4 L512.8,1001.4 L514.3,1001.3 L515.8,1001.3 L517.4,1001.3 L518.9,1001.3 L520.4,1001.3 L521.9,1001.4 L523.4,1001.4 L524.9,1001.4 L526.5,1001.4 L528.0,1001.5 L529.5,1001.5 L531.0,1001.6 L532.5,1001.6 L534.1,1001.7 L535.6,1001.7 L537.1,1001.8 L538.6,1001.8 L540.1,1001.9 L541.6,1002.0 L543.2,1002.1 L544.7,1002.1 L546.2,1002.2 L547.7,1002.3 L549.2,1002.4 L550.7,1002.5 L552.3,1002.6 L553.8,1002.7 L555.3,1002.8 L556.8,1002.9 L558.3,1003.0 L559.9,1003.1 L561.4,1003.2 L562.9,1003.3 L564.4,1003.4 L565.9,1003.5 L567.4,1003.6 L569.0,1003.8 L570.5,1003.9 L572.0,1004.0 L573.5,1004.1 L575.0,1004.2 L576.5,1004.4 L578.1,1004.5 L579.6,1004.6 L581.1,1004.7 L582.6,1004.8 L584.1,1005.0 L585.7,1005.1 L587.2,1005.2 L588.7,1005.4 L590.2,1005.5 L591.7,1005.6 L593.2,1005.8 L594.8,1005.9 L596.3,1006.1 L597.8,1006.3 L599.3,1006.5 L600.8,1006.7 L602.4,1006.9 L603.9,1007.1 L605.4,1007.4 L606.9,1007.6 L608.4,1007.8 L609.9,1008.1 L611.5,1008.3 L613.0,1008.5 L614.5,1008.8 L616.0,1009.0 L617.5,1009.3 L619.0,1009.6 L620.6,1009.8 L622.1,1010.1 L623.6,1010.3 L625.1,1010.6 L626.6,1010.8 L628.2,1011.1 L629.7,1011.4 L631.2,1011.6 L632.7,1011.8 L634.2,1012.1 L635.7,1012.3 L637.3,1012.6 L638.8,1012.8 L640.3,1013.0 L641.8,1013.2 L643.3,1013.4 L644.8,1013.7 L646.4,1013.9 L647.9,1014.1 L649.4,1014.3 L650.9,1014.5 L652.4,1014.7 L654.0,1015.0 L655.5,1015.2 L657.0,1015.4 L658.5,1015.6 L660.0,1015.8 L661.5,1016.0 L663.1,1016.2 L664.6,1016.4 L666.1,1016.7 L667.6,1016.9 L669.1,1017.1 L670.6,1017.3 L672.2,1017.5 L673.7,1017.7 L675.2,1018.0 L676.7,1018.2 L678.2,1018.4 L679.8,1018.7 L681.3,1018.9 L682.8,1019.1 L684.3,1019.4 L685.8,1019.6 L687.3,1019.9 L688.9,1020.1 L690.4,1020.4 L691.9,1020.7 L693.4,1020.9 L694.9,1021.2 L696.5,1021.5 L698.0,1021.8 L699.5,1022.1 L701.0,1022.4 L702.5,1022.7 L704.0,1023.0 L705.6,1023.3 L707.1,1023.6 L708.6,1024.0 L710.1,1024.3 L711.6,1024.7 L713.1,1025.1 L714.7,1025.4 L716.2,1025.8 L717.7,1026.2 L719.2,1026.6 L720.7,1027.0 L722.3,1027.4 L723.8,1027.8 L725.3,1028.2 L726.8,1028.6 L728.3,1029.0 L729.8,1029.4 L731.4,1029.8 L732.9,1030.2 L734.4,1030.6 L735.9,1031.0 L737.4,1031.4 L738.9,1031.8 L740.5,1032.3 L742.0,1032.7 L743.5,1033.2 L745.0,1033.6 L746.5,1034.1 L748.1,1034.6 L749.6,1035.1 L751.1,1035.6 L752.6,1036.1 L754.1,1036.6 L755.6,1037.1 L757.2,1037.5 L758.7,1038.0 L760.2,1038.5 L761.7,1039.0 L763.2,1039.4 L764.7,1039.8 L766.3,1040.2 L767.8,1040.6 L769.3,1041.0 L770.8,1041.3 L772.3,1041.6 L773.9,1041.9 L775.4,1042.2 L776.9,1042.5 L778.4,1042.8 L779.9,1043.0 L781.4,1043.3 L783.0,1043.5 L784.5,1043.8 L786.0,1044.0 L787.5,1044.3 L789.0,1044.5 L790.6,1044.7 L792.1,1044.9 L793.6,1045.1 L795.1,1045.3 L796.6,1045.5 L798.1,1045.7 L799.7,1045.9 L801.2,1046.0 L802.7,1046.2 L804.2,1046.4 L805.7,1046.5 L807.2,1046.7 L808.8,1046.8 L810.3,1047.0 L811.8,1047.1 L813.3,1047.2 L814.8,1047.4 L816.4,1047.5 L817.9,1047.6 L819.4,1047.7 L820.9,1047.8 L822.4,1047.9 L823.9,1048.1 L825.5,1048.2 L827.0,1048.3 L828.5,1048.4 L830.0,1048.5 L831.5,1048.6 L833.0,1048.7 L834.6,1048.8 L836.1,1048.9 L837.6,1049.0 L839.1,1049.1 L840.6,1049.2 L842.2,1049.3 L843.7,1049.4 L845.2,1049.5 L846.7,1049.6 L848.2,1049.8 L849.7,1049.9 L851.3,1050.0 L852.8,1050.1 L854.3,1050.3 L855.8,1050.4 L857.3,1050.6 L858.8,1050.7 L860.4,1050.9 L861.9,1051.1 L863.4,1051.3 L864.9,1051.5 L866.4,1051.7 L868.0,1051.9 L869.5,1052.1 L871.0,1052.3 L872.5,1052.5 L874.0,1052.7 L875.5,1052.9 L877.1,1053.1 L878.6,1053.3 L880.1,1053.5 L881.6,1053.7 L883.1,1054.0 L884.6,1054.2 L886.2,1054.4 L887.7,1054.5 L889.2,1054.7 L890.7,1054.9 L892.2,1055.1 L893.8,1055.2 L895.3,1055.4 L896.8,1055.6 L898.3,1055.7 L899.8,1055.8 L901.3,1055.9 L902.9,1056.0 L904.4,1056.1 L905.9,1056.2 L907.4,1056.3 L908.9,1056.4 L910.5,1056.5 L912.0,1056.6 L913.5,1056.7 L915.0,1056.8 L916.5,1056.9 L918.0,1057.0 L919.6,1057.1 L921.1,1057.1 L922.6,1057.2 L924.1,1057.3 L925.6,1057.4 L927.1,1057.5 L928.7,1057.6 L930.2,1057.6 L931.7,1057.7 L933.2,1057.8 L934.7,1057.9 L936.3,1057.9 L937.8,1058.0 L939.3,1058.1 L940.8,1058.2 L942.3,1058.2 L943.8,1058.3 L945.4,1058.4 L946.9,1058.4 L948.4,1058.5 L949.9,1058.6 L951.4,1058.6 L952.9,1058.7 L954.5,1058.7 L956.0,1058.8 L957.5,1058.9 L959.0,1058.9 L960.5,1059.0 L962.1,1059.0 L963.6,1059.1 L965.1,1059.1 L966.6,1059.2 L968.1,1059.2 L969.6,1059.3 L971.2,1059.3 L972.7,1059.4 L974.2,1059.4 L975.7,1059.5 L977.2,1059.5 L978.8,1059.6 L980.3,1059.6 L981.8,1059.7 L983.3,1059.7 L984.8,1059.7 L986.3,1059.8 L987.9,1059.8 L989.4,1059.8 L990.9,1059.9 L992.4,1059.9 L993.9,1059.9 L995.4,1060.0 L997.0,1060.0 L998.5,1060.0 L1000.0,1060.1 L1001.5,1060.1 L1003.0,1060.1 L1004.6,1060.2 L1006.1,1060.2 L1007.6,1060.2 L1009.1,1060.2 L1010.6,1060.3 L1012.1,1060.3 L1013.7,1060.3 L1015.2,1060.4 L1016.7,1060.4 L1018.2,1060.4 L1019.7,1060.4 L1021.2,1060.5 L1022.8,1060.5 L1024.3,1060.5 L1025.8,1060.5 L1027.3,1060.6 L1028.8,1060.6 L1030.4,1060.6 L1031.9,1060.6 L1033.4,1060.7 L1034.9,1060.7 L1036.4,1060.7 L1037.9,1060.7 L1039.5,1060.7 L1041.0,1060.8 L1042.5,1060.8 L1044.0,1060.8 L1045.5,1060.8 L1047.0,1060.8 L1048.6,1060.8 L1050.1,1060.9 L1051.6,1060.9 L1053.1,1060.9 L1054.6,1060.9 L1056.2,1060.9 L1057.7,1060.9 L1059.2,1060.9 L1060.7,1060.9 L1062.2,1060.9 L1063.7,1060.9 L1065.3,1060.9 L1066.8,1060.9 L1068.3,1060.9 L1069.8,1060.9 L1071.3,1060.9 L1072.8,1060.9 L1074.4,1060.8 L1075.9,1060.8 L1077.4,1060.7 L1078.9,1060.6 L1080.4,1060.5 L1082.0,1060.4 L1083.5,1060.3 L1085.0,1060.2 L1086.5,1060.1 L1088.0,1060.0 L1089.5,1059.9 L1091.1,1059.7 L1092.6,1059.6 L1094.1,1059.5 L1095.6,1059.3 L1097.1,1059.2 L1098.7,1059.1 L1100.2,1058.9 L1101.7,1058.8 L1103.2,1058.7 L1104.7,1058.5 L1106.2,1058.4 L1107.8,1058.3 L1109.3,1058.2 L1110.8,1058.1 L1112.3,1058.0 L1113.8,1057.9 L1115.3,1057.8 L1116.9,1057.7 L1118.4,1057.6 L1119.9,1057.6 L1121.4,1057.5 L1122.9,1057.5 L1124.5,1057.5 L1126.0,1057.5 L1127.5,1057.5 L1129.0,1057.6 L1130.5,1057.7 L1132.0,1057.9 L1133.6,1058.1 L1135.1,1058.4 L1136.6,1058.6 L1138.1,1059.0 L1139.6,1059.3 L1141.1,1059.7 L1142.7,1060.0 L1144.2,1060.4 L1145.7,1060.8 L1147.2,1061.3 L1148.7,1061.7 L1150.3,1062.1 L1151.8,1062.5 L1153.3,1062.9 L1154.8,1063.3 L1156.3,1063.7 L1157.8,1064.0 L1159.4,1064.4 L1160.9,1064.7 L1162.4,1065.0 L1163.9,1065.3 L1165.4,1065.6 L1167.0,1066.0 L1168.5,1066.3 L1170.0,1066.7 L1171.5,1067.1 L1173.0,1067.4 L1174.5,1067.8 L1176.1,1068.2 L1177.6,1068.5 L1179.1,1068.8 L1180.6,1069.2 L1182.1,1069.5 L1183.6,1069.7 L1185.2,1070.0 L1186.7,1070.2 L1188.2,1070.4 L1189.7,1070.5 L1191.2,1070.6 L1192.8,1070.7 L1194.3,1070.7 L1195.8,1070.7 L1197.3,1070.7 L1198.8,1070.7 L1200.3,1070.6 L1201.9,1070.6 L1203.4,1070.5 L1204.9,1070.4 L1206.4,1070.3 L1207.9,1070.2 L1209.4,1070.1 L1211.0,1070.1 L1212.5,1070.0 L1214.0,1069.9 L1215.5,1069.8 L1217.0,1069.6 L1218.6,1069.5 L1220.1,1069.4 L1221.6,1069.2 L1223.1,1069.0 L1224.6,1068.9 L1226.1,1068.7 L1227.7,1068.5 L1229.2,1068.3 L1230.7,1068.1 L1232.2,1067.9 L1233.7,1067.7 L1235.2,1067.4 L1236.8,1067.2 L1238.3,1067.0 L1239.8,1066.8 L1241.3,1066.6 L1242.8,1066.3 L1244.4,1066.1 L1245.9,1065.9 L1247.4,1065.6 L1248.9,1065.3 L1250.4,1065.0 L1251.9,1064.7 L1253.5,1064.4 L1255.0,1064.1 L1256.5,1063.8 L1258.0,1063.6 L1259.5,1063.4 L1261.1,1063.3 L1262.6,1063.2 L1264.1,1063.3 L1265.6,1063.3 L1267.1,1063.4 L1268.6,1063.6 L1270.2,1063.7 L1271.7,1063.9 L1273.2,1064.2 L1274.7,1064.4 L1276.2,1064.7 L1277.7,1065.0 L1279.3,1065.3 L1280.8,1065.7 L1282.3,1066.0 L1283.8,1066.4 L1285.3,1066.8 L1286.9,1067.2 L1288.4,1067.5 L1289.9,1067.9 L1291.4,1068.3 L1292.9,1068.7 L1294.4,1069.1 L1296.0,1069.4 L1297.5,1069.8 L1299.0,1070.1 L1300.5,1070.4 L1302.0,1070.7 L1303.5,1071.0 L1305.1,1071.3 L1306.6,1071.6 L1308.1,1071.9 L1309.6,1072.3 L1311.1,1072.6 L1312.7,1072.9 L1314.2,1073.2 L1315.7,1073.6 L1317.2,1073.9 L1318.7,1074.2 L1320.2,1074.5 L1321.8,1074.9 L1323.3,1075.2 L1324.8,1075.5 L1326.3,1075.8 L1327.8,1076.2 L1329.3,1076.5 L1330.9,1076.8 L1332.4,1077.1 L1333.9,1077.4 L1335.4,1077.7 L1336.9,1078.0 L1338.5,1078.3 L1340.0,1078.6 L1341.5,1078.8 L1343.0,1079.1 L1344.5,1079.3 L1346.0,1079.6 L1347.6,1079.8 L1349.1,1080.0 L1350.6,1080.2 L1352.1,1080.4 L1353.6,1080.6 L1355.2,1080.9 L1356.7,1081.1 L1358.2,1081.3 L1359.7,1081.5 L1361.2,1081.7 L1362.7,1081.9 L1364.3,1082.1 L1365.8,1082.3 L1367.3,1082.5 L1368.8,1082.7 L1370.3,1082.9 L1371.8,1083.1 L1373.4,1083.3 L1374.9,1083.5 L1376.4,1083.7 L1377.9,1083.8 L1379.4,1084.0 L1381.0,1084.1 L1382.5,1084.3 L1384.0,1084.4 L1385.5,1084.6 L1387.0,1084.7 L1388.5,1084.8 L1390.1,1084.9 L1391.6,1084.9 L1393.1,1085.0 L1394.6,1085.1 L1396.1,1085.1 L1397.6,1085.1 L1399.2,1085.1 L1400.7,1085.1 L1402.2,1085.1 L1403.7,1085.1 L1405.2,1085.1 L1406.8,1085.0 L1408.3,1085.0 L1409.8,1085.0 L1411.3,1084.9 L1412.8,1084.9 L1414.3,1084.8 L1415.9,1084.7 L1417.4,1084.7 L1418.9,1084.6 L1420.4,1084.5 L1421.9,1084.4 L1423.4,1084.3 L1425.0,1084.3 L1426.5,1084.2 L1428.0,1084.1 L1429.5,1084.0 L1431.0,1083.9 L1432.6,1083.8 L1434.1,1083.7 L1435.6,1083.6 L1437.1,1083.5 L1438.6,1083.4 L1440.1,1083.3 L1441.7,1083.2 L1443.2,1083.1 L1444.7,1083.0 L1446.2,1082.9 L1447.7,1082.8 L1449.2,1082.7 L1450.8,1082.6 L1452.3,1082.5 L1453.8,1082.4 L1455.3,1082.2 L1456.8,1082.1 L1458.4,1082.0 L1459.9,1081.8 L1461.4,1081.6 L1462.9,1081.5 L1464.4,1081.3 L1465.9,1081.2 L1467.5,1081.0 L1469.0,1080.8 L1470.5,1080.6 L1472.0,1080.5 L1473.5,1080.3 L1475.1,1080.1 L1476.6,1079.9 L1478.1,1079.8 L1479.6,1079.6 L1481.1,1079.4 L1482.6,1079.3 L1484.2,1079.1 L1485.7,1079.0 L1487.2,1078.8 L1488.7,1078.7 L1490.2,1078.6 L1491.7,1078.5 L1493.3,1078.4 L1494.8,1078.3 L1496.3,1078.2 L1497.8,1078.1 L1499.3,1078.0 L1500.9,1078.0 L1502.4,1078.0 L1503.9,1077.9 L1505.4,1077.9 L1506.9,1077.9 L1508.4,1078.0 L1510.0,1078.0 L1511.5,1078.1 L1513.0,1078.2 L1514.5,1078.3 L1516.0,1078.4 L1517.5,1078.6 L1519.1,1078.7 L1520.6,1078.9 L1522.1,1079.1 L1523.6,1079.3 L1525.1,1079.5 L1526.7,1079.7 L1528.2,1079.9 L1529.7,1080.1 L1531.2,1080.3 L1532.7,1080.6 L1534.2,1080.8 L1535.8,1081.1 L1537.3,1081.3 L1538.8,1081.5 L1540.3,1081.8 L1541.8,1082.0 L1543.4,1082.3 L1544.9,1082.5 L1546.4,1082.8 L1547.9,1083.0 L1549.4,1083.2 L1550.9,1083.4 L1552.5,1083.6 L1554.0,1083.8 L1555.5,1084.0 L1557.0,1084.2 L1558.5,1084.4 L1560.0,1084.5 L1561.6,1084.7 L1563.1,1084.8 L1564.6,1084.9 L1566.1,1085.0 L1567.6,1085.1 L1569.2,1085.1 L1570.7,1085.2 L1572.2,1085.2 L1573.7,1085.2 L1575.2,1085.3 L1576.7,1085.3 L1578.3,1085.4 L1579.8,1085.4 L1581.3,1085.4 L1582.8,1085.4 L1584.3,1085.5 L1585.8,1085.5 L1587.4,1085.5 L1588.9,1085.5 L1590.4,1085.6 L1591.9,1085.6 L1593.4,1085.6 L1595.0,1085.6 L1596.5,1085.6 L1598.0,1085.7 L1599.5,1085.7 L1601.0,1085.7 L1602.5,1085.7 L1604.1,1085.7 L1605.6,1085.7 L1607.1,1085.8 L1608.6,1085.8 L1610.1,1085.8 L1611.6,1085.8 L1613.2,1085.8 L1614.7,1085.8 L1616.2,1085.9 L1617.7,1085.9 L1619.2,1085.9 L1620.8,1085.9 L1622.3,1085.9 L1623.8,1086.0 L1625.3,1086.0 L1626.8,1086.0 L1628.3,1086.0 L1629.9,1086.0 L1631.4,1086.1 L1632.9,1086.1 L1634.4,1086.1 L1635.9,1086.1 L1637.5,1086.2 L1639.0,1086.2 L1640.5,1086.2 L1642.0,1086.3 L1643.5,1086.3 L1645.0,1086.4 L1646.6,1086.4 L1648.1,1086.4 L1649.6,1086.5 L1651.1,1086.5 L1652.6,1086.6 L1654.1,1086.6 L1655.7,1086.7 L1657.2,1086.7 L1658.7,1086.8 L1660.2,1086.8 L1661.7,1086.9 L1663.3,1086.9 L1664.8,1087.0 L1666.3,1087.0 L1667.8,1087.1 L1669.3,1087.1 L1670.8,1087.2 L1672.4,1087.3 L1673.9,1087.3 L1675.4,1087.4 L1676.9,1087.5 L1678.4,1087.5 L1679.9,1087.6 L1681.5,1087.7 L1683.0,1087.7 L1684.5,1087.8 L1686.0,1087.9 L1687.5,1088.0 L1689.1,1088.1 L1690.6,1088.1 L1692.1,1088.2 L1693.6,1088.3 L1695.1,1088.4 L1696.6,1088.5 L1698.2,1088.6 L1699.7,1088.7 L1701.2,1088.8 L1702.7,1088.8 L1704.2,1088.9 L1705.7,1089.0 L1707.3,1089.1 L1708.8,1089.2 L1710.3,1089.4 L1711.8,1089.5 L1713.3,1089.6 L1714.9,1089.7 L1716.4,1089.8 L1717.9,1089.9 L1719.4,1090.0 L1720.9,1090.2 L1722.4,1090.3 L1724.0,1090.5 L1725.5,1090.6 L1727.0,1090.8 L1728.5,1091.0 L1730.0,1091.2 L1731.6,1091.5 L1733.1,1091.7 L1734.6,1092.0 L1736.1,1092.2 L1737.6,1092.5 L1739.1,1092.8 L1740.7,1093.1 L1742.2,1093.4 L1743.7,1093.7 L1745.2,1094.0 L1746.7,1094.3 L1748.2,1094.6 L1749.8,1094.9 L1751.3,1095.3 L1752.8,1095.6 L1754.3,1095.9 L1755.8,1096.3 L1757.4,1096.6 L1758.9,1096.9 L1760.4,1097.3 L1761.9,1097.6 L1763.4,1097.9 L1764.9,1098.3 L1766.5,1098.6 L1768.0,1098.9 L1769.5,1099.2 L1771.0,1099.5 L1772.5,1099.8 L1774.0,1100.1 L1775.6,1100.4 L1777.1,1100.7 L1778.6,1101.0 L1780.1,1101.2 L1781.6,1101.5 L1783.2,1101.7 L1784.7,1101.9 L1786.2,1102.1 L1787.7,1102.3 L1789.2,1102.5 L1790.7,1102.7 L1792.3,1102.9 L1793.8,1103.1 L1795.3,1103.3 L1796.8,1103.5 L1798.3,1103.7 L1799.8,1103.9 L1801.4,1104.1 L1802.9,1104.3 L1804.4,1104.5 L1805.9,1104.7 L1807.4,1104.9 L1809.0,1105.1 L1810.5,1105.3 L1812.0,1105.5 L1813.5,1105.7 L1815.0,1105.9 L1816.5,1106.0 L1818.1,1106.2 L1819.6,1106.4 L1821.1,1106.6 L1822.6,1106.7 L1824.1,1106.9 L1825.7,1107.1 L1827.2,1107.2 L1828.7,1107.4 L1830.2,1107.5 L1831.7,1107.7 L1833.2,1107.8 L1834.8,1108.0 L1836.3,1108.1 L1837.8,1108.2 L1839.3,1108.4 L1840.8,1108.5 L1842.3,1108.6 L1843.9,1108.7 L1845.4,1108.8 L1846.9,1108.9 L1848.4,1109.0 L1849.9,1109.1 L1851.5,1109.2 L1853.0,1109.3 L1854.5,1109.3 L1856.0,1109.4 L1857.5,1109.4 L1859.0,1109.5 L1860.6,1109.5 L1862.1,1109.6 L1863.6,1109.6 L1865.1,1109.7 L1866.6,1109.7 L1868.1,1109.8 L1869.7,1109.8 L1871.2,1109.8 L1872.7,1109.9 L1874.2,1109.9 L1875.7,1109.9 L1877.3,1109.9 L1878.8,1110.0 L1880.3,1110.0 L1881.8,1110.1 L1883.3,1110.1 L1884.8,1110.1 L1886.4,1110.2 L1887.9,1110.2 L1889.4,1110.3 L1890.9,1110.3 L1892.4,1110.4 L1893.9,1110.5 L1895.5,1110.6 L1897.0,1110.7 L1898.5,1110.8 L1900.0,1110.9 L1901.5,1111.1 L1903.1,1111.3 L1904.6,1111.5 L1906.1,1111.7 L1907.6,1111.9 L1909.1,1112.2 L1910.6,1112.4 L1912.2,1112.7 L1913.7,1113.0 L1915.2,1113.2 L1916.7,1113.5 L1918.2,1113.8 L1919.8,1114.1 L1921.3,1114.4 L1922.8,1114.7 L1924.3,1115.0 L1925.8,1115.3 L1927.3,1115.6 L1928.9,1115.9 L1930.4,1116.2 L1931.9,1116.5 L1933.4,1116.7 L1934.9,1117.0 L1936.4,1117.3 L1938.0,1117.5 L1939.5,1117.7 L1941.0,1117.9 L1942.5,1118.2 L1944.0,1118.3 L1945.6,1118.5 L1947.1,1118.7 L1948.6,1118.8 L1950.1,1118.9 L1951.6,1119.0 L1953.1,1119.1 L1954.7,1119.1 L1956.2,1119.1 L1957.7,1119.1 L1959.2,1119.1 L1960.7,1119.1 L1962.2,1119.1 L1963.8,1119.1 L1965.3,1119.1 L1966.8,1119.1 L1968.3,1119.0 L1969.8,1119.0 L1971.4,1119.0 L1972.9,1119.0 L1974.4,1119.0 L1975.9,1119.0 L1977.4,1118.9 L1978.9,1118.9 L1980.5,1118.9 L1982.0,1118.9 L1983.5,1118.8 L1985.0,1118.8 L1986.5,1118.8 L1988.0,1118.8 L1989.6,1118.7 L1991.1,1118.7 L1992.6,1118.7 L1994.1,1118.7 L1995.6,1118.6 L1997.2,1118.6 L1998.7,1118.6 L2000.2,1118.5 L2001.7,1118.5 L2003.2,1118.5 L2004.7,1118.5 L2006.3,1118.4 L2007.8,1118.4 L2009.3,1118.4 L2010.8,1118.4 L2012.3,1118.4 L2013.9,1118.3 L2015.4,1118.3 L2016.9,1118.3 L2018.4,1118.3 L2019.9,1118.3 L2021.4,1118.3 L2023.0,1118.3 L2024.5,1118.3 L2026.0,1118.3 L2027.5,1118.2 L2029.0,1118.2 L2030.5,1118.3 L2032.1,1118.3 L2033.6,1118.3 L2035.1,1118.4 L2036.6,1118.4 L2038.1,1118.5 L2039.7,1118.6 L2041.2,1118.7 L2042.7,1118.8 L2044.2,1119.0 L2045.7,1119.1 L2047.2,1119.2 L2048.8,1119.4 L2050.3,1119.5 L2051.8,1119.7 L2053.3,1119.8 L2054.8,1120.0 L2056.3,1120.2 L2057.9,1120.3 L2059.4,1120.5 L2060.9,1120.7 L2062.4,1120.8 L2063.9,1121.0 L2065.5,1121.1 L2067.0,1121.3 L2068.5,1121.4 L2070.0,1121.6 L2071.5,1121.7 L2073.0,1121.8 L2074.6,1122.0 L2076.1,1122.1 L2077.6,1122.3 L2079.1,1122.4 L2080.6,1122.6 L2082.1,1122.7 L2083.7,1122.9 L2085.2,1123.0 L2086.7,1123.2 L2088.2,1123.3 L2089.7,1123.5 L2091.3,1123.6 L2092.8,1123.8 L2094.3,1123.9 L2095.8,1124.1 L2097.3,1124.3 L2098.8,1124.4 L2100.4,1124.6 L2101.9,1124.7 L2103.4,1124.9 L2104.9,1125.1 L2106.4,1125.2 L2107.9,1125.4 L2109.5,1125.6 L2111.0,1125.8 L2112.5,1125.9 L2114.0,1126.1 L2115.5,1126.3 L2117.1,1126.4 L2118.6,1126.6 L2120.1,1126.8 L2121.6,1127.0 L2123.1,1127.2 L2124.6,1127.3 L2126.2,1127.5 L2127.7,1127.7 L2129.2,1127.9 L2130.7,1128.1 L2132.2,1128.3 L2133.8,1128.4 L2135.3,1128.6 L2136.8,1128.8 L2138.3,1129.0 L2139.8,1129.2 L2141.3,1129.4 L2142.9,1129.6 L2144.4,1129.8 L2145.9,1130.0 L2147.4,1130.2 L2148.9,1130.4 L2150.4,1130.6 L2152.0,1130.8 L2153.5,1131.0 L2155.0,1131.2" stroke="#00ff00" stroke-width="6.6" fill="none"/>
<path d="M273.0,1001.9 L274.5,1002.0 L276.0,1002.2 L277.6,1002.3 L279.1,1002.5 L280.6,1002.6 L282.1,1002.8 L283.6,1002.9 L285.1,1003.1 L286.7,1003.2 L288.2,1003.4 L289.7,1003.5 L291.2,1003.7 L292.7,1003.8 L294.2,1004.0 L295.8,1004.1 L297.3,1004.3 L298.8,1004.4 L300.3,1004.6 L301.8,1004.7 L303.4,1004.9 L304.9,1005.0 L306.4,1005.2 L307.9,1005.3 L309.4,1005.5 L310.9,1005.6 L312.5,1005.8 L314.0,1005.9 L315.5,1006.1 L317.0,1006.2 L318.5,1006.4 L320.1,1006.5 L321.6,1006.7 L323.1,1006.8 L324.6,1007.0 L326.1,1007.1 L327.6,1007.3 L329.2,1007.4 L330.7,1007.6 L332.2,1007.7 L333.7,1007.9 L335.2,1008.0 L336.7,1008.1 L338.3,1008.3 L339.8,1008.4 L341.3,1008.6 L342.8,1008.7 L344.3,1008.9 L345.9,1009.0 L347.4,1009.2 L348.9,1009.3 L350.4,1009.5 L351.9,1009.6 L353.4,1009.8 L355.0,1009.9 L356.5,1010.0 L358.0,1010.2 L359.5,1010.3 L361.0,1010.5 L362.5,1010.6 L364.1,1010.8 L365.6,1010.9 L367.1,1011.1 L368.6,1011.2 L370.1,1011.4 L371.7,1011.5 L373.2,1011.6 L374.7,1011.8 L376.2,1011.9 L377.7,1012.1 L379.2,1012.2 L380.8,1012.4 L382.3,1012.5 L383.8,1012.7 L385.3,1012.8 L386.8,1012.9 L388.3,1013.1 L389.9,1013.2 L391.4,1013.4 L392.9,1013.5 L394.4,1013.7 L395.9,1013.8 L397.5,1013.9 L399.0,1014.1 L400.5,1014.2 L402.0,1014.4 L403.5,1014.5 L405.0,1014.7 L406.6,1014.8 L408.1,1014.9 L409.6,1015.1 L411.1,1015.2 L412.6,1015.4 L414.1,1015.5 L415.7,1015.7 L417.2,1015.8 L418.7,1015.9 L420.2,1016.1 L421.7,1016.2 L423.3,1016.4 L424.8,1016.5 L426.3,1016.6 L427.8,1016.8 L429.3,1016.9 L430.8,1017.1 L432.4,1017.2 L433.9,1017.4 L435.4,1017.5 L436.9,1017.6 L438.4,1017.8 L440.0,1017.9 L441.5,1018.1 L443.0,1018.2 L444.5,1018.3 L446.0,1018.5 L447.5,1018.6 L449.1,1018.8 L450.6,1018.9 L452.1,1019.0 L453.6,1019.2 L455.1,1019.3 L456.6,1019.5 L458.2,1019.6 L459.7,1019.7 L461.2,1019.9 L462.7,1020.0 L464.2,1020.2 L465.8,1020.3 L467.3,1020.4 L468.8,1020.6 L470.3,1020.7 L471.8,1020.8 L473.3,1021.0 L474.9,1021.1 L476.4,1021.3 L477.9,1021.4 L479.4,1021.5 L480.9,1021.7 L482.4,1021.8 L484.0,1022.0 L485.5,1022.1 L487.0,1022.2 L488.5,1022.4 L490.0,1022.5 L491.6,1022.6 L493.1,1022.8 L494.6,1022.9 L496.1,1023.1 L497.6,1023.2 L499.1,1023.3 L500.7,1023.5 L502.2,1023.6 L503.7,1023.7 L505.2,1023.9 L506.7,1024.0 L508.2,1024.2 L509.8,1024.3 L511.3,1024.4 L512.8,1024.6 L514.3,1024.7 L515.8,1024.8 L517.4,1025.0 L518.9,1025.1 L520.4,1025.2 L521.9,1025.4 L523.4,1025.5 L524.9,1025.7 L526.5,1025.8 L528.0,1025.9 L529.5,1026.1 L531.0,1026.2 L532.5,1026.3 L534.1,1026.5 L535.6,1026.6 L537.1,1026.7 L538.6,1026.9 L540.1,1027.0 L541.6,1027.1 L543.2,1027.3 L544.7,1027.4 L546.2,1027.5 L547.7,1027.7 L549.2,1027.8 L550.7,1027.9 L552.3,1028.1 L553.8,1028.2 L555.3,1028.4 L556.8,1028.5 L558.3,1028.6 L559.9,1028.8 L561.4,1028.9 L562.9,1029.0 L564.4,1029.2 L565.9,1029.3 L567.4,1029.4 L569.0,1029.6 L570.5,1029.7 L572.0,1029.8 L573.5,1030.0 L575.0,1030.1 L576.5,1030.2 L578.1,1030.4 L579.6,1030.5 L581.1,1030.6 L582.6,1030.8 L584.1,1030.9 L585.7,1031.0 L587.2,1031.1 L588.7,1031.3 L590.2,1031.4 L591.7,1031.5 L593.2,1031.7 L594.8,1031.8 L596.3,1031.9 L597.8,1032.1 L599.3,1032.2 L600.8,1032.3 L602.4,1032.5 L603.9,1032.6 L605.4,1032.7 L606.9,1032.9 L608.4,1033.0 L609.9,1033.1 L611.5,1033.3 L613.0,1033.4 L614.5,1033.5 L616.0,1033.6 L617.5,1033.8 L619.0,1033.9 L620.6,1034.0 L622.1,1034.2 L623.6,1034.3 L625.1,1034.4 L626.6,1034.6 L628.2,1034.7 L629.7,1034.8 L631.2,1035.0 L632.7,1035.1 L634.2,1035.2 L635.7,1035.3 L637.3,1035.5 L638.8,1035.6 L640.3,1035.7 L641.8,1035.9 L643.3,1036.0 L644.8,1036.1 L646.4,1036.2 L647.9,1036.4 L649.4,1036.5 L650.9,1036.6 L652.4,1036.8 L654.0,1036.9 L655.5,1037.0 L657.0,1037.2 L658.5,1037.3 L660.0,1037.4 L661.5,1037.5 L663.1,1037.7 L664.6,1037.8 L666.1,1037.9 L667.6,1038.1 L669.1,1038.2 L670.6,1038.3 L672.2,1038.4 L673.7,1038.6 L675.2,1038.7 L676.7,1038.8 L678.2,1038.9 L679.8,1039.1 L681.3,1039.2 L682.8,1039.3 L684.3,1039.5 L685.8,1039.6 L687.3,1039.7 L688.9,1039.8 L690.4,1040.0 L691.9,1040.1 L693.4,1040.2 L694.9,1040.3 L696.5,1040.5 L698.0,1040.6 L699.5,1040.7 L701.0,1040.9 L702.5,1041.0 L704.0,1041.1 L705.6,1041.2 L707.1,1041.4 L708.6,1041.5 L710.1,1041.6 L711.6,1041.7 L713.1,1041.9 L714.7,1042.0 L716.2,1042.1 L717.7,1042.2 L719.2,1042.4 L720.7,1042.5 L722.3,1042.6 L723.8,1042.7 L725.3,1042.9 L726.8,1043.0 L728.3,1043.1 L729.8,1043.2 L731.4,1043.4 L732.9,1043.5 L734.4,1043.6 L735.9,1043.7 L737.4,1043.9 L738.9,1044.0 L740.5,1044.1 L742.0,1044.2 L743.5,1044.4 L745.0,1044.5 L746.5,1044.6 L748.1,1044.7 L749.6,1044.9 L751.1,1045.0 L752.6,1045.1 L754.1,1045.2 L755.6,1045.4 L757.2,1045.5 L758.7,1045.6 L760.2,1045.7 L761.7,1045.8 L763.2,1046.0 L764.7,1046.1 L766.3,1046.2 L767.8,1046.3 L769.3,1046.5 L770.8,1046.6 L772.3,1046.7 L773.9,1046.8 L775.4,1047.0 L776.9,1047.1 L778.4,1047.2 L779.9,1047.3 L781.4,1047.4 L783.0,1047.6 L784.5,1047.7 L786.0,1047.8 L787.5,1047.9 L789.0,1048.1 L790.6,1048.2 L792.1,1048.3 L793.6,1048.4 L795.1,1048.5 L796.6,1048.7 L798.1,1048.8 L799.7,1048.9 L801.2,1049.0 L802.7,1049.2 L804.2,1049.3 L805.7,1049.4 L807.2,1049.5 L808.8,1049.6 L810.3,1049.8 L811.8,1049.9 L813.3,1050.0 L814.8,1050.1 L816.4,1050.2 L817.9,1050.4 L819.4,1050.5 L820.9,1050.6 L822.4,1050.7 L823.9,1050.8 L825.5,1051.0 L827.0,1051.1 L828.5,1051.2 L830.0,1051.3 L831.5,1051.4 L833.0,1051.6 L834.6,1051.7 L836.1,1051.8 L837.6,1051.9 L839.1,1052.0 L840.6,1052.2 L842.2,1052.3 L843.7,1052.4 L845.2,1052.5 L846.7,1052.6 L848.2,1052.8 L849.7,1052.9 L851.3,1053.0 L852.8,1053.1 L854.3,1053.2 L855.8,1053.4 L857.3,1053.5 L858.8,1053.6 L860.4,1053.7 L861.9,1053.8 L863.4,1054.0 L864.9,1054.1 L866.4,1054.2 L868.0,1054.3 L869.5,1054.4 L871.0,1054.5 L872.5,1054.7 L874.0,1054.8 L875.5,1054.9 L877.1,1055.0 L878.6,1055.1 L880.1,1055.3 L881.6,1055.4 L883.1,1055.5 L884.6,1055.6 L886.2,1055.7 L887.7,1055.8 L889.2,1056.0 L890.7,1056.1 L892.2,1056.2 L893.8,1056.3 L895.3,1056.4 L896.8,1056.5 L898.3,1056.7 L899.8,1056.8 L901.3,1056.9 L902.9,1057.0 L904.4,1057.1 L905.9,1057.2 L907.4,1057.4 L908.9,1057.5 L910.5,1057.6 L912.0,1057.7 L913.5,1057.8 L915.0,1057.9 L916.5,1058.1 L918.0,1058.2 L919.6,1058.3 L921.1,1058.4 L922.6,1058.5 L924.1,1058.6 L925.6,1058.8 L927.1,1058.9 L928.7,1059.0 L930.2,1059.1 L931.7,1059.2 L933.2,1059.3 L934.7,1059.4 L936.3,1059.6 L937.8,1059.7 L939.3,1059.8 L940.8,1059.9 L942.3,1060.0 L943.8,1060.1 L945.4,1060.3 L946.9,1060.4 L948.4,1060.5 L949.9,1060.6 L951.4,1060.7 L952.9,1060.8 L954.5,1060.9 L956.0,1061.1 L957.5,1061.2 L959.0,1061.3 L960.5,1061.4 L962.1,1061.5 L963.6,1061.6 L965.1,1061.7 L966.6,1061.9 L968.1,1062.0 L969.6,1062.1 L971.2,1062.2 L972.7,1062.3 L974.2,1062.4 L975.7,1062.5 L977.2,1062.7 L978.8,1062.8 L980.3,1062.9 L981.8,1063.0 L983.3,1063.1 L984.8,1063.2 L986.3,1063.3 L987.9,1063.4 L989.4,1063.6 L990.9,1063.7 L992.4,1063.8 L993.9,1063.9 L995.4,1064.0 L997.0,1064.1 L998.5,1064.2 L1000.0,1064.3 L1001.5,1064.5 L1003.0,1064.6 L1004.6,1064.7 L1006.1,1064.8 L1007.6,1064.9 L1009.1,1065.0 L1010.6,1065.1 L1012.1,1065.2 L1013.7,1065.4 L1015.2,1065.5 L1016.7,1065.6 L1018.2,1065.7 L1019.7,1065.8 L1021.2,1065.9 L1022.8,1066.0 L1024.3,1066.1 L1025.8,1066.2 L1027.3,1066.4 L1028.8,1066.5 L1030.4,1066.6 L1031.9,1066.7 L1033.4,1066.8 L1034.9,1066.9 L1036.4,1067.0 L1037.9,1067.1 L1039.5,1067.2 L1041.0,1067.4 L1042.5,1067.5 L1044.0,1067.6 L1045.5,1067.7 L1047.0,1067.8 L1048.6,1067.9 L1050.1,1068.0 L1051.6,1068.1 L1053.1,1068.2 L1054.6,1068.4 L1056.2,1068.5 L1057.7,1068.6 L1059.2,1068.7 L1060.7,1068.8 L1062.2,1068.9 L1063.7,1069.0 L1065.3,1069.1 L1066.8,1069.2 L1068.3,1069.3 L1069.8,1069.5 L1071.3,1069.6 L1072.8,1069.7 L1074.4,1069.8 L1075.9,1069.9 L1077.4,1070.0 L1078.9,1070.1 L1080.4,1070.2 L1082.0,1070.3 L1083.5,1070.4 L1085.0,1070.5 L1086.5,1070.7 L1088.0,1070.8 L1089.5,1070.9 L1091.1,1071.0 L1092.6,1071.1 L1094.1,1071.2 L1095.6,1071.3 L1097.1,1071.4 L1098.7,1071.5 L1100.2,1071.6 L1101.7,1071.7 L1103.2,1071.8 L1104.7,1072.0 L1106.2,1072.1 L1107.8,1072.2 L1109.3,1072.3 L1110.8,1072.4 L1112.3,1072.5 L1113.8,1072.6 L1115.3,1072.7 L1116.9,1072.8 L1118.4,1072.9 L1119.9,1073.0 L1121.4,1073.1 L1122.9,1073.2 L1124.5,1073.4 L1126.0,1073.5 L1127.5,1073.6 L1129.0,1073.7 L1130.5,1073.8 L1132.0,1073.9 L1133.6,1074.0 L1135.1,1074.1 L1136.6,1074.2 L1138.1,1074.3 L1139.6,1074.4 L1141.1,1074.5 L1142.7,1074.6 L1144.2,1074.7 L1145.7,1074.8 L1147.2,1075.0 L1148.7,1075.1 L1150.3,1075.2 L1151.8,1075.3 L1153.3,1075.4 L1154.8,1075.5 L1156.3,1075.6 L1157.8,1075.7 L1159.4,1075.8 L1160.9,1075.9 L1162.4,1076.0 L1163.9,1076.1 L1165.4,1076.2 L1167.0,1076.3 L1168.5,1076.4 L1170.0,1076.5 L1171.5,1076.6 L1173.0,1076.8 L1174.5,1076.9 L1176.1,1077.0 L1177.6,1077.1 L1179.1,1077.2 L1180.6,1077.3 L1182.1,1077.4 L1183.6,1077.5 L1185.2,1077.6 L1186.7,1077.7 L1188.2,1077.8 L1189.7,1077.9 L1191.2,1078.0 L1192.8,1078.1 L1194.3,1078.2 L1195.8,1078.3 L1197.3,1078.4 L1198.8,1078.5 L1200.3,1078.6 L1201.9,1078.7 L1203.4,1078.8 L1204.9,1079.0 L1206.4,1079.1 L1207.9,1079.2 L1209.4,1079.3 L1211.0,1079.4 L1212.5,1079.5 L1214.0,1079.6 L1215.5,1079.7 L1217.0,1079.8 L1218.6,1079.9 L1220.1,1080.0 L1221.6,1080.1 L1223.1,1080.2 L1224.6,1080.3 L1226.1,1080.4 L1227.7,1080.5 L1229.2,1080.6 L1230.7,1080.7 L1232.2,1080.8 L1233.7,1080.9 L1235.2,1081.0 L1236.8,1081.1 L1238.3,1081.2 L1239.8,1081.3 L1241.3,1081.4 L1242.8,1081.5 L1244.4,1081.6 L1245.9,1081.7 L1247.4,1081.8 L1248.9,1081.9 L1250.4,1082.0 L1251.9,1082.2 L1253.5,1082.3 L1255.0,1082.4 L1256.5,1082.5 L1258.0,1082.6 L1259.5,1082.7 L1261.1,1082.8 L1262.6,1082.9 L1264.1,1083.0 L1265.6,1083.1 L1267.1,1083.2 L1268.6,1083.3 L1270.2,1083.4 L1271.7,1083.5 L1273.2,1083.6 L1274.7,1083.7 L1276.2,1083.8 L1277.7,1083.9 L1279.3,1084.0 L1280.8,1084.1 L1282.3,1084.2 L1283.8,1084.3 L1285.3,1084.4 L1286.9,1084.5 L1288.4,1084.6 L1289.9,1084.7 L1291.4,1084.8 L1292.9,1084.9 L1294.4,1085.0 L1296.0,1085.1 L1297.5,1085.2 L1299.0,1085.3 L1300.5,1085.4 L1302.0,1085.5 L1303.5,1085.6 L1305.1,1085.7 L1306.6,1085.8 L1308.1,1085.9 L1309.6,1086.0 L1311.1,1086.1 L1312.7,1086.2 L1314.2,1086.3 L1315.7,1086.4 L1317.2,1086.5 L1318.7,1086.6 L1320.2,1086.7 L1321.8,1086.8 L1323.3,1086.9 L1324.8,1087.0 L1326.3,1087.1 L1327.8,1087.2 L1329.3,1087.3 L1330.9,1087.4 L1332.4,1087.5 L1333.9,1087.6 L1335.4,1087.7 L1336.9,1087.8 L1338.5,1087.9 L1340.0,1088.0 L1341.5,1088.1 L1343.0,1088.2 L1344.5,1088.3 L1346.0,1088.4 L1347.6,1088.5 L1349.1,1088.6 L1350.6,1088.7 L1352.1,1088.8 L1353.6,1088.9 L1355.2,1089.0 L1356.7,1089.1 L1358.2,1089.2 L1359.7,1089.3 L1361.2,1089.4 L1362.7,1089.5 L1364.3,1089.6 L1365.8,1089.7 L1367.3,1089.8 L1368.8,1089.9 L1370.3,1090.0 L1371.8,1090.1 L1373.4,1090.2 L1374.9,1090.3 L1376.4,1090.3 L1377.9,1090.4 L1379.4,1090.5 L1381.0,1090.6 L1382.5,1090.7 L1384.0,1090.8 L1385.5,1090.9 L1387.0,1091.0 L1388.5,1091.1 L1390.1,1091.2 L1391.6,1091.3 L1393.1,1091.4 L1394.6,1091.5 L1396.1,1091.6 L1397.6,1091.7 L1399.2,1091.8 L1400.7,1091.9 L1402.2,1092.0 L1403.7,1092.1 L1405.2,1092.2 L1406.8,1092.3 L1408.3,1092.4 L1409.8,1092.5 L1411.3,1092.6 L1412.8,1092.7 L1414.3,1092.8 L1415.9,1092.9 L1417.4,1093.0 L1418.9,1093.1 L1420.4,1093.2 L1421.9,1093.3 L1423.4,1093.4 L1425.0,1093.4 L1426.5,1093.5 L1428.0,1093.6 L1429.5,1093.7 L1431.0,1093.8 L1432.6,1093.9 L1434.1,1094.0 L1435.6,1094.1 L1437.1,1094.2 L1438.6,1094.3 L1440.1,1094.4 L1441.7,1094.5 L1443.2,1094.6 L1444.7,1094.7 L1446.2,1094.8 L1447.7,1094.9 L1449.2,1095.0 L1450.8,1095.1 L1452.3,1095.2 L1453.8,1095.3 L1455.3,1095.4 L1456.8,1095.5 L1458.4,1095.5 L1459.9,1095.6 L1461.4,1095.7 L1462.9,1095.8 L1464.4,1095.9 L1465.9,1096.0 L1467.5,1096.1 L1469.0,1096.2 L1470.5,1096.3 L1472.0,1096.4 L1473.5,1096.5 L1475.1,1096.6 L1476.6,1096.7 L1478.1,1096.8 L1479.6,1096.9 L1481.1,1097.0 L1482.6,1097.1 L1484.2,1097.2 L1485.7,1097.2 L1487.2,1097.3 L1488.7,1097.4 L1490.2,1097.5 L1491.7,1097.6 L1493.3,1097.7 L1494.8,1097.8 L1496.3,1097.9 L1497.8,1098.0 L1499.3,1098.1 L1500.9,1098.2 L1502.4,1098.3 L1503.9,1098.4 L1505.4,1098.5 L1506.9,1098.6 L1508.4,1098.7 L1510.0,1098.7 L1511.5,1098.8 L1513.0,1098.9 L1514.5,1099.0 L1516.0,1099.1 L1517.5,1099.2 L1519.1,1099.3 L1520.6,1099.4 L1522.1,1099.5 L1523.6,1099.6 L1525.1,1099.7 L1526.7,1099.8 L1528.2,1099.9 L1529.7,1099.9 L1531.2,1100.0 L1532.7,1100.1 L1534.2,1100.2 L1535.8,1100.3 L1537.3,1100.4 L1538.8,1100.5 L1540.3,1100.6 L1541.8,1100.7 L1543.4,1100.8 L1544.9,1100.9 L1546.4,1101.0 L1547.9,1101.1 L1549.4,1101.1 L1550.9,1101.2 L1552.5,1101.3 L1554.0,1101.4 L1555.5,1101.5 L1557.0,1101.6 L1558.5,1101.7 L1560.0,1101.8 L1561.6,1101.9 L1563.1,1102.0 L1564.6,1102.1 L1566.1,1102.2 L1567.6,1102.2 L1569.2,1102.3 L1570.7,1102.4 L1572.2,1102.5 L1573.7,1102.6 L1575.2,1102.7 L1576.7,1102.8 L1578.3,1102.9 L1579.8,1103.0 L1581.3,1103.1 L1582.8,1103.2 L1584.3,1103.2 L1585.8,1103.3 L1587.4,1103.4 L1588.9,1103.5 L1590.4,1103.6 L1591.9,1103.7 L1593.4,1103.8 L1595.0,1103.9 L1596.5,1104.0 L1598.0,1104.1 L1599.5,1104.1 L1601.0,1104.2 L1602.5,1104.3 L1604.1,1104.4 L1605.6,1104.5 L1607.1,1104.6 L1608.6,1104.7 L1610.1,1104.8 L1611.6,1104.9 L1613.2,1105.0 L1614.7,1105.0 L1616.2,1105.1 L1617.7,1105.2 L1619.2,1105.3 L1620.8,1105.4 L1622.3,1105.5 L1623.8,1105.6 L1625.3,1105.7 L1626.8,1105.8 L1628.3,1105.9 L1629.9,1105.9 L1631.4,1106.0 L1632.9,1106.1 L1634.4,1106.2 L1635.9,1106.3 L1637.5,1106.4 L1639.0,1106.5 L1640.5,1106.6 L1642.0,1106.7 L1643.5,1106.7 L1645.0,1106.8 L1646.6,1106.9 L1648.1,1107.0 L1649.6,1107.1 L1651.1,1107.2 L1652.6,1107.3 L1654.1,1107.4 L1655.7,1107.5 L1657.2,1107.5 L1658.7,1107.6 L1660.2,1107.7 L1661.7,1107.8 L1663.3,1107.9 L1664.8,1108.0 L1666.3,1108.1 L1667.8,1108.2 L1669.3,1108.2 L1670.8,1108.3 L1672.4,1108.4 L1673.9,1108.5 L1675.4,1108.6 L1676.9,1108.7 L1678.4,1108.8 L1679.9,1108.9 L1681.5,1108.9 L1683.0,1109.0 L1684.5,1109.1 L1686.0,1109.2 L1687.5,1109.3 L1689.1,1109.4 L1690.6,1109.5 L1692.1,1109.6 L1693.6,1109.6 L1695.1,1109.7 L1696.6,1109.8 L1698.2,1109.9 L1699.7,1110.0 L1701.2,1110.1 L1702.7,1110.2 L1704.2,1110.3 L1705.7,1110.3 L1707.3,1110.4 L1708.8,1110.5 L1710.3,1110.6 L1711.8,1110.7 L1713.3,1110.8 L1714.9,1110.9 L1716.4,1111.0 L1717.9,1111.0 L1719.4,1111.1 L1720.9,1111.2 L1722.4,1111.3 L1724.0,1111.4 L1725.5,1111.5 L1727.0,1111.6 L1728.5,1111.6 L1730.0,1111.7 L1731.6,1111.8 L1733.1,1111.9 L1734.6,1112.0 L1736.1,1112.1 L1737.6,1112.2 L1739.1,1112.2 L1740.7,1112.3 L1742.2,1112.4 L1743.7,1112.5 L1745.2,1112.6 L1746.7,1112.7 L1748.2,1112.8 L1749.8,1112.8 L1751.3,1112.9 L1752.8,1113.0 L1754.3,1113.1 L1755.8,1113.2 L1757.4,1113.3 L1758.9,1113.4 L1760.4,1113.4 L1761.9,1113.5 L1763.4,1113.6 L1764.9,1113.7 L1766.5,1113.8 L1768.0,1113.9 L1769.5,1114.0 L1771.0,1114.0 L1772.5,1114.1 L1774.0,1114.2 L1775.6,1114.3 L1777.1,1114.4 L1778.6,1114.5 L1780.1,1114.5 L1781.6,1114.6 L1783.2,1114.7 L1784.7,1114.8 L1786.2,1114.9 L1787.7,1115.0 L1789.2,1115.1 L1790.7,1115.1 L1792.3,1115.2 L1793.8,1115.3 L1795.3,1115.4 L1796.8,1115.5 L1798.3,1115.6 L1799.8,1115.6 L1801.4,1115.7 L1802.9,1115.8 L1804.4,1115.9 L1805.9,1116.0 L1807.4,1116.1 L1809.0,1116.1 L1810.5,1116.2 L1812.0,1116.3 L1813.5,1116.4 L1815.0,1116.5 L1816.5,1116.6 L1818.1,1116.6 L1819.6,1116.7 L1821.1,1116.8 L1822.6,1116.9 L1824.1,1117.0 L1825.7,1117.1 L1827.2,1117.1 L1828.7,1117.2 L1830.2,1117.3 L1831.7,1117.4 L1833.2,1117.5 L1834.8,1117.6 L1836.3,1117.6 L1837.8,1117.7 L1839.3,1117.8 L1840.8,1117.9 L1842.3,1118.0 L1843.9,1118.1 L1845.4,1118.1 L1846.9,1118.2 L1848.4,1118.3 L1849.9,1118.4 L1851.5,1118.5 L1853.0,1118.6 L1854.5,1118.6 L1856.0,1118.7 L1857.5,1118.8 L1859.0,1118.9 L1860.6,1119.0 L1862.1,1119.1 L1863.6,1119.1 L1865.1,1119.2 L1866.6,1119.3 L1868.1,1119.4 L1869.7,1119.5 L1871.2,1119.5 L1872.7,1119.6 L1874.2,1119.7 L1875.7,1119.8 L1877.3,1119.9 L1878.8,1120.0 L1880.3,1120.0 L1881.8,1120.1 L1883.3,1120.2 L1884.8,1120.3 L1886.4,1120.4 L1887.9,1120.4 L1889.4,1120.5 L1890.9,1120.6 L1892.4,1120.7 L1893.9,1120.8 L1895.5,1120.9 L1897.0,1120.9 L1898.5,1121.0 L1900.0,1121.1 L1901.5,1121.2 L1903.1,1121.3 L1904.6,1121.3 L1906.1,1121.4 L1907.6,1121.5 L1909.1,1121.6 L1910.6,1121.7 L1912.2,1121.7 L1913.7,1121.8 L1915.2,1121.9 L1916.7,1122.0 L1918.2,1122.1 L1919.8,1122.2 L1921.3,1122.2 L1922.8,1122.3 L1924.3,1122.4 L1925.8,1122.5 L1927.3,1122.6 L1928.9,1122.6 L1930.4,1122.7 L1931.9,1122.8 L1933.4,1122.9 L1934.9,1123.0 L1936.4,1123.0 L1938.0,1123.1 L1939.5,1123.2 L1941.0,1123.3 L1942.5,1123.4 L1944.0,1123.4 L1945.6,1123.5 L1947.1,1123.6 L1948.6,1123.7 L1950.1,1123.8 L1951.6,1123.8 L1953.1,1123.9 L1954.7,1124.0 L1956.2,1124.1 L1957.7,1124.2 L1959.2,1124.2 L1960.7,1124.3 L1962.2,1124.4 L1963.8,1124.5 L1965.3,1124.6 L1966.8,1124.6 L1968.3,1124.7 L1969.8,1124.8 L1971.4,1124.9 L1972.9,1124.9 L1974.4,1125.0 L1975.9,1125.1 L1977.4,1125.2 L1978.9,1125.3 L1980.5,1125.3 L1982.0,1125.4 L1983.5,1125.5 L1985.0,1125.6 L1986.5,1125.7 L1988.0,1125.7 L1989.6,1125.8 L1991.1,1125.9 L1992.6,1126.0 L1994.1,1126.1 L1995.6,1126.1 L1997.2,1126.2 L1998.7,1126.3 L2000.2,1126.4 L2001.7,1126.4 L2003.2,1126.5 L2004.7,1126.6 L2006.3,1126.7 L2007.8,1126.8 L2009.3,1126.8 L2010.8,1126.9 L2012.3,1127.0 L2013.9,1127.1 L2015.4,1127.2 L2016.9,1127.2 L2018.4,1127.3 L2019.9,1127.4 L2021.4,1127.5 L2023.0,1127.5 L2024.5,1127.6 L2026.0,1127.7 L2027.5,1127.8 L2029.0,1127.9 L2030.5,1127.9 L2032.1,1128.0 L2033.6,1128.1 L2035.1,1128.2 L2036.6,1128.2 L2038.1,1128.3 L2039.7,1128.4 L2041.2,1128.5 L2042.7,1128.6 L2044.2,1128.6 L2045.7,1128.7 L2047.2,1128.8 L2048.8,1128.9 L2050.3,1128.9 L2051.8,1129.0 L2053.3,1129.1 L2054.8,1129.2 L2056.3,1129.2 L2057.9,1129.3 L2059.4,1129.4 L2060.9,1129.5 L2062.4,1129.6 L2063.9,1129.6 L2065.5,1129.7 L2067.0,1129.8 L2068.5,1129.9 L2070.0,1129.9 L2071.5,1130.0 L2073.0,1130.1 L2074.6,1130.2 L2076.1,1130.2 L2077.6,1130.3 L2079.1,1130.4 L2080.6,1130.5 L2082.1,1130.6 L2083.7,1130.6 L2085.2,1130.7 L2086.7,1130.8 L2088.2,1130.9 L2089.7,1130.9 L2091.3,1131.0 L2092.8,1131.1 L2094.3,1131.2 L2095.8,1131.2 L2097.3,1131.3 L2098.8,1131.4 L2100.4,1131.5 L2101.9,1131.5 L2103.4,1131.6 L2104.9,1131.7 L2106.4,1131.8 L2107.9,1131.8 L2109.5,1131.9 L2111.0,1132.0 L2112.5,1132.1 L2114.0,1132.1 L2115.5,1132.2 L2117.1,1132.3 L2118.6,1132.4 L2120.1,1132.4 L2121.6,1132.5 L2123.1,1132.6 L2124.6,1132.7 L2126.2,1132.7 L2127.7,1132.8 L2129.2,1132.9 L2130.7,1133.0 L2132.2,1133.0 L2133.8,1133.1 L2135.3,1133.2 L2136.8,1133.3 L2138.3,1133.4 L2139.8,1133.4 L2141.3,1133.5 L2142.9,1133.6 L2144.4,1133.6 L2145.9,1133.7 L2147.4,1133.8 L2148.9,1133.9 L2150.4,1133.9 L2152.0,1134.0 L2153.5,1134.1 L2155.0,1134.2" stroke="#000" stroke-width="6.6" fill="none"/>
</g>
<path d="M767.9,64.5V607.5" stroke="#000" stroke-width="4" stroke-dasharray="29.4 12 5 11.4" stroke-dashoffset="24.8"/>
<path d="M1034.9,64.5V607.5" stroke="#000" stroke-width="4" stroke-dasharray="29.4 12 5 11.4" stroke-dashoffset="24.8"/>
<path d="M767.9,646.2V1189.4" stroke="#000" stroke-width="4" stroke-dasharray="29.4 12 5 11.4" stroke-dashoffset="24.8"/>
<path d="M1034.9,646.2V1189.4" stroke="#000" stroke-width="4" stroke-dasharray="29.4 12 5 11.4" stroke-dashoffset="24.8"/>
<path d="M767.9,1228.0V1942.5" stroke="#000" stroke-width="4" stroke-dasharray="29.4 12 5 11.4" stroke-dashoffset="27.6"/>
<path d="M1034.9,1228.0V1942.5" stroke="#000" stroke-width="4" stroke-dasharray="29.4 12 5 11.4" stroke-dashoffset="27.6"/>
<g clip-path="url(#c3)">
<path d="M273,1585.2H2155" stroke="#000" stroke-width="4" stroke-dasharray="29.4 12 5 11.4" stroke-dashoffset="40.3"/>
<path d="M273.0,1565.9 L274.5,1565.5 L276.0,1565.2 L277.6,1564.9 L279.1,1564.6 L280.6,1564.3 L282.1,1564.0 L283.6,1563.8 L285.1,1563.5 L286.7,1563.3 L288.2,1563.0 L289.7,1562.8 L291.2,1562.6 L292.7,1562.4 L294.2,1562.2 L295.8,1562.0 L297.3,1561.8 L298.8,1561.7 L300.3,1561.5 L301.8,1561.4 L303.4,1561.2 L304.9,1561.1 L306.4,1561.0 L307.9,1560.9 L309.4,1560.8 L310.9,1560.7 L312.5,1560.6 L314.0,1560.5 L315.5,1560.4 L317.0,1560.4 L318.5,1560.3 L320.1,1560.3 L321.6,1560.2 L323.1,1560.2 L324.6,1560.1 L326.1,1560.1 L327.6,1560.1 L329.2,1560.1 L330.7,1560.1 L332.2,1560.1 L333.7,1560.2 L335.2,1560.2 L336.7,1560.3 L338.3,1560.4 L339.8,1560.5 L341.3,1560.6 L342.8,1560.8 L344.3,1560.9 L345.9,1561.1 L347.4,1561.2 L348.9,1561.4 L350.4,1561.6 L351.9,1561.7 L353.4,1561.9 L355.0,1562.0 L356.5,1562.2 L358.0,1562.3 L359.5,1562.5 L361.0,1562.7 L362.5,1562.8 L364.1,1563.0 L365.6,1563.2 L367.1,1563.4 L368.6,1563.6 L370.1,1563.8 L371.7,1564.1 L373.2,1564.3 L374.7,1564.5 L376.2,1564.7 L377.7,1564.9 L379.2,1565.0 L380.8,1565.2 L382.3,1565.4 L383.8,1565.5 L385.3,1565.6 L386.8,1565.7 L388.3,1565.8 L389.9,1565.8 L391.4,1565.8 L392.9,1565.8 L394.4,1565.8 L395.9,1565.7 L397.5,1565.6 L399.0,1565.5 L400.5,1565.3 L402.0,1565.2 L403.5,1565.0 L405.0,1564.8 L406.6,1564.5 L408.1,1564.3 L409.6,1564.0 L411.1,1563.7 L412.6,1563.4 L414.1,1563.2 L415.7,1562.9 L417.2,1562.6 L418.7,1562.3 L420.2,1561.9 L421.7,1561.6 L423.3,1561.3 L424.8,1561.1 L426.3,1560.8 L427.8,1560.5 L429.3,1560.2 L430.8,1559.8 L432.4,1559.5 L433.9,1559.1 L435.4,1558.8 L436.9,1558.4 L438.4,1558.0 L440.0,1557.6 L441.5,1557.2 L443.0,1556.8 L444.5,1556.4 L446.0,1556.0 L447.5,1555.5 L449.1,1555.1 L450.6,1554.7 L452.1,1554.2 L453.6,1553.8 L455.1,1553.4 L456.6,1552.9 L458.2,1552.5 L459.7,1552.1 L461.2,1551.6 L462.7,1551.2 L464.2,1550.8 L465.8,1550.4 L467.3,1550.0 L468.8,1549.5 L470.3,1549.0 L471.8,1548.6 L473.3,1548.1 L474.9,1547.6 L476.4,1547.1 L477.9,1546.6 L479.4,1546.2 L480.9,1545.7 L482.4,1545.2 L484.0,1544.7 L485.5,1544.2 L487.0,1543.8 L488.5,1543.3 L490.0,1542.9 L491.6,1542.5 L493.1,1542.0 L494.6,1541.7 L496.1,1541.3 L497.6,1540.9 L499.1,1540.6 L500.7,1540.3 L502.2,1540.1 L503.7,1539.8 L505.2,1539.6 L506.7,1539.4 L508.2,1539.1 L509.8,1538.9 L511.3,1538.7 L512.8,1538.5 L514.3,1538.3 L515.8,1538.1 L517.4,1537.9 L518.9,1537.7 L520.4,1537.6 L521.9,1537.4 L523.4,1537.2 L524.9,1537.1 L526.5,1536.9 L528.0,1536.8 L529.5,1536.6 L531.0,1536.5 L532.5,1536.4 L534.1,1536.2 L535.6,1536.1 L537.1,1536.0 L538.6,1535.8 L540.1,1535.7 L541.6,1535.6 L543.2,1535.5 L544.7,1535.4 L546.2,1535.3 L547.7,1535.1 L549.2,1535.0 L550.7,1534.9 L552.3,1534.8 L553.8,1534.7 L555.3,1534.6 L556.8,1534.5 L558.3,1534.3 L559.9,1534.2 L561.4,1534.1 L562.9,1534.1 L564.4,1534.0 L565.9,1533.9 L567.4,1533.8 L569.0,1533.7 L570.5,1533.7 L572.0,1533.6 L573.5,1533.6 L575.0,1533.6 L576.5,1533.5 L578.1,1533.5 L579.6,1533.5 L581.1,1533.5 L582.6,1533.6 L584.1,1533.6 L585.7,1533.6 L587.2,1533.7 L588.7,1533.8 L590.2,1533.9 L591.7,1534.0 L593.2,1534.1 L594.8,1534.2 L596.3,1534.3 L597.8,1534.5 L599.3,1534.6 L600.8,1534.7 L602.4,1534.9 L603.9,1535.0 L605.4,1535.2 L606.9,1535.4 L608.4,1535.5 L609.9,1535.7 L611.5,1535.9 L613.0,1536.2 L614.5,1536.5 L616.0,1536.8 L617.5,1537.2 L619.0,1537.6 L620.6,1538.0 L622.1,1538.5 L623.6,1538.9 L625.1,1539.4 L626.6,1539.8 L628.2,1540.2 L629.7,1540.7 L631.2,1541.1 L632.7,1541.4 L634.2,1541.7 L635.7,1542.0 L637.3,1542.3 L638.8,1542.5 L640.3,1542.7 L641.8,1543.0 L643.3,1543.2 L644.8,1543.4 L646.4,1543.6 L647.9,1543.8 L649.4,1544.0 L650.9,1544.1 L652.4,1544.2 L654.0,1544.3 L655.5,1544.3 L657.0,1544.3 L658.5,1544.3 L660.0,1544.3 L661.5,1544.3 L663.1,1544.3 L664.6,1544.3 L666.1,1544.3 L667.6,1544.3 L669.1,1544.3 L670.6,1544.3 L672.2,1544.3 L673.7,1544.3 L675.2,1544.3 L676.7,1544.3 L678.2,1544.3 L679.8,1544.3 L681.3,1544.3 L682.8,1544.3 L684.3,1544.3 L685.8,1544.3 L687.3,1544.3 L688.9,1544.4 L690.4,1544.5 L691.9,1544.7 L693.4,1544.9 L694.9,1545.2 L696.5,1545.5 L698.0,1545.8 L699.5,1546.2 L701.0,1546.6 L702.5,1547.1 L704.0,1547.6 L705.6,1548.1 L707.1,1548.6 L708.6,1549.1 L710.1,1549.7 L711.6,1550.3 L713.1,1550.8 L714.7,1551.4 L716.2,1552.0 L717.7,1552.6 L719.2,1553.1 L720.7,1553.7 L722.3,1554.3 L723.8,1554.8 L725.3,1555.3 L726.8,1555.9 L728.3,1556.5 L729.8,1557.2 L731.4,1557.9 L732.9,1558.6 L734.4,1559.3 L735.9,1560.1 L737.4,1560.9 L738.9,1561.6 L740.5,1562.4 L742.0,1563.2 L743.5,1564.0 L745.0,1564.8 L746.5,1565.6 L748.1,1566.4 L749.6,1567.1 L751.1,1567.9 L752.6,1568.6 L754.1,1569.3 L755.6,1569.9 L757.2,1570.5 L758.7,1571.1 L760.2,1571.6 L761.7,1572.0 L763.2,1572.4 L764.7,1572.8 L766.3,1573.2 L767.8,1573.6 L769.3,1574.0 L770.8,1574.4 L772.3,1574.7 L773.9,1575.1 L775.4,1575.4 L776.9,1575.7 L778.4,1576.0 L779.9,1576.3 L781.4,1576.5 L783.0,1576.8 L784.5,1576.9 L786.0,1577.1 L787.5,1577.2 L789.0,1577.3 L790.6,1577.4 L792.1,1577.4 L793.6,1577.5 L795.1,1577.5 L796.6,1577.5 L798.1,1577.6 L799.7,1577.6 L801.2,1577.6 L802.7,1577.7 L804.2,1577.7 L805.7,1577.7 L807.2,1577.7 L808.8,1577.7 L810.3,1577.8 L811.8,1577.8 L813.3,1577.8 L814.8,1577.8 L816.4,1577.8 L817.9,1577.9 L819.4,1577.9 L820.9,1577.9 L822.4,1577.9 L823.9,1578.0 L825.5,1578.0 L827.0,1578.0 L828.5,1578.1 L830.0,1578.1 L831.5,1578.2 L833.0,1578.2 L834.6,1578.3 L836.1,1578.4 L837.6,1578.4 L839.1,1578.5 L840.6,1578.6 L842.2,1578.7 L843.7,1578.8 L845.2,1578.9 L846.7,1579.0 L848.2,1579.0 L849.7,1579.1 L851.3,1579.2 L852.8,1579.3 L854.3,1579.4 L855.8,1579.5 L857.3,1579.6 L858.8,1579.7 L860.4,1579.7 L861.9,1579.8 L863.4,1579.9 L864.9,1580.0 L866.4,1580.0 L868.0,1580.1 L869.5,1580.1 L871.0,1580.2 L872.5,1580.2 L874.0,1580.2 L875.5,1580.3 L877.1,1580.3 L878.6,1580.3 L880.1,1580.4 L881.6,1580.4 L883.1,1580.4 L884.6,1580.4 L886.2,1580.5 L887.7,1580.5 L889.2,1580.5 L890.7,1580.6 L892.2,1580.6 L893.8,1580.6 L895.3,1580.6 L896.8,1580.7 L898.3,1580.7 L899.8,1580.7 L901.3,1580.7 L902.9,1580.7 L904.4,1580.8 L905.9,1580.8 L907.4,1580.8 L908.9,1580.8 L910.5,1580.8 L912.0,1580.8 L913.5,1580.9 L915.0,1580.9 L916.5,1580.9 L918.0,1580.9 L919.6,1580.9 L921.1,1580.9 L922.6,1580.9 L924.1,1580.9 L925.6,1580.9 L927.1,1580.9 L928.7,1580.9 L930.2,1580.9 L931.7,1580.9 L933.2,1580.9 L934.7,1580.8 L936.3,1580.8 L937.8,1580.7 L939.3,1580.6 L940.8,1580.5 L942.3,1580.3 L943.8,1580.2 L945.4,1580.0 L946.9,1579.9 L948.4,1579.7 L949.9,1579.5 L951.4,1579.3 L952.9,1579.2 L954.5,1579.0 L956.0,1578.8 L957.5,1578.6 L959.0,1578.4 L960.5,1578.2 L962.1,1578.0 L963.6,1577.9 L965.1,1577.7 L966.6,1577.5 L968.1,1577.4 L969.6,1577.2 L971.2,1577.1 L972.7,1577.0 L974.2,1576.8 L975.7,1576.7 L977.2,1576.5 L978.8,1576.4 L980.3,1576.2 L981.8,1576.1 L983.3,1575.9 L984.8,1575.8 L986.3,1575.6 L987.9,1575.5 L989.4,1575.3 L990.9,1575.2 L992.4,1575.0 L993.9,1574.9 L995.4,1574.7 L997.0,1574.6 L998.5,1574.4 L1000.0,1574.3 L1001.5,1574.2 L1003.0,1574.0 L1004.6,1573.9 L1006.1,1573.7 L1007.6,1573.6 L1009.1,1573.5 L1010.6,1573.4 L1012.1,1573.2 L1013.7,1573.1 L1015.2,1573.0 L1016.7,1572.9 L1018.2,1572.8 L1019.7,1572.7 L1021.2,1572.6 L1022.8,1572.5 L1024.3,1572.4 L1025.8,1572.3 L1027.3,1572.3 L1028.8,1572.2 L1030.4,1572.1 L1031.9,1572.1 L1033.4,1572.0 L1034.9,1572.0 L1036.4,1571.9 L1037.9,1571.9 L1039.5,1571.8 L1041.0,1571.8 L1042.5,1571.8 L1044.0,1571.7 L1045.5,1571.7 L1047.0,1571.7 L1048.6,1571.6 L1050.1,1571.6 L1051.6,1571.5 L1053.1,1571.5 L1054.6,1571.4 L1056.2,1571.3 L1057.7,1571.3 L1059.2,1571.2 L1060.7,1571.1 L1062.2,1571.0 L1063.7,1570.9 L1065.3,1570.8 L1066.8,1570.6 L1068.3,1570.2 L1069.8,1569.8 L1071.3,1569.3 L1072.8,1568.8 L1074.4,1568.2 L1075.9,1567.5 L1077.4,1566.9 L1078.9,1566.2 L1080.4,1565.5 L1082.0,1564.9 L1083.5,1564.3 L1085.0,1563.7 L1086.5,1563.2 L1088.0,1562.8 L1089.5,1562.3 L1091.1,1561.8 L1092.6,1561.3 L1094.1,1560.8 L1095.6,1560.3 L1097.1,1559.8 L1098.7,1559.3 L1100.2,1558.8 L1101.7,1558.3 L1103.2,1557.8 L1104.7,1557.3 L1106.2,1556.9 L1107.8,1556.5 L1109.3,1556.1 L1110.8,1555.7 L1112.3,1555.4 L1113.8,1555.1 L1115.3,1554.8 L1116.9,1554.6 L1118.4,1554.5 L1119.9,1554.4 L1121.4,1554.4 L1122.9,1554.4 L1124.5,1554.5 L1126.0,1554.7 L1127.5,1554.9 L1129.0,1555.2 L1130.5,1555.5 L1132.0,1555.9 L1133.6,1556.3 L1135.1,1556.7 L1136.6,1557.2 L1138.1,1557.7 L1139.6,1558.2 L1141.1,1558.7 L1142.7,1559.2 L1144.2,1559.6 L1145.7,1560.1 L1147.2,1560.5 L1148.7,1560.9 L1150.3,1561.3 L1151.8,1561.7 L1153.3,1562.2 L1154.8,1562.7 L1156.3,1563.2 L1157.8,1563.7 L1159.4,1564.2 L1160.9,1564.7 L1162.4,1565.3 L1163.9,1565.8 L1165.4,1566.3 L1167.0,1566.8 L1168.5,1567.3 L1170.0,1567.8 L1171.5,1568.3 L1173.0,1568.7 L1174.5,1569.1 L1176.1,1569.5 L1177.6,1569.8 L1179.1,1570.1 L1180.6,1570.4 L1182.1,1570.6 L1183.6,1570.7 L1185.2,1570.8 L1186.7,1570.9 L1188.2,1570.8 L1189.7,1570.7 L1191.2,1570.5 L1192.8,1570.2 L1194.3,1569.8 L1195.8,1569.4 L1197.3,1568.9 L1198.8,1568.3 L1200.3,1567.7 L1201.9,1567.1 L1203.4,1566.5 L1204.9,1565.8 L1206.4,1565.1 L1207.9,1564.5 L1209.4,1563.8 L1211.0,1563.2 L1212.5,1562.6 L1214.0,1562.0 L1215.5,1561.4 L1217.0,1560.9 L1218.6,1560.4 L1220.1,1560.0 L1221.6,1559.4 L1223.1,1558.9 L1224.6,1558.4 L1226.1,1557.8 L1227.7,1557.3 L1229.2,1556.7 L1230.7,1556.1 L1232.2,1555.6 L1233.7,1555.0 L1235.2,1554.4 L1236.8,1553.9 L1238.3,1553.3 L1239.8,1552.8 L1241.3,1552.3 L1242.8,1551.8 L1244.4,1551.3 L1245.9,1550.8 L1247.4,1550.4 L1248.9,1550.0 L1250.4,1549.6 L1251.9,1549.2 L1253.5,1548.9 L1255.0,1548.6 L1256.5,1548.4 L1258.0,1548.2 L1259.5,1548.0 L1261.1,1547.9 L1262.6,1547.9 L1264.1,1547.9 L1265.6,1548.0 L1267.1,1548.1 L1268.6,1548.2 L1270.2,1548.5 L1271.7,1548.7 L1273.2,1549.0 L1274.7,1549.4 L1276.2,1549.7 L1277.7,1550.1 L1279.3,1550.5 L1280.8,1551.0 L1282.3,1551.4 L1283.8,1551.9 L1285.3,1552.4 L1286.9,1552.9 L1288.4,1553.4 L1289.9,1553.9 L1291.4,1554.3 L1292.9,1554.8 L1294.4,1555.3 L1296.0,1555.8 L1297.5,1556.3 L1299.0,1556.9 L1300.5,1557.5 L1302.0,1558.2 L1303.5,1558.9 L1305.1,1559.7 L1306.6,1560.4 L1308.1,1561.2 L1309.6,1561.9 L1311.1,1562.7 L1312.7,1563.5 L1314.2,1564.2 L1315.7,1565.0 L1317.2,1565.7 L1318.7,1566.4 L1320.2,1567.1 L1321.8,1567.8 L1323.3,1568.4 L1324.8,1568.9 L1326.3,1569.5 L1327.8,1569.9 L1329.3,1570.3 L1330.9,1570.6 L1332.4,1570.9 L1333.9,1571.1 L1335.4,1571.4 L1336.9,1571.6 L1338.5,1571.8 L1340.0,1572.0 L1341.5,1572.2 L1343.0,1572.4 L1344.5,1572.6 L1346.0,1572.8 L1347.6,1573.0 L1349.1,1573.2 L1350.6,1573.3 L1352.1,1573.5 L1353.6,1573.6 L1355.2,1573.8 L1356.7,1573.9 L1358.2,1574.0 L1359.7,1574.1 L1361.2,1574.2 L1362.7,1574.3 L1364.3,1574.3 L1365.8,1574.4 L1367.3,1574.4 L1368.8,1574.5 L1370.3,1574.5 L1371.8,1574.5 L1373.4,1574.4 L1374.9,1574.4 L1376.4,1574.4 L1377.9,1574.3 L1379.4,1574.2 L1381.0,1574.1 L1382.5,1574.0 L1384.0,1573.9 L1385.5,1573.8 L1387.0,1573.6 L1388.5,1573.5 L1390.1,1573.3 L1391.6,1573.1 L1393.1,1573.0 L1394.6,1572.8 L1396.1,1572.6 L1397.6,1572.4 L1399.2,1572.2 L1400.7,1572.0 L1402.2,1571.8 L1403.7,1571.6 L1405.2,1571.4 L1406.8,1571.2 L1408.3,1570.9 L1409.8,1570.7 L1411.3,1570.5 L1412.8,1570.2 L1414.3,1569.8 L1415.9,1569.5 L1417.4,1569.1 L1418.9,1568.7 L1420.4,1568.2 L1421.9,1567.8 L1423.4,1567.3 L1425.0,1566.8 L1426.5,1566.3 L1428.0,1565.8 L1429.5,1565.2 L1431.0,1564.7 L1432.6,1564.2 L1434.1,1563.6 L1435.6,1563.1 L1437.1,1562.6 L1438.6,1562.1 L1440.1,1561.5 L1441.7,1561.0 L1443.2,1560.5 L1444.7,1560.1 L1446.2,1559.6 L1447.7,1559.2 L1449.2,1558.7 L1450.8,1558.3 L1452.3,1557.8 L1453.8,1557.3 L1455.3,1556.9 L1456.8,1556.4 L1458.4,1555.9 L1459.9,1555.5 L1461.4,1555.0 L1462.9,1554.6 L1464.4,1554.2 L1465.9,1553.8 L1467.5,1553.4 L1469.0,1553.0 L1470.5,1552.7 L1472.0,1552.4 L1473.5,1552.1 L1475.1,1551.8 L1476.6,1551.5 L1478.1,1551.2 L1479.6,1550.9 L1481.1,1550.6 L1482.6,1550.3 L1484.2,1550.0 L1485.7,1549.8 L1487.2,1549.5 L1488.7,1549.2 L1490.2,1549.0 L1491.7,1548.8 L1493.3,1548.6 L1494.8,1548.4 L1496.3,1548.3 L1497.8,1548.1 L1499.3,1548.0 L1500.9,1547.9 L1502.4,1547.9 L1503.9,1547.9 L1505.4,1547.9 L1506.9,1548.0 L1508.4,1548.1 L1510.0,1548.2 L1511.5,1548.4 L1513.0,1548.5 L1514.5,1548.7 L1516.0,1549.0 L1517.5,1549.2 L1519.1,1549.4 L1520.6,1549.7 L1522.1,1550.0 L1523.6,1550.2 L1525.1,1550.5 L1526.7,1550.8 L1528.2,1551.1 L1529.7,1551.3 L1531.2,1551.6 L1532.7,1551.8 L1534.2,1552.1 L1535.8,1552.3 L1537.3,1552.5 L1538.8,1552.7 L1540.3,1552.8 L1541.8,1552.9 L1543.4,1553.0 L1544.9,1553.1 L1546.4,1553.2 L1547.9,1553.3 L1549.4,1553.4 L1550.9,1553.5 L1552.5,1553.6 L1554.0,1553.7 L1555.5,1553.8 L1557.0,1553.9 L1558.5,1554.0 L1560.0,1554.0 L1561.6,1554.1 L1563.1,1554.2 L1564.6,1554.2 L1566.1,1554.3 L1567.6,1554.3 L1569.2,1554.3 L1570.7,1554.3 L1572.2,1554.4 L1573.7,1554.3 L1575.2,1554.3 L1576.7,1554.2 L1578.3,1554.1 L1579.8,1553.9 L1581.3,1553.8 L1582.8,1553.6 L1584.3,1553.3 L1585.8,1553.1 L1587.4,1552.8 L1588.9,1552.6 L1590.4,1552.3 L1591.9,1552.0 L1593.4,1551.7 L1595.0,1551.4 L1596.5,1551.1 L1598.0,1550.8 L1599.5,1550.5 L1601.0,1550.3 L1602.5,1550.0 L1604.1,1549.8 L1605.6,1549.5 L1607.1,1549.3 L1608.6,1549.1 L1610.1,1548.9 L1611.6,1548.6 L1613.2,1548.4 L1614.7,1548.1 L1616.2,1547.9 L1617.7,1547.6 L1619.2,1547.4 L1620.8,1547.1 L1622.3,1546.9 L1623.8,1546.6 L1625.3,1546.4 L1626.8,1546.2 L1628.3,1546.0 L1629.9,1545.8 L1631.4,1545.6 L1632.9,1545.5 L1634.4,1545.3 L1635.9,1545.2 L1637.5,1545.1 L1639.0,1545.1 L1640.5,1545.0 L1642.0,1545.0 L1643.5,1545.0 L1645.0,1545.1 L1646.6,1545.1 L1648.1,1545.2 L1649.6,1545.2 L1651.1,1545.3 L1652.6,1545.4 L1654.1,1545.5 L1655.7,1545.6 L1657.2,1545.7 L1658.7,1545.8 L1660.2,1546.0 L1661.7,1546.1 L1663.3,1546.2 L1664.8,1546.3 L1666.3,1546.4 L1667.8,1546.6 L1669.3,1546.7 L1670.8,1546.8 L1672.4,1546.9 L1673.9,1546.9 L1675.4,1547.0 L1676.9,1547.1 L1678.4,1547.1 L1679.9,1547.2 L1681.5,1547.2 L1683.0,1547.2 L1684.5,1547.3 L1686.0,1547.3 L1687.5,1547.3 L1689.1,1547.3 L1690.6,1547.4 L1692.1,1547.4 L1693.6,1547.4 L1695.1,1547.4 L1696.6,1547.4 L1698.2,1547.4 L1699.7,1547.4 L1701.2,1547.5 L1702.7,1547.5 L1704.2,1547.5 L1705.7,1547.5 L1707.3,1547.5 L1708.8,1547.5 L1710.3,1547.5 L1711.8,1547.5 L1713.3,1547.6 L1714.9,1547.6 L1716.4,1547.6 L1717.9,1547.6 L1719.4,1547.6 L1720.9,1547.7 L1722.4,1547.7 L1724.0,1547.7 L1725.5,1547.7 L1727.0,1547.7 L1728.5,1547.8 L1730.0,1547.8 L1731.6,1547.8 L1733.1,1547.9 L1734.6,1547.9 L1736.1,1548.1 L1737.6,1548.2 L1739.1,1548.4 L1740.7,1548.6 L1742.2,1548.9 L1743.7,1549.2 L1745.2,1549.6 L1746.7,1549.9 L1748.2,1550.3 L1749.8,1550.7 L1751.3,1551.2 L1752.8,1551.6 L1754.3,1552.1 L1755.8,1552.6 L1757.4,1553.0 L1758.9,1553.5 L1760.4,1554.0 L1761.9,1554.5 L1763.4,1555.0 L1764.9,1555.5 L1766.5,1556.0 L1768.0,1556.5 L1769.5,1556.9 L1771.0,1557.4 L1772.5,1557.8 L1774.0,1558.2 L1775.6,1558.6 L1777.1,1558.9 L1778.6,1559.3 L1780.1,1559.6 L1781.6,1559.9 L1783.2,1560.2 L1784.7,1560.5 L1786.2,1560.8 L1787.7,1561.1 L1789.2,1561.4 L1790.7,1561.7 L1792.3,1562.0 L1793.8,1562.3 L1795.3,1562.6 L1796.8,1562.9 L1798.3,1563.2 L1799.8,1563.4 L1801.4,1563.7 L1802.9,1564.0 L1804.4,1564.3 L1805.9,1564.5 L1807.4,1564.7 L1809.0,1565.0 L1810.5,1565.2 L1812.0,1565.4 L1813.5,1565.6 L1815.0,1565.8 L1816.5,1565.9 L1818.1,1566.1 L1819.6,1566.2 L1821.1,1566.4 L1822.6,1566.4 L1824.1,1566.5 L1825.7,1566.6 L1827.2,1566.7 L1828.7,1566.7 L1830.2,1566.8 L1831.7,1566.8 L1833.2,1566.9 L1834.8,1566.9 L1836.3,1567.0 L1837.8,1567.0 L1839.3,1567.0 L1840.8,1567.1 L1842.3,1567.1 L1843.9,1567.2 L1845.4,1567.2 L1846.9,1567.2 L1848.4,1567.2 L1849.9,1567.3 L1851.5,1567.3 L1853.0,1567.3 L1854.5,1567.3 L1856.0,1567.3 L1857.5,1567.3 L1859.0,1567.2 L1860.6,1567.2 L1862.1,1567.1 L1863.6,1567.1 L1865.1,1567.0 L1866.6,1566.9 L1868.1,1566.8 L1869.7,1566.6 L1871.2,1566.5 L1872.7,1566.4 L1874.2,1566.3 L1875.7,1566.1 L1877.3,1566.0 L1878.8,1565.9 L1880.3,1565.8 L1881.8,1565.6 L1883.3,1565.5 L1884.8,1565.4 L1886.4,1565.4 L1887.9,1565.3 L1889.4,1565.2 L1890.9,1565.2 L1892.4,1565.1 L1893.9,1565.1 L1895.5,1565.2 L1897.0,1565.3 L1898.5,1565.4 L1900.0,1565.6 L1901.5,1565.9 L1903.1,1566.2 L1904.6,1566.5 L1906.1,1566.9 L1907.6,1567.2 L1909.1,1567.7 L1910.6,1568.1 L1912.2,1568.6 L1913.7,1569.0 L1915.2,1569.5 L1916.7,1570.0 L1918.2,1570.4 L1919.8,1570.9 L1921.3,1571.3 L1922.8,1571.8 L1924.3,1572.2 L1925.8,1572.5 L1927.3,1572.9 L1928.9,1573.2 L1930.4,1573.5 L1931.9,1573.7 L1933.4,1573.9 L1934.9,1574.1 L1936.4,1574.3 L1938.0,1574.5 L1939.5,1574.7 L1941.0,1574.9 L1942.5,1575.1 L1944.0,1575.2 L1945.6,1575.4 L1947.1,1575.5 L1948.6,1575.6 L1950.1,1575.7 L1951.6,1575.8 L1953.1,1575.9 L1954.7,1575.9 L1956.2,1575.9 L1957.7,1575.9 L1959.2,1575.8 L1960.7,1575.7 L1962.2,1575.5 L1963.8,1575.3 L1965.3,1575.1 L1966.8,1574.9 L1968.3,1574.7 L1969.8,1574.4 L1971.4,1574.2 L1972.9,1573.9 L1974.4,1573.6 L1975.9,1573.3 L1977.4,1573.0 L1978.9,1572.7 L1980.5,1572.4 L1982.0,1572.1 L1983.5,1571.9 L1985.0,1571.6 L1986.5,1571.3 L1988.0,1571.1 L1989.6,1570.9 L1991.1,1570.7 L1992.6,1570.5 L1994.1,1570.3 L1995.6,1570.1 L1997.2,1569.9 L1998.7,1569.6 L2000.2,1569.4 L2001.7,1569.2 L2003.2,1569.0 L2004.7,1568.7 L2006.3,1568.5 L2007.8,1568.3 L2009.3,1568.0 L2010.8,1567.8 L2012.3,1567.6 L2013.9,1567.4 L2015.4,1567.1 L2016.9,1566.9 L2018.4,1566.7 L2019.9,1566.5 L2021.4,1566.3 L2023.0,1566.1 L2024.5,1565.9 L2026.0,1565.8 L2027.5,1565.6 L2029.0,1565.4 L2030.5,1565.3 L2032.1,1565.1 L2033.6,1565.0 L2035.1,1564.9 L2036.6,1564.8 L2038.1,1564.7 L2039.7,1564.6 L2041.2,1564.5 L2042.7,1564.5 L2044.2,1564.4 L2045.7,1564.4 L2047.2,1564.4 L2048.8,1564.5 L2050.3,1564.6 L2051.8,1564.7 L2053.3,1564.9 L2054.8,1565.2 L2056.3,1565.5 L2057.9,1565.8 L2059.4,1566.2 L2060.9,1566.6 L2062.4,1567.1 L2063.9,1567.5 L2065.5,1568.0 L2067.0,1568.5 L2068.5,1569.0 L2070.0,1569.5 L2071.5,1570.0 L2073.0,1570.5 L2074.6,1571.0 L2076.1,1571.5 L2077.6,1571.9 L2079.1,1572.3 L2080.6,1572.7 L2082.1,1573.1 L2083.7,1573.4 L2085.2,1573.7 L2086.7,1574.0 L2088.2,1574.2 L2089.7,1574.5 L2091.3,1574.7 L2092.8,1575.0 L2094.3,1575.2 L2095.8,1575.4 L2097.3,1575.7 L2098.8,1575.9 L2100.4,1576.1 L2101.9,1576.3 L2103.4,1576.5 L2104.9,1576.7 L2106.4,1576.9 L2107.9,1577.1 L2109.5,1577.3 L2111.0,1577.5 L2112.5,1577.7 L2114.0,1577.8 L2115.5,1578.0 L2117.1,1578.2 L2118.6,1578.3 L2120.1,1578.5 L2121.6,1578.6 L2123.1,1578.7 L2124.6,1578.9 L2126.2,1579.0 L2127.7,1579.1 L2129.2,1579.3 L2130.7,1579.4 L2132.2,1579.5 L2133.8,1579.6 L2135.3,1579.8 L2136.8,1579.9 L2138.3,1580.0 L2139.8,1580.1 L2141.3,1580.2 L2142.9,1580.3 L2144.4,1580.4 L2145.9,1580.5 L2147.4,1580.6 L2148.9,1580.7 L2150.4,1580.7 L2152.0,1580.8 L2153.5,1580.9 L2155.0,1580.9" stroke="#b78300" stroke-width="4.0" fill="none"/>
<path d="M273.0,1797.2 L274.5,1793.0 L276.0,1787.3 L277.6,1781.2 L279.1,1772.6 L280.6,1760.3 L282.1,1746.3 L283.6,1732.4 L285.1,1718.8 L286.7,1705.6 L288.2,1692.5 L289.7,1679.5 L291.2,1667.3 L292.7,1658.4 L294.2,1653.1 L295.8,1649.2 L297.3,1645.3 L298.8,1641.3 L300.3,1636.9 L301.8,1631.8 L303.4,1626.6 L304.9,1621.4 L306.4,1616.4 L307.9,1612.2 L309.4,1609.0 L310.9,1606.2 L312.5,1603.5 L314.0,1600.8 L315.5,1598.0 L317.0,1595.3 L318.5,1592.8 L320.1,1590.8 L321.6,1589.2 L323.1,1587.7 L324.6,1586.2 L326.1,1584.7 L327.6,1585.9 L329.2,1584.5 L330.7,1584.9 L332.2,1586.6 L333.7,1588.9 L335.2,1591.4 L336.7,1591.5 L338.3,1590.7 L339.8,1591.1 L341.3,1593.6 L342.8,1597.6 L344.3,1598.1 L345.9,1593.9 L347.4,1588.8 L348.9,1586.0 L350.4,1587.7 L351.9,1589.9 L353.4,1590.0 L355.0,1590.4 L356.5,1587.6 L358.0,1581.6 L359.5,1579.7 L361.0,1579.3 L362.5,1577.3 L364.1,1575.4 L365.6,1576.0 L367.1,1578.6 L368.6,1582.4 L370.1,1582.4 L371.7,1577.8 L373.2,1575.6 L374.7,1577.4 L376.2,1579.6 L377.7,1581.0 L379.2,1580.4 L380.8,1577.7 L382.3,1576.4 L383.8,1576.4 L385.3,1575.5 L386.8,1574.1 L388.3,1573.8 L389.9,1574.9 L391.4,1575.4 L392.9,1572.0 L394.4,1569.2 L395.9,1570.8 L397.5,1570.8 L399.0,1568.3 L400.5,1567.8 L402.0,1570.8 L403.5,1574.2 L405.0,1575.2 L406.6,1576.4 L408.1,1576.1 L409.6,1574.3 L411.1,1572.6 L412.6,1569.0 L414.1,1566.4 L415.7,1569.1 L417.2,1574.1 L418.7,1578.5 L420.2,1581.0 L421.7,1581.8 L423.3,1582.1 L424.8,1582.5 L426.3,1582.1 L427.8,1582.2 L429.3,1584.1 L430.8,1585.6 L432.4,1584.4 L433.9,1581.7 L435.4,1580.8 L436.9,1581.4 L438.4,1584.0 L440.0,1588.1 L441.5,1591.1 L443.0,1590.9 L444.5,1587.4 L446.0,1587.8 L447.5,1592.2 L449.1,1595.1 L450.6,1596.3 L452.1,1597.5 L453.6,1595.3 L455.1,1591.0 L456.6,1589.1 L458.2,1588.0 L459.7,1586.6 L461.2,1586.3 L462.7,1585.3 L464.2,1585.4 L465.8,1586.8 L467.3,1588.1 L468.8,1589.0 L470.3,1589.4 L471.8,1591.3 L473.3,1594.3 L474.9,1598.8 L476.4,1602.4 L477.9,1605.2 L479.4,1605.7 L480.9,1603.2 L482.4,1602.4 L484.0,1603.1 L485.5,1602.8 L487.0,1602.9 L488.5,1601.1 L490.0,1598.0 L491.6,1596.8 L493.1,1595.2 L494.6,1590.3 L496.1,1588.0 L497.6,1589.3 L499.1,1591.2 L500.7,1591.7 L502.2,1589.1 L503.7,1585.4 L505.2,1584.8 L506.7,1585.0 L508.2,1582.0 L509.8,1578.7 L511.3,1579.0 L512.8,1578.5 L514.3,1575.9 L515.8,1575.5 L517.4,1577.5 L518.9,1580.2 L520.4,1581.9 L521.9,1580.9 L523.4,1578.0 L524.9,1575.1 L526.5,1572.5 L528.0,1571.1 L529.5,1571.1 L531.0,1572.8 L532.5,1576.3 L534.1,1579.0 L535.6,1579.2 L537.1,1579.5 L538.6,1580.4 L540.1,1582.1 L541.6,1584.8 L543.2,1585.9 L544.7,1585.4 L546.2,1585.9 L547.7,1587.0 L549.2,1587.0 L550.7,1587.3 L552.3,1586.9 L553.8,1583.2 L555.3,1579.9 L556.8,1579.4 L558.3,1577.0 L559.9,1574.4 L561.4,1574.7 L562.9,1575.4 L564.4,1574.3 L565.9,1575.6 L567.4,1577.7 L569.0,1577.5 L570.5,1576.5 L572.0,1576.3 L573.5,1575.9 L575.0,1575.7 L576.5,1577.9 L578.1,1578.4 L579.6,1576.1 L581.1,1575.7 L582.6,1578.5 L584.1,1581.8 L585.7,1582.2 L587.2,1582.3 L588.7,1585.1 L590.2,1590.2 L591.7,1593.5 L593.2,1596.5 L594.8,1598.6 L596.3,1595.5 L597.8,1591.0 L599.3,1589.8 L600.8,1588.0 L602.4,1583.3 L603.9,1579.7 L605.4,1579.4 L606.9,1580.0 L608.4,1578.1 L609.9,1576.4 L611.5,1578.2 L613.0,1578.8 L614.5,1576.5 L616.0,1577.6 L617.5,1584.3 L619.0,1589.8 L620.6,1589.9 L622.1,1587.3 L623.6,1584.5 L625.1,1583.1 L626.6,1583.7 L628.2,1584.3 L629.7,1584.0 L631.2,1583.8 L632.7,1582.3 L634.2,1578.4 L635.7,1574.1 L637.3,1575.5 L638.8,1580.1 L640.3,1582.2 L641.8,1582.9 L643.3,1583.7 L644.8,1582.7 L646.4,1580.1 L647.9,1578.2 L649.4,1579.5 L650.9,1582.2 L652.4,1583.7 L654.0,1582.7 L655.5,1580.1 L657.0,1577.7 L658.5,1576.5 L660.0,1576.5 L661.5,1576.0 L663.1,1576.9 L664.6,1580.4 L666.1,1583.8 L667.6,1582.4 L669.1,1577.6 L670.6,1575.5 L672.2,1576.8 L673.7,1579.1 L675.2,1581.8 L676.7,1583.7 L678.2,1583.3 L679.8,1581.8 L681.3,1582.5 L682.8,1584.6 L684.3,1585.2 L685.8,1585.0 L687.3,1586.3 L688.9,1587.4 L690.4,1586.9 L691.9,1588.5 L693.4,1589.9 L694.9,1589.8 L696.5,1591.8 L698.0,1595.5 L699.5,1599.2 L701.0,1603.1 L702.5,1605.0 L704.0,1603.3 L705.6,1599.4 L707.1,1597.4 L708.6,1595.2 L710.1,1594.2 L711.6,1592.9 L713.1,1589.8 L714.7,1586.5 L716.2,1583.6 L717.7,1582.0 L719.2,1582.9 L720.7,1584.6 L722.3,1585.8 L723.8,1585.4 L725.3,1585.8 L726.8,1586.8 L728.3,1586.6 L729.8,1585.6 L731.4,1584.7 L732.9,1585.0 L734.4,1586.6 L735.9,1586.9 L737.4,1587.1 L738.9,1588.6 L740.5,1587.4 L742.0,1586.9 L743.5,1590.0 L745.0,1589.4 L746.5,1586.9 L748.1,1585.5 L749.6,1584.6 L751.1,1585.5 L752.6,1582.5 L754.1,1579.6 L755.6,1581.1 L757.2,1583.8 L758.7,1585.4 L760.2,1586.0 L761.7,1586.1 L763.2,1587.0 L764.7,1586.1 L766.3,1585.3 L767.8,1586.9 L769.3,1587.4 L770.8,1587.0 L772.3,1586.3 L773.9,1584.1 L775.4,1584.9 L776.9,1587.5 L778.4,1587.7 L779.9,1587.4 L781.4,1586.8 L783.0,1585.7 L784.5,1584.5 L786.0,1583.3 L787.5,1582.8 L789.0,1581.9 L790.6,1581.4 L792.1,1582.0 L793.6,1584.1 L795.1,1585.8 L796.6,1585.0 L798.1,1581.2 L799.7,1576.9 L801.2,1574.7 L802.7,1576.1 L804.2,1579.4 L805.7,1581.1 L807.2,1580.7 L808.8,1579.5 L810.3,1579.0 L811.8,1582.0 L813.3,1586.9 L814.8,1588.2 L816.4,1587.1 L817.9,1588.6 L819.4,1590.3 L820.9,1590.3 L822.4,1590.8 L823.9,1591.4 L825.5,1591.8 L827.0,1590.6 L828.5,1587.6 L830.0,1586.5 L831.5,1585.4 L833.0,1582.3 L834.6,1578.8 L836.1,1577.5 L837.6,1578.2 L839.1,1579.4 L840.6,1580.0 L842.2,1580.4 L843.7,1579.3 L845.2,1578.5 L846.7,1577.8 L848.2,1577.2 L849.7,1579.3 L851.3,1582.6 L852.8,1585.3 L854.3,1586.5 L855.8,1586.4 L857.3,1588.4 L858.8,1590.6 L860.4,1588.8 L861.9,1586.3 L863.4,1585.8 L864.9,1587.7 L866.4,1590.1 L868.0,1588.1 L869.5,1583.7 L871.0,1584.1 L872.5,1586.2 L874.0,1586.4 L875.5,1588.7 L877.1,1593.3 L878.6,1595.6 L880.1,1593.4 L881.6,1589.7 L883.1,1588.5 L884.6,1588.6 L886.2,1588.8 L887.7,1591.1 L889.2,1594.8 L890.7,1595.7 L892.2,1596.2 L893.8,1596.9 L895.3,1595.9 L896.8,1594.4 L898.3,1594.1 L899.8,1593.6 L901.3,1589.5 L902.9,1586.1 L904.4,1588.2 L905.9,1588.9 L907.4,1584.8 L908.9,1581.1 L910.5,1580.7 L912.0,1580.7 L913.5,1579.4 L915.0,1580.0 L916.5,1580.5 L918.0,1578.5 L919.6,1576.3 L921.1,1575.9 L922.6,1578.0 L924.1,1580.7 L925.6,1582.9 L927.1,1585.8 L928.7,1590.4 L930.2,1596.1 L931.7,1597.9 L933.2,1596.8 L934.7,1597.6 L936.3,1597.7 L937.8,1597.4 L939.3,1597.8 L940.8,1597.3 L942.3,1598.0 L943.8,1599.7 L945.4,1596.3 L946.9,1593.4 L948.4,1595.9 L949.9,1597.7 L951.4,1596.7 L952.9,1597.3 L954.5,1600.2 L956.0,1600.4 L957.5,1598.4 L959.0,1596.4 L960.5,1595.1 L962.1,1594.7 L963.6,1595.2 L965.1,1595.5 L966.6,1595.6 L968.1,1594.9 L969.6,1593.3 L971.2,1592.3 L972.7,1590.4 L974.2,1587.5 L975.7,1587.9 L977.2,1588.5 L978.8,1586.3 L980.3,1584.7 L981.8,1582.5 L983.3,1580.1 L984.8,1578.1 L986.3,1576.8 L987.9,1575.1 L989.4,1571.3 L990.9,1569.2 L992.4,1570.5 L993.9,1568.4 L995.4,1567.0 L997.0,1570.4 L998.5,1572.0 L1000.0,1570.9 L1001.5,1572.3 L1003.0,1574.5 L1004.6,1578.8 L1006.1,1583.7 L1007.6,1586.5 L1009.1,1588.4 L1010.6,1591.1 L1012.1,1595.3 L1013.7,1598.8 L1015.2,1598.2 L1016.7,1594.6 L1018.2,1593.2 L1019.7,1593.4 L1021.2,1590.8 L1022.8,1586.7 L1024.3,1583.9 L1025.8,1582.6 L1027.3,1582.6 L1028.8,1582.2 L1030.4,1581.2 L1031.9,1581.3 L1033.4,1582.0 L1034.9,1582.3 L1036.4,1582.6 L1037.9,1582.5 L1039.5,1586.3 L1041.0,1592.2 L1042.5,1597.0 L1044.0,1597.6 L1045.5,1591.8 L1047.0,1584.3 L1048.6,1580.2 L1050.1,1578.7 L1051.6,1575.4 L1053.1,1573.7 L1054.6,1574.5 L1056.2,1574.9 L1057.7,1570.9 L1059.2,1565.8 L1060.7,1563.9 L1062.2,1567.1 L1063.7,1571.2 L1065.3,1572.3 L1066.8,1574.1 L1068.3,1577.0 L1069.8,1580.1 L1071.3,1584.8 L1072.8,1592.3 L1074.4,1599.4 L1075.9,1601.7 L1077.4,1599.5 L1078.9,1597.6 L1080.4,1596.8 L1082.0,1595.2 L1083.5,1592.1 L1085.0,1589.2 L1086.5,1586.5 L1088.0,1581.5 L1089.5,1575.7 L1091.1,1574.4 L1092.6,1575.6 L1094.1,1574.9 L1095.6,1571.7 L1097.1,1568.3 L1098.7,1567.8 L1100.2,1569.7 L1101.7,1571.5 L1103.2,1573.0 L1104.7,1572.7 L1106.2,1570.2 L1107.8,1569.2 L1109.3,1571.5 L1110.8,1577.1 L1112.3,1580.7 L1113.8,1582.6 L1115.3,1587.2 L1116.9,1592.1 L1118.4,1592.8 L1119.9,1590.5 L1121.4,1588.8 L1122.9,1587.7 L1124.5,1586.0 L1126.0,1585.7 L1127.5,1587.3 L1129.0,1588.9 L1130.5,1589.0 L1132.0,1587.5 L1133.6,1586.7 L1135.1,1587.6 L1136.6,1589.1 L1138.1,1591.8 L1139.6,1594.0 L1141.1,1592.9 L1142.7,1589.8 L1144.2,1588.1 L1145.7,1588.4 L1147.2,1590.1 L1148.7,1590.6 L1150.3,1590.9 L1151.8,1593.8 L1153.3,1598.0 L1154.8,1600.2 L1156.3,1601.5 L1157.8,1602.5 L1159.4,1601.4 L1160.9,1601.0 L1162.4,1601.6 L1163.9,1602.1 L1165.4,1604.3 L1167.0,1605.2 L1168.5,1603.4 L1170.0,1600.3 L1171.5,1595.8 L1173.0,1590.7 L1174.5,1586.0 L1176.1,1583.8 L1177.6,1583.4 L1179.1,1584.1 L1180.6,1584.4 L1182.1,1582.3 L1183.6,1578.9 L1185.2,1575.0 L1186.7,1571.5 L1188.2,1568.3 L1189.7,1566.9 L1191.2,1566.8 L1192.8,1566.9 L1194.3,1565.9 L1195.8,1564.1 L1197.3,1563.5 L1198.8,1563.2 L1200.3,1559.5 L1201.9,1556.2 L1203.4,1558.1 L1204.9,1561.0 L1206.4,1561.9 L1207.9,1559.9 L1209.4,1555.5 L1211.0,1552.8 L1212.5,1549.7 L1214.0,1545.2 L1215.5,1545.3 L1217.0,1550.6 L1218.6,1553.9 L1220.1,1556.1 L1221.6,1559.3 L1223.1,1562.3 L1224.6,1564.2 L1226.1,1565.3 L1227.7,1568.0 L1229.2,1569.8 L1230.7,1569.2 L1232.2,1569.0 L1233.7,1569.5 L1235.2,1568.4 L1236.8,1567.0 L1238.3,1568.4 L1239.8,1572.0 L1241.3,1576.6 L1242.8,1581.2 L1244.4,1585.2 L1245.9,1588.4 L1247.4,1593.1 L1248.9,1597.2 L1250.4,1596.2 L1251.9,1594.6 L1253.5,1596.0 L1255.0,1596.8 L1256.5,1595.2 L1258.0,1595.2 L1259.5,1595.1 L1261.1,1591.6 L1262.6,1586.3 L1264.1,1584.2 L1265.6,1588.3 L1267.1,1597.0 L1268.6,1606.0 L1270.2,1612.6 L1271.7,1617.8 L1273.2,1623.4 L1274.7,1628.8 L1276.2,1630.1 L1277.7,1627.8 L1279.3,1624.9 L1280.8,1622.8 L1282.3,1622.0 L1283.8,1619.5 L1285.3,1612.8 L1286.9,1604.5 L1288.4,1599.3 L1289.9,1595.7 L1291.4,1591.0 L1292.9,1586.2 L1294.4,1582.3 L1296.0,1581.7 L1297.5,1582.2 L1299.0,1581.9 L1300.5,1583.1 L1302.0,1584.2 L1303.5,1582.6 L1305.1,1578.9 L1306.6,1576.4 L1308.1,1575.1 L1309.6,1572.9 L1311.1,1570.6 L1312.7,1571.5 L1314.2,1572.1 L1315.7,1570.6 L1317.2,1571.7 L1318.7,1577.6 L1320.2,1583.5 L1321.8,1584.5 L1323.3,1583.4 L1324.8,1583.5 L1326.3,1585.8 L1327.8,1589.8 L1329.3,1591.9 L1330.9,1592.6 L1332.4,1592.3 L1333.9,1592.3 L1335.4,1593.1 L1336.9,1596.1 L1338.5,1598.7 L1340.0,1598.5 L1341.5,1596.7 L1343.0,1593.5 L1344.5,1588.8 L1346.0,1587.0 L1347.6,1589.4 L1349.1,1592.0 L1350.6,1591.8 L1352.1,1589.7 L1353.6,1587.3 L1355.2,1587.4 L1356.7,1589.8 L1358.2,1593.8 L1359.7,1597.2 L1361.2,1597.2 L1362.7,1595.2 L1364.3,1593.0 L1365.8,1593.0 L1367.3,1594.2 L1368.8,1592.9 L1370.3,1592.2 L1371.8,1595.4 L1373.4,1598.1 L1374.9,1598.7 L1376.4,1599.1 L1377.9,1598.3 L1379.4,1596.3 L1381.0,1597.3 L1382.5,1601.6 L1384.0,1602.9 L1385.5,1602.6 L1387.0,1603.0 L1388.5,1602.9 L1390.1,1601.1 L1391.6,1599.0 L1393.1,1598.7 L1394.6,1598.1 L1396.1,1596.4 L1397.6,1594.8 L1399.2,1592.7 L1400.7,1590.5 L1402.2,1589.9 L1403.7,1589.8 L1405.2,1590.3 L1406.8,1591.2 L1408.3,1591.3 L1409.8,1591.1 L1411.3,1591.6 L1412.8,1593.9 L1414.3,1595.6 L1415.9,1595.5 L1417.4,1597.2 L1418.9,1599.2 L1420.4,1598.7 L1421.9,1600.1 L1423.4,1601.5 L1425.0,1600.3 L1426.5,1598.7 L1428.0,1595.6 L1429.5,1591.8 L1431.0,1591.1 L1432.6,1588.9 L1434.1,1585.8 L1435.6,1584.2 L1437.1,1580.3 L1438.6,1574.0 L1440.1,1570.0 L1441.7,1570.1 L1443.2,1569.7 L1444.7,1569.9 L1446.2,1573.3 L1447.7,1576.6 L1449.2,1577.3 L1450.8,1577.7 L1452.3,1578.1 L1453.8,1578.6 L1455.3,1580.8 L1456.8,1584.7 L1458.4,1588.9 L1459.9,1591.8 L1461.4,1591.7 L1462.9,1591.2 L1464.4,1591.8 L1465.9,1592.2 L1467.5,1590.9 L1469.0,1587.2 L1470.5,1586.5 L1472.0,1590.1 L1473.5,1592.8 L1475.1,1593.5 L1476.6,1593.7 L1478.1,1595.7 L1479.6,1599.0 L1481.1,1601.7 L1482.6,1604.0 L1484.2,1605.7 L1485.7,1606.5 L1487.2,1607.6 L1488.7,1608.0 L1490.2,1607.4 L1491.7,1605.8 L1493.3,1604.4 L1494.8,1603.8 L1496.3,1603.4 L1497.8,1601.7 L1499.3,1599.7 L1500.9,1597.8 L1502.4,1595.7 L1503.9,1595.7 L1505.4,1597.3 L1506.9,1596.6 L1508.4,1594.7 L1510.0,1593.6 L1511.5,1595.4 L1513.0,1595.8 L1514.5,1592.4 L1516.0,1588.4 L1517.5,1588.0 L1519.1,1588.3 L1520.6,1589.3 L1522.1,1589.8 L1523.6,1587.0 L1525.1,1583.6 L1526.7,1582.2 L1528.2,1581.7 L1529.7,1582.4 L1531.2,1582.8 L1532.7,1581.7 L1534.2,1578.5 L1535.8,1576.0 L1537.3,1577.4 L1538.8,1581.4 L1540.3,1585.5 L1541.8,1587.4 L1543.4,1588.8 L1544.9,1593.3 L1546.4,1596.0 L1547.9,1594.9 L1549.4,1592.6 L1550.9,1592.5 L1552.5,1595.2 L1554.0,1594.3 L1555.5,1593.4 L1557.0,1595.0 L1558.5,1593.5 L1560.0,1588.9 L1561.6,1586.8 L1563.1,1589.1 L1564.6,1589.1 L1566.1,1585.0 L1567.6,1584.3 L1569.2,1589.0 L1570.7,1591.7 L1572.2,1589.3 L1573.7,1588.0 L1575.2,1588.6 L1576.7,1591.0 L1578.3,1593.2 L1579.8,1592.4 L1581.3,1590.3 L1582.8,1592.7 L1584.3,1597.0 L1585.8,1593.8 L1587.4,1587.4 L1588.9,1586.1 L1590.4,1585.4 L1591.9,1581.4 L1593.4,1577.3 L1595.0,1574.4 L1596.5,1572.0 L1598.0,1569.2 L1599.5,1567.4 L1601.0,1568.7 L1602.5,1572.2 L1604.1,1574.6 L1605.6,1575.2 L1607.1,1575.9 L1608.6,1579.3 L1610.1,1583.1 L1611.6,1585.4 L1613.2,1587.1 L1614.7,1588.3 L1616.2,1588.1 L1617.7,1587.1 L1619.2,1588.7 L1620.8,1592.4 L1622.3,1593.8 L1623.8,1592.9 L1625.3,1593.2 L1626.8,1595.0 L1628.3,1595.9 L1629.9,1592.5 L1631.4,1585.0 L1632.9,1578.7 L1634.4,1576.3 L1635.9,1574.8 L1637.5,1571.1 L1639.0,1567.6 L1640.5,1564.7 L1642.0,1564.6 L1643.5,1568.4 L1645.0,1573.1 L1646.6,1577.2 L1648.1,1579.2 L1649.6,1579.2 L1651.1,1577.6 L1652.6,1576.8 L1654.1,1577.9 L1655.7,1580.9 L1657.2,1583.1 L1658.7,1582.5 L1660.2,1580.6 L1661.7,1578.7 L1663.3,1578.4 L1664.8,1578.8 L1666.3,1577.1 L1667.8,1575.6 L1669.3,1575.2 L1670.8,1574.4 L1672.4,1575.9 L1673.9,1581.4 L1675.4,1587.7 L1676.9,1591.7 L1678.4,1592.4 L1679.9,1593.4 L1681.5,1593.4 L1683.0,1589.6 L1684.5,1587.1 L1686.0,1587.8 L1687.5,1588.2 L1689.1,1586.9 L1690.6,1585.7 L1692.1,1585.6 L1693.6,1582.3 L1695.1,1579.0 L1696.6,1581.0 L1698.2,1585.1 L1699.7,1589.6 L1701.2,1593.1 L1702.7,1594.1 L1704.2,1595.6 L1705.7,1597.9 L1707.3,1597.8 L1708.8,1597.6 L1710.3,1601.9 L1711.8,1609.1 L1713.3,1613.0 L1714.9,1611.0 L1716.4,1604.9 L1717.9,1600.8 L1719.4,1600.4 L1720.9,1601.6 L1722.4,1600.6 L1724.0,1596.8 L1725.5,1594.1 L1727.0,1592.2 L1728.5,1588.6 L1730.0,1585.6 L1731.6,1585.9 L1733.1,1588.4 L1734.6,1588.5 L1736.1,1584.3 L1737.6,1580.4 L1739.1,1579.1 L1740.7,1578.3 L1742.2,1576.1 L1743.7,1573.2 L1745.2,1573.3 L1746.7,1576.6 L1748.2,1580.7 L1749.8,1583.1 L1751.3,1585.3 L1752.8,1589.2 L1754.3,1591.8 L1755.8,1591.2 L1757.4,1590.2 L1758.9,1591.4 L1760.4,1594.1 L1761.9,1599.1 L1763.4,1604.1 L1764.9,1605.3 L1766.5,1601.1 L1768.0,1595.4 L1769.5,1592.6 L1771.0,1590.9 L1772.5,1589.7 L1774.0,1589.4 L1775.6,1588.3 L1777.1,1585.5 L1778.6,1582.6 L1780.1,1581.7 L1781.6,1582.6 L1783.2,1584.7 L1784.7,1587.0 L1786.2,1588.0 L1787.7,1587.7 L1789.2,1588.1 L1790.7,1589.6 L1792.3,1586.8 L1793.8,1583.9 L1795.3,1587.5 L1796.8,1591.6 L1798.3,1591.1 L1799.8,1590.4 L1801.4,1592.2 L1802.9,1594.2 L1804.4,1595.9 L1805.9,1594.8 L1807.4,1592.2 L1809.0,1594.7 L1810.5,1598.2 L1812.0,1598.1 L1813.5,1595.8 L1815.0,1593.9 L1816.5,1593.6 L1818.1,1595.5 L1819.6,1596.9 L1821.1,1595.5 L1822.6,1595.1 L1824.1,1596.3 L1825.7,1596.7 L1827.2,1594.6 L1828.7,1591.6 L1830.2,1589.5 L1831.7,1587.8 L1833.2,1584.4 L1834.8,1582.2 L1836.3,1582.3 L1837.8,1582.4 L1839.3,1581.7 L1840.8,1582.6 L1842.3,1585.9 L1843.9,1587.2 L1845.4,1586.8 L1846.9,1584.7 L1848.4,1583.0 L1849.9,1584.0 L1851.5,1585.0 L1853.0,1583.8 L1854.5,1580.9 L1856.0,1581.2 L1857.5,1585.9 L1859.0,1592.0 L1860.6,1594.0 L1862.1,1593.1 L1863.6,1594.7 L1865.1,1597.3 L1866.6,1599.7 L1868.1,1601.7 L1869.7,1601.9 L1871.2,1602.8 L1872.7,1605.1 L1874.2,1607.7 L1875.7,1609.1 L1877.3,1608.3 L1878.8,1603.9 L1880.3,1599.4 L1881.8,1597.1 L1883.3,1596.2 L1884.8,1597.2 L1886.4,1597.4 L1887.9,1592.8 L1889.4,1588.5 L1890.9,1586.3 L1892.4,1585.4 L1893.9,1584.9 L1895.5,1582.7 L1897.0,1579.7 L1898.5,1579.7 L1900.0,1583.2 L1901.5,1584.4 L1903.1,1583.2 L1904.6,1582.8 L1906.1,1582.4 L1907.6,1584.9 L1909.1,1586.5 L1910.6,1583.6 L1912.2,1582.2 L1913.7,1583.1 L1915.2,1581.4 L1916.7,1579.7 L1918.2,1579.2 L1919.8,1581.3 L1921.3,1582.0 L1922.8,1577.7 L1924.3,1572.1 L1925.8,1568.2 L1927.3,1567.9 L1928.9,1570.6 L1930.4,1573.4 L1931.9,1574.8 L1933.4,1575.9 L1934.9,1577.8 L1936.4,1580.6 L1938.0,1582.5 L1939.5,1580.1 L1941.0,1575.9 L1942.5,1573.7 L1944.0,1576.7 L1945.6,1581.3 L1947.1,1584.1 L1948.6,1586.6 L1950.1,1587.5 L1951.6,1585.3 L1953.1,1580.6 L1954.7,1579.8 L1956.2,1581.4 L1957.7,1579.7 L1959.2,1576.6 L1960.7,1575.9 L1962.2,1577.3 L1963.8,1579.1 L1965.3,1578.5 L1966.8,1575.6 L1968.3,1574.0 L1969.8,1575.1 L1971.4,1574.1 L1972.9,1571.0 L1974.4,1569.0 L1975.9,1566.4 L1977.4,1563.8 L1978.9,1560.9 L1980.5,1558.6 L1982.0,1558.7 L1983.5,1560.5 L1985.0,1562.4 L1986.5,1560.9 L1988.0,1555.9 L1989.6,1551.6 L1991.1,1550.8 L1992.6,1553.2 L1994.1,1558.3 L1995.6,1562.1 L1997.2,1564.5 L1998.7,1568.0 L2000.2,1571.9 L2001.7,1574.3 L2003.2,1575.6 L2004.7,1578.1 L2006.3,1580.6 L2007.8,1582.5 L2009.3,1583.5 L2010.8,1585.6 L2012.3,1587.7 L2013.9,1588.9 L2015.4,1586.2 L2016.9,1582.7 L2018.4,1582.2 L2019.9,1582.1 L2021.4,1582.8 L2023.0,1582.4 L2024.5,1578.0 L2026.0,1574.9 L2027.5,1574.2 L2029.0,1573.5 L2030.5,1574.1 L2032.1,1574.3 L2033.6,1572.4 L2035.1,1569.4 L2036.6,1567.5 L2038.1,1568.6 L2039.7,1567.9 L2041.2,1568.7 L2042.7,1572.8 L2044.2,1572.9 L2045.7,1569.1 L2047.2,1566.8 L2048.8,1565.3 L2050.3,1565.4 L2051.8,1569.1 L2053.3,1574.1 L2054.8,1575.9 L2056.3,1573.5 L2057.9,1571.4 L2059.4,1570.3 L2060.9,1570.7 L2062.4,1570.4 L2063.9,1567.2 L2065.5,1566.2 L2067.0,1569.5 L2068.5,1573.7 L2070.0,1575.0 L2071.5,1574.2 L2073.0,1573.4 L2074.6,1571.7 L2076.1,1568.5 L2077.6,1566.1 L2079.1,1565.3 L2080.6,1564.0 L2082.1,1562.4 L2083.7,1564.9 L2085.2,1568.2 L2086.7,1565.7 L2088.2,1560.7 L2089.7,1558.1 L2091.3,1558.8 L2092.8,1559.9 L2094.3,1559.3 L2095.8,1558.2 L2097.3,1558.8 L2098.8,1559.7 L2100.4,1558.8 L2101.9,1557.6 L2103.4,1558.9 L2104.9,1559.4 L2106.4,1557.3 L2107.9,1556.1 L2109.5,1555.4 L2111.0,1554.6 L2112.5,1554.5 L2114.0,1557.1 L2115.5,1561.6 L2117.1,1564.9 L2118.6,1565.1 L2120.1,1562.8 L2121.6,1562.5 L2123.1,1564.8 L2124.6,1568.6 L2126.2,1568.9 L2127.7,1564.5 L2129.2,1562.2 L2130.7,1561.6 L2132.2,1560.1 L2133.8,1558.4 L2135.3,1558.6 L2136.8,1558.8 L2138.3,1556.6 L2139.8,1555.2 L2141.3,1552.6 L2142.9,1548.4 L2144.4,1548.0 L2145.9,1551.3 L2147.4,1552.8 L2148.9,1549.8 L2150.4,1547.3 L2152.0,1548.4 L2153.5,1550.4 L2155.0,1550.8" stroke="#000" stroke-width="4.1" fill="none" stroke-linejoin="round"/>
<path d="M334.2,1589.6 L341.9,1681.5 L347.7,1658.5 L353.3,1551.5 L361.0,1528.5 L372.6,1501.9 L374.4,1563.0 L378.2,1532.1 L383.9,1490.4 L387.7,1448.0 L391.7,1398.4 L395.5,1352.5 L399.3,1320.1 L405.0,1384.1 L408.8,1356.0 L412.6,1409.9 L414.6,1455.9 L418.4,1509.1 L422.2,1455.9 L426.0,1474.6 L429.9,1513.4 L433.7,1474.6 L437.5,1551.5 L439.5,1609.0 L443.3,1666.4 L450.9,1708.1 L454.8,1647.0 L460.4,1540.0 L468.2,1589.6 L472.0,1647.0 L475.8,1723.9 L481.5,1764.2 L487.3,1723.9 L493.1,1647.0 L498.7,1570.2 L506.4,1540.0 L518.0,1559.4 L525.6,1517.0 L531.3,1478.9 L537.1,1494.0 L540.9,1532.1 L546.6,1589.6 L554.2,1612.6 L560.0,1578.1 L567.6,1543.6 L575.3,1524.9 L579.1,1520.6 L582.9,1551.5 L590.7,1609.0 L598.3,1647.0 L602.0,1589.6 L609.8,1532.1 L617.4,1551.5 L625.1,1581.7 L634.7,1547.9 L640.3,1578.1" stroke="#000" stroke-width="4.1" fill="none" stroke-dasharray="30 22.5" stroke-linejoin="round"/>
<path d="M1257.6,1610.4 L1261.4,1394.1 L1267.1,1657.1 L1272.9,1944.5 L1278.7,1987.6 L1286.2,1800.8 L1290.0,1549.3 L1293.8,1506.2 L1301.6,1477.5 L1307.3,1448.7 L1311.1,1369.7 L1314.9,1405.6 L1318.7,1455.9 L1322.7,1606.8 L1328.3,1831.0 L1332.2,1911.4 L1337.8,1822.4 L1347.4,1647.0 L1355.2,1585.2 L1358.9,1721.8 L1366.5,1800.8 L1370.5,1772.1 L1378.1,1879.8 L1381.9,1930.1 L1393.4,1987.6 L1397.2,1800.8 L1403.0,1628.4 L1404.9,1555.1 L1408.7,1647.0 L1412.5,1800.8 L1416.3,1915.8 L1427.8,1987.6 L1431.6,1721.8 L1435.4,1494.0 L1439.4,1226.0 L1443.2,1154.2 L1447.0,1261.9 L1450.8,1455.9 L1454.6,1494.0 L1458.5,1609.0 L1462.3,1685.1 L1469.9,1693.0 L1472.9,1685.8 L1480.7,1762.0 L1484.5,1792.9 L1490.2,1823.1 L1494.0,1781.4 L1497.8,1704.5 L1503.6,1666.4 L1509.4,1627.6 L1515.1,1604.6 L1520.9,1570.2 L1524.7,1551.5 L1530.4,1524.9 L1536.1,1532.1 L1541.8,1555.1 L1545.8,1589.6 L1549.6,1616.1 L1555.3,1647.0 L1561.0,1589.6 L1566.7,1609.0 L1572.5,1666.4 L1576.3,1723.9 L1580.1,1762.0 L1584.0,1685.1 L1587.8,1551.5 L1591.6,1478.9 L1595.4,1436.5 L1598.4,1386.9 L1601.2,1409.9 L1605.0,1494.0 L1608.9,1570.2 L1614.5,1647.0 L1620.3,1700.9 L1626.1,1658.5 L1629.9,1589.6 L1633.7,1474.6 L1637.6,1436.5 L1641.4,1398.4 L1645.2,1451.6 L1649.0,1513.4 L1652.9,1551.5 L1656.7,1532.1 L1662.5,1551.5 L1666.3,1494.0 L1670.1,1532.1 L1675.8,1570.2 L1681.6,1647.0 L1687.2,1609.0 L1693.0,1570.2 L1700.7,1589.6 L1706.5,1647.0 L1712.1,1723.9 L1714.1,1769.9 L1717.9,1704.5 L1723.7,1647.0 L1727.5,1609.0 L1733.2,1524.9 L1739.0,1490.4 L1744.8,1463.1 L1748.5,1532.1 L1752.3,1609.0 L1756.1,1685.1 L1761.9,1762.0 L1763.9,1785.0 L1767.7,1704.5 L1771.5,1609.0 L1777.2,1570.2 L1781.0,1555.1 L1786.8,1589.6 L1790.6,1647.0 L1796.4,1540.0 L1802.1,1570.2 L1805.9,1647.0 L1807.9,1762.0 L1811.7,1831.0 L1813.7,1831.0 L1817.5,1723.9 L1821.2,1742.6 L1825.0,1627.6 L1829.0,1570.2 L1834.8,1532.1 L1840.4,1455.9 L1843.4,1421.4 L1846.1,1474.6 L1849.9,1532.1 L1853.7,1609.0 L1857.7,1685.1 L1861.5,1800.1 L1865.3,1857.6 L1869.1,1926.5 L1872.9,1987.6 L1878.6,1877.0 L1884.4,1762.0 L1888.2,1609.0 L1890.2,1513.4 L1893.9,1474.6 L1897.7,1532.1 L1901.7,1494.0 L1904.7,1428.6 L1909.3,1513.4 L1913.1,1551.5 L1918.8,1474.6 L1922.6,1455.9 L1926.4,1379.0 L1930.4,1295.0 L1934.2,1272.0 L1938.0,1341.0 L1941.8,1455.9 L1945.7,1570.9 L1947.5,1658.5 L1951.5,1532.1 L1955.3,1494.0 L1959.1,1474.6 L1962.9,1436.5 L1966.8,1386.9 L1970.6,1413.5 L1974.4,1302.9 L1980.2,1241.1 L1985.8,1182.9 L1999.3,1182.9 L2002.5,1305.0" stroke="#000" stroke-width="4.1" fill="none" stroke-dasharray="30 22.5" stroke-linejoin="round"/>
</g>
<path d="M498.1,1318.0H612.7M498.1,1318.0V1389.8M519.8,1318.0V1389.8M560.6,1318.0V1389.8M612.7,1318.0V1389.8" stroke="#000" stroke-width="3.6" fill="none" stroke-linecap="square"/>
<path d="M472.4,1369.7H681.8M472.4,1369.7V1441.5M508.8,1369.7V1441.5M516.2,1369.7V1441.5M570.3,1369.7V1441.5M681.8,1369.7V1441.5" stroke="#000" stroke-width="3.6" fill="none" stroke-linecap="square"/>
<path d="M1128.9,1369.7H1500.9M1128.9,1369.7V1441.5M1272.3,1369.7V1441.5M1500.9,1369.7V1441.5" stroke="#000" stroke-width="3.6" fill="none" stroke-linecap="square"/>
<path d="M1544.2,1318.0H1724.9M1544.2,1318.0V1389.8M1600.4,1318.0V1389.8M1663.3,1318.0V1389.8M1724.9,1318.0V1389.8" stroke="#000" stroke-width="3.6" fill="none" stroke-linecap="square"/>
<path d="M1646.3,1369.7H1872.8M1646.3,1369.7V1441.5M1725.1,1369.7V1441.5M1795.1,1369.7V1441.5M1872.8,1369.7V1441.5" stroke="#000" stroke-width="3.6" fill="none" stroke-linecap="square"/>
<text x="558.5" y="1305.0" style="font-family:'DejaVu Sans','Liberation Sans',sans-serif;font-weight:200;stroke:#000;stroke-width:0.8px;font-size:35.5px;font-style:italic;stroke-width:0.5px;">m38</text>
<text x="634.5" y="1355.5" style="font-family:'DejaVu Sans','Liberation Sans',sans-serif;font-weight:200;stroke:#000;stroke-width:0.8px;font-size:35.5px;font-style:italic;stroke-width:0.5px;">m37</text>
<text x="1269.5" y="1355.5" style="font-family:'DejaVu Sans','Liberation Sans',sans-serif;font-weight:200;stroke:#000;stroke-width:0.8px;font-size:35.5px;font-style:italic;stroke-width:0.5px;">m42</text>
<text x="1621.5" y="1304.5" style="font-family:'DejaVu Sans','Liberation Sans',sans-serif;font-weight:200;stroke:#000;stroke-width:0.8px;font-size:35.5px;font-style:italic;stroke-width:0.5px;">m49</text>
<text x="1773.5" y="1355.5" style="font-family:'DejaVu Sans','Liberation Sans',sans-serif;font-weight:200;stroke:#000;stroke-width:0.8px;font-size:35.5px;font-style:italic;stroke-width:0.5px;">m48</text>
<text x="189.2" y="87.7" style="font-family:'DejaVu Sans','Liberation Sans',sans-serif;font-weight:200;stroke:#000;stroke-width:0.8px;font-size:70px">2</text>
<text x="119.7 165.0 188.7" y="283.1" style="font-family:'DejaVu Sans','Liberation Sans',sans-serif;font-weight:200;stroke:#000;stroke-width:0.8px;font-size:70px">1.5</text>
<text x="188.2" y="478.4" style="font-family:'DejaVu Sans','Liberation Sans',sans-serif;font-weight:200;stroke:#000;stroke-width:0.8px;font-size:70px">1</text>
<text x="120.7 165.0 188.7" y="669.4" style="font-family:'DejaVu Sans','Liberation Sans',sans-serif;font-weight:200;stroke:#000;stroke-width:0.8px;font-size:70px">2.5</text>
<text x="189.2" y="813.4" style="font-family:'DejaVu Sans','Liberation Sans',sans-serif;font-weight:200;stroke:#000;stroke-width:0.8px;font-size:70px">2</text>
<text x="119.7 165.0 188.7" y="957.4" style="font-family:'DejaVu Sans','Liberation Sans',sans-serif;font-weight:200;stroke:#000;stroke-width:0.8px;font-size:70px">1.5</text>
<text x="188.2" y="1101.4" style="font-family:'DejaVu Sans','Liberation Sans',sans-serif;font-weight:200;stroke:#000;stroke-width:0.8px;font-size:70px">1</text>
<text x="119.7 165.0 189.2" y="1323.0" style="font-family:'DejaVu Sans','Liberation Sans',sans-serif;font-weight:200;stroke:#000;stroke-width:0.8px;font-size:70px">0.4</text>
<text x="119.7 165.0 189.2" y="1466.8" style="font-family:'DejaVu Sans','Liberation Sans',sans-serif;font-weight:200;stroke:#000;stroke-width:0.8px;font-size:70px">0.2</text>
<text x="188.2" y="1610.5" style="font-family:'DejaVu Sans','Liberation Sans',sans-serif;font-weight:200;stroke:#000;stroke-width:0.8px;font-size:70px">0</text>
<text x="62.6 119.7 165.0 189.2" y="1754.2" style="font-family:'DejaVu Sans','Liberation Sans',sans-serif;font-weight:200;stroke:#000;stroke-width:0.8px;font-size:70px">&#8722;0.2</text>
<text x="62.6 119.7 165.0 189.2" y="1897.9" style="font-family:'DejaVu Sans','Liberation Sans',sans-serif;font-weight:200;stroke:#000;stroke-width:0.8px;font-size:70px">&#8722;0.4</text>
<text x="245.4 290.6 334.8 380.0" y="2034.5" style="font-family:'DejaVu Sans','Liberation Sans',sans-serif;font-weight:200;stroke:#000;stroke-width:0.8px;font-size:70px">4400</text>
<text x="549.0 592.7 638.4 683.6" y="2034.5" style="font-family:'DejaVu Sans','Liberation Sans',sans-serif;font-weight:200;stroke:#000;stroke-width:0.8px;font-size:70px">4600</text>
<text x="852.5 896.7 941.9 987.1" y="2034.5" style="font-family:'DejaVu Sans','Liberation Sans',sans-serif;font-weight:200;stroke:#000;stroke-width:0.8px;font-size:70px">4800</text>
<text x="1155.6 1200.3 1245.5 1290.7" y="2034.5" style="font-family:'DejaVu Sans','Liberation Sans',sans-serif;font-weight:200;stroke:#000;stroke-width:0.8px;font-size:70px">5000</text>
<text x="1459.1 1504.8 1549.0 1594.2" y="2034.5" style="font-family:'DejaVu Sans','Liberation Sans',sans-serif;font-weight:200;stroke:#000;stroke-width:0.8px;font-size:70px">5200</text>
<text x="1762.7 1808.4 1852.6 1897.8" y="2034.5" style="font-family:'DejaVu Sans','Liberation Sans',sans-serif;font-weight:200;stroke:#000;stroke-width:0.8px;font-size:70px">5400</text>
<text x="2066.2 2110.4 2156.1 2201.3" y="2034.5" style="font-family:'DejaVu Sans','Liberation Sans',sans-serif;font-weight:200;stroke:#000;stroke-width:0.8px;font-size:70px">5600</text>
<text x="901.5 949.6 991.2 1029.7" y="2137" style="font-family:'DejaVu Sans','Liberation Sans',sans-serif;font-weight:200;stroke:#000;stroke-width:0.8px;font-size:67px">Rest</text>
<text x="1093.9 1119.4 1149.1 1192.2 1259.5" y="2137" style="font-family:'DejaVu Sans','Liberation Sans',sans-serif;font-weight:200;stroke:#000;stroke-width:0.8px;font-size:67px">frame</text>
<text x="1336.7" y="2137" style="font-family:'DejaVu Sans','Liberation Sans',sans-serif;font-weight:200;stroke:#000;stroke-width:0.8px;font-size:67px">&#955;</text>
<text x="1418" y="2142.7" style="font-family:'Liberation Serif',serif;stroke:#000;stroke-width:0.5px;font-size:93px;stroke-width:0">[</text>
<text x="1498" y="2142.7" style="font-family:'Liberation Serif',serif;stroke:#000;stroke-width:0.5px;font-size:93px;stroke-width:0">]</text>
<text transform="translate(1448.6,2139) scale(0.82,1)" style="font-family:'Liberation Serif',serif;stroke:#000;stroke-width:0.5px;font-size:80px">&#197;</text>
<text transform="translate(88,927) rotate(-90)" style="font-family:'DejaVu Sans','Liberation Sans',sans-serif;font-weight:200;stroke:#000;stroke-width:0.8px;font-size:67px">f<tspan dx="3" dy="25" style="font-size:46px;stroke-width:1.4px">&#955;</tspan></text>
<text transform="translate(90,1633) rotate(-90)" style="font-family:'DejaVu Sans','Liberation Sans',sans-serif;font-weight:200;stroke:#000;stroke-width:0.8px;font-size:67px"><tspan style="stroke-width:2.4px">&#948;</tspan>f<tspan dx="3" dy="25" style="font-size:46px;stroke-width:1.4px">&#955;</tspan></text>
<text x="1546.2 1588 1630 1669.3 1717" y="180.5" style="font-family:'DejaVu Sans','Liberation Sans',sans-serif;font-weight:200;stroke:#000;stroke-width:0.8px;font-size:69px">A1 RQ</text>
<text x="1546.2 1588 1630 1669.5 1716.2" y="790" style="font-family:'DejaVu Sans','Liberation Sans',sans-serif;font-weight:200;stroke:#000;stroke-width:0.8px;font-size:69px">A1 CD</text>
</svg>
</body></html>
